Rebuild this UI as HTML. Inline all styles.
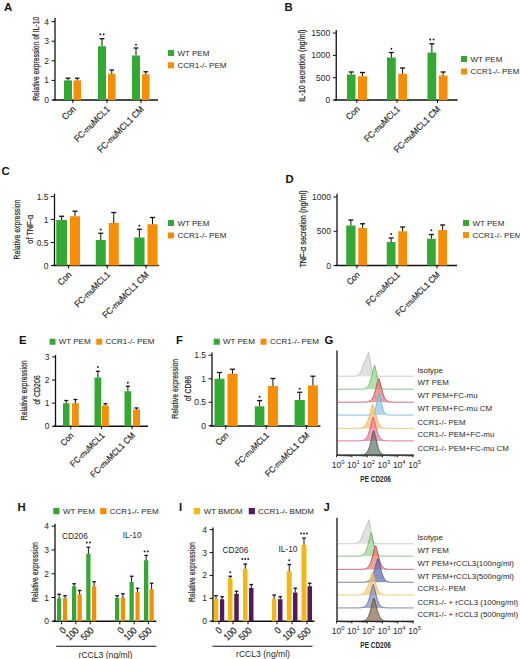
<!DOCTYPE html>
<html><head><meta charset="utf-8"><style>
html,body{margin:0;padding:0;background:#fff;}
svg{display:block;font-family:"Liberation Sans",sans-serif;}
</style></head><body>
<svg width="520" height="659" viewBox="0 0 520 659">
<rect width="520" height="659" fill="#fff"/>
<text x="4.00" y="10.50" font-size="11.3" text-anchor="start" font-weight="bold" fill="#111" >A</text>
<line x1="55.00" y1="18.00" x2="55.00" y2="100.50" stroke="#111111" stroke-width="1.3"/>
<line x1="51.50" y1="100.00" x2="55.00" y2="100.00" stroke="#111111" stroke-width="1.0"/>
<text x="49.00" y="103.00" font-size="8.5" text-anchor="end" font-weight="normal" fill="#262626" >0</text>
<line x1="51.50" y1="80.40" x2="55.00" y2="80.40" stroke="#111111" stroke-width="1.0"/>
<text x="49.00" y="83.40" font-size="8.5" text-anchor="end" font-weight="normal" fill="#262626" >1</text>
<line x1="51.50" y1="60.80" x2="55.00" y2="60.80" stroke="#111111" stroke-width="1.0"/>
<text x="49.00" y="63.80" font-size="8.5" text-anchor="end" font-weight="normal" fill="#262626" >2</text>
<line x1="51.50" y1="41.20" x2="55.00" y2="41.20" stroke="#111111" stroke-width="1.0"/>
<text x="49.00" y="44.20" font-size="8.5" text-anchor="end" font-weight="normal" fill="#262626" >3</text>
<line x1="51.50" y1="21.60" x2="55.00" y2="21.60" stroke="#111111" stroke-width="1.0"/>
<text x="49.00" y="24.60" font-size="8.5" text-anchor="end" font-weight="normal" fill="#262626" >4</text>
<line x1="53.00" y1="100.00" x2="158.00" y2="100.00" stroke="#111111" stroke-width="1.3"/>
<line x1="72.75" y1="100.00" x2="72.75" y2="103.00" stroke="#111111" stroke-width="1.0"/>
<line x1="107.00" y1="100.00" x2="107.00" y2="103.00" stroke="#111111" stroke-width="1.0"/>
<line x1="141.00" y1="100.00" x2="141.00" y2="103.00" stroke="#111111" stroke-width="1.0"/>
<rect x="64.00" y="80.40" width="8.00" height="19.60" fill="#33a933"/>
<line x1="68.00" y1="80.40" x2="68.00" y2="78.20" stroke="#111111" stroke-width="1.0"/>
<line x1="65.60" y1="78.20" x2="70.40" y2="78.20" stroke="#111111" stroke-width="1.3"/>
<rect x="73.50" y="80.40" width="7.50" height="19.60" fill="#f78c05"/>
<line x1="77.25" y1="80.40" x2="77.25" y2="78.20" stroke="#111111" stroke-width="1.0"/>
<line x1="75.00" y1="78.20" x2="79.50" y2="78.20" stroke="#111111" stroke-width="1.3"/>
<rect x="98.00" y="46.25" width="8.00" height="53.75" fill="#33a933"/>
<line x1="102.00" y1="46.25" x2="102.00" y2="38.75" stroke="#111111" stroke-width="1.0"/>
<line x1="99.60" y1="38.75" x2="104.40" y2="38.75" stroke="#111111" stroke-width="1.3"/>
<circle cx="100.30" cy="34.20" r="0.95" fill="#1a1a1a"/>
<circle cx="103.70" cy="34.20" r="0.95" fill="#1a1a1a"/>
<rect x="108.00" y="73.75" width="7.50" height="26.25" fill="#f78c05"/>
<line x1="111.75" y1="73.75" x2="111.75" y2="70.00" stroke="#111111" stroke-width="1.0"/>
<line x1="109.50" y1="70.00" x2="114.00" y2="70.00" stroke="#111111" stroke-width="1.3"/>
<rect x="132.00" y="55.50" width="8.00" height="44.50" fill="#33a933"/>
<line x1="136.00" y1="55.50" x2="136.00" y2="48.00" stroke="#111111" stroke-width="1.0"/>
<line x1="133.60" y1="48.00" x2="138.40" y2="48.00" stroke="#111111" stroke-width="1.3"/>
<circle cx="136.00" cy="44.70" r="0.95" fill="#1a1a1a"/>
<rect x="142.00" y="74.25" width="7.50" height="25.75" fill="#f78c05"/>
<line x1="145.75" y1="74.25" x2="145.75" y2="71.75" stroke="#111111" stroke-width="1.0"/>
<line x1="143.50" y1="71.75" x2="148.00" y2="71.75" stroke="#111111" stroke-width="1.3"/>
<rect x="168.00" y="50.00" width="6.00" height="6.00" fill="#33a933"/>
<text x="177.50" y="55.70" font-size="8" text-anchor="start" font-weight="normal" fill="#262626" >WT PEM</text>
<rect x="168.00" y="62.30" width="6.00" height="6.00" fill="#f78c05"/>
<text x="177.50" y="68.00" font-size="8" text-anchor="start" font-weight="normal" fill="#262626" >CCR1-/- PEM</text>
<text transform="translate(39.10,58.75) rotate(-90) scale(0.755,1)" font-size="9" text-anchor="middle" font-weight="normal" fill="#262626" stroke="#262626" stroke-width="0.2">Relative expression of IL-10</text>
<text transform="translate(76.25,109.80) rotate(-45) scale(0.909,1)" font-size="9.13" text-anchor="end" fill="#262626" stroke="#262626" stroke-width="0.18">Con</text>
<text transform="translate(110.50,109.80) rotate(-45) scale(0.909,1)" font-size="9.13" text-anchor="end" fill="#262626" stroke="#262626" stroke-width="0.18">FC-<tspan font-size="90%">mu</tspan>MCL1</text>
<text transform="translate(144.50,109.80) rotate(-45) scale(0.909,1)" font-size="9.13" text-anchor="end" fill="#262626" stroke="#262626" stroke-width="0.18">FC-<tspan font-size="90%">mu</tspan>MCL1 CM</text>
<text x="284.50" y="10.50" font-size="11.3" text-anchor="start" font-weight="bold" fill="#111" >B</text>
<line x1="336.25" y1="30.00" x2="336.25" y2="100.50" stroke="#111111" stroke-width="1.3"/>
<line x1="332.75" y1="100.00" x2="336.25" y2="100.00" stroke="#111111" stroke-width="1.0"/>
<text x="330.25" y="103.00" font-size="8.5" text-anchor="end" font-weight="normal" fill="#262626" >0</text>
<line x1="332.75" y1="77.67" x2="336.25" y2="77.67" stroke="#111111" stroke-width="1.0"/>
<text x="330.25" y="80.67" font-size="8.5" text-anchor="end" font-weight="normal" fill="#262626" >500</text>
<line x1="332.75" y1="55.34" x2="336.25" y2="55.34" stroke="#111111" stroke-width="1.0"/>
<text x="330.25" y="58.34" font-size="8.5" text-anchor="end" font-weight="normal" fill="#262626" >1000</text>
<line x1="332.75" y1="33.01" x2="336.25" y2="33.01" stroke="#111111" stroke-width="1.0"/>
<text x="330.25" y="36.01" font-size="8.5" text-anchor="end" font-weight="normal" fill="#262626" >1500</text>
<line x1="334.25" y1="100.00" x2="457.50" y2="100.00" stroke="#111111" stroke-width="1.3"/>
<line x1="356.75" y1="100.00" x2="356.75" y2="103.00" stroke="#111111" stroke-width="1.0"/>
<line x1="397.00" y1="100.00" x2="397.00" y2="103.00" stroke="#111111" stroke-width="1.0"/>
<line x1="437.50" y1="100.00" x2="437.50" y2="103.00" stroke="#111111" stroke-width="1.0"/>
<rect x="347.00" y="74.50" width="8.50" height="25.50" fill="#33a933"/>
<line x1="351.25" y1="74.50" x2="351.25" y2="72.00" stroke="#111111" stroke-width="1.0"/>
<line x1="348.75" y1="72.00" x2="353.75" y2="72.00" stroke="#111111" stroke-width="1.3"/>
<rect x="358.00" y="76.25" width="9.00" height="23.75" fill="#f78c05"/>
<line x1="362.50" y1="76.25" x2="362.50" y2="72.50" stroke="#111111" stroke-width="1.0"/>
<line x1="360.00" y1="72.50" x2="365.00" y2="72.50" stroke="#111111" stroke-width="1.3"/>
<rect x="387.00" y="57.50" width="8.75" height="42.50" fill="#33a933"/>
<line x1="391.38" y1="57.50" x2="391.38" y2="52.50" stroke="#111111" stroke-width="1.0"/>
<line x1="388.88" y1="52.50" x2="393.88" y2="52.50" stroke="#111111" stroke-width="1.3"/>
<circle cx="391.38" cy="48.70" r="0.95" fill="#1a1a1a"/>
<rect x="398.25" y="73.75" width="8.75" height="26.25" fill="#f78c05"/>
<line x1="402.62" y1="73.75" x2="402.62" y2="68.00" stroke="#111111" stroke-width="1.0"/>
<line x1="400.12" y1="68.00" x2="405.12" y2="68.00" stroke="#111111" stroke-width="1.3"/>
<rect x="427.50" y="52.50" width="8.75" height="47.50" fill="#33a933"/>
<line x1="431.88" y1="52.50" x2="431.88" y2="43.75" stroke="#111111" stroke-width="1.0"/>
<line x1="429.38" y1="43.75" x2="434.38" y2="43.75" stroke="#111111" stroke-width="1.3"/>
<circle cx="430.18" cy="39.45" r="0.95" fill="#1a1a1a"/>
<circle cx="433.57" cy="39.45" r="0.95" fill="#1a1a1a"/>
<rect x="438.75" y="75.50" width="8.75" height="24.50" fill="#f78c05"/>
<line x1="443.12" y1="75.50" x2="443.12" y2="72.00" stroke="#111111" stroke-width="1.0"/>
<line x1="440.62" y1="72.00" x2="445.62" y2="72.00" stroke="#111111" stroke-width="1.3"/>
<rect x="461.00" y="56.00" width="6.00" height="6.00" fill="#33a933"/>
<text x="470.50" y="61.70" font-size="8" text-anchor="start" font-weight="normal" fill="#262626" >WT PEM</text>
<rect x="461.00" y="68.50" width="6.00" height="6.00" fill="#f78c05"/>
<text x="470.50" y="74.20" font-size="8" text-anchor="start" font-weight="normal" fill="#262626" >CCR1-/- PEM</text>
<text transform="translate(304.70,65.60) rotate(-90) scale(0.776,1)" font-size="9.3" text-anchor="middle" font-weight="normal" fill="#262626" stroke="#262626" stroke-width="0.22">IL-10 secretion (ng/ml)</text>
<text transform="translate(360.25,109.80) rotate(-45) scale(0.909,1)" font-size="9.13" text-anchor="end" fill="#262626" stroke="#262626" stroke-width="0.18">Con</text>
<text transform="translate(400.50,109.80) rotate(-45) scale(0.909,1)" font-size="9.13" text-anchor="end" fill="#262626" stroke="#262626" stroke-width="0.18">FC-<tspan font-size="90%">mu</tspan>MCL1</text>
<text transform="translate(441.00,109.80) rotate(-45) scale(0.909,1)" font-size="9.13" text-anchor="end" fill="#262626" stroke="#262626" stroke-width="0.18">FC-<tspan font-size="90%">mu</tspan>MCL1 CM</text>
<text x="1.50" y="175.00" font-size="11.3" text-anchor="start" font-weight="bold" fill="#111" >C</text>
<line x1="54.50" y1="193.75" x2="54.50" y2="266.00" stroke="#111111" stroke-width="1.3"/>
<line x1="51.00" y1="196.50" x2="54.50" y2="196.50" stroke="#111111" stroke-width="1.0"/>
<text x="48.50" y="199.50" font-size="8.5" text-anchor="end" font-weight="normal" fill="#262626" >1.5</text>
<line x1="51.00" y1="219.50" x2="54.50" y2="219.50" stroke="#111111" stroke-width="1.0"/>
<text x="48.50" y="222.50" font-size="8.5" text-anchor="end" font-weight="normal" fill="#262626" >1</text>
<line x1="51.00" y1="242.50" x2="54.50" y2="242.50" stroke="#111111" stroke-width="1.0"/>
<text x="48.50" y="245.50" font-size="8.5" text-anchor="end" font-weight="normal" fill="#262626" >0.5</text>
<line x1="51.00" y1="265.50" x2="54.50" y2="265.50" stroke="#111111" stroke-width="1.0"/>
<text x="48.50" y="268.50" font-size="8.5" text-anchor="end" font-weight="normal" fill="#262626" >0</text>
<line x1="52.50" y1="265.50" x2="158.75" y2="265.50" stroke="#111111" stroke-width="1.3"/>
<line x1="68.50" y1="265.50" x2="68.50" y2="268.50" stroke="#111111" stroke-width="1.0"/>
<line x1="107.25" y1="265.50" x2="107.25" y2="268.50" stroke="#111111" stroke-width="1.0"/>
<line x1="146.00" y1="265.50" x2="146.00" y2="268.50" stroke="#111111" stroke-width="1.0"/>
<rect x="56.25" y="220.00" width="10.75" height="45.50" fill="#33a933"/>
<line x1="61.62" y1="220.00" x2="61.62" y2="216.25" stroke="#111111" stroke-width="1.0"/>
<line x1="59.12" y1="216.25" x2="64.12" y2="216.25" stroke="#111111" stroke-width="1.3"/>
<rect x="70.00" y="216.25" width="10.00" height="49.25" fill="#f78c05"/>
<line x1="75.00" y1="216.25" x2="75.00" y2="211.25" stroke="#111111" stroke-width="1.0"/>
<line x1="72.50" y1="211.25" x2="77.50" y2="211.25" stroke="#111111" stroke-width="1.3"/>
<rect x="95.75" y="240.00" width="10.00" height="25.50" fill="#33a933"/>
<line x1="100.75" y1="240.00" x2="100.75" y2="233.25" stroke="#111111" stroke-width="1.0"/>
<line x1="98.25" y1="233.25" x2="103.25" y2="233.25" stroke="#111111" stroke-width="1.3"/>
<circle cx="100.75" cy="229.45" r="0.95" fill="#1a1a1a"/>
<rect x="108.75" y="223.00" width="10.00" height="42.50" fill="#f78c05"/>
<line x1="113.75" y1="223.00" x2="113.75" y2="212.50" stroke="#111111" stroke-width="1.0"/>
<line x1="111.25" y1="212.50" x2="116.25" y2="212.50" stroke="#111111" stroke-width="1.3"/>
<rect x="134.25" y="237.50" width="10.25" height="28.00" fill="#33a933"/>
<line x1="139.38" y1="237.50" x2="139.38" y2="229.25" stroke="#111111" stroke-width="1.0"/>
<line x1="136.88" y1="229.25" x2="141.88" y2="229.25" stroke="#111111" stroke-width="1.3"/>
<circle cx="139.38" cy="225.70" r="0.95" fill="#1a1a1a"/>
<rect x="147.50" y="224.25" width="10.00" height="41.25" fill="#f78c05"/>
<line x1="152.50" y1="224.25" x2="152.50" y2="217.50" stroke="#111111" stroke-width="1.0"/>
<line x1="150.00" y1="217.50" x2="155.00" y2="217.50" stroke="#111111" stroke-width="1.3"/>
<rect x="168.00" y="220.00" width="6.00" height="6.00" fill="#33a933"/>
<text x="177.50" y="225.70" font-size="8" text-anchor="start" font-weight="normal" fill="#262626" >WT PEM</text>
<rect x="168.00" y="232.50" width="6.00" height="6.00" fill="#f78c05"/>
<text x="177.50" y="238.20" font-size="8" text-anchor="start" font-weight="normal" fill="#262626" >CCR1-/- PEM</text>
<text transform="translate(20.00,229.50) rotate(-90) scale(0.762,1)" font-size="9" text-anchor="middle" font-weight="normal" fill="#262626" stroke="#262626" stroke-width="0.2">Relative expression</text>
<text transform="translate(33.00,229.20) rotate(-90) scale(0.816,1)" font-size="9" text-anchor="middle" font-weight="normal" fill="#262626" stroke="#262626" stroke-width="0.2">of TNF-α</text>
<text transform="translate(72.00,275.30) rotate(-45) scale(0.909,1)" font-size="9.13" text-anchor="end" fill="#262626" stroke="#262626" stroke-width="0.18">Con</text>
<text transform="translate(110.75,275.30) rotate(-45) scale(0.909,1)" font-size="9.13" text-anchor="end" fill="#262626" stroke="#262626" stroke-width="0.18">FC-<tspan font-size="90%">mu</tspan>MCL1</text>
<text transform="translate(149.50,275.30) rotate(-45) scale(0.909,1)" font-size="9.13" text-anchor="end" fill="#262626" stroke="#262626" stroke-width="0.18">FC-<tspan font-size="90%">mu</tspan>MCL1 CM</text>
<text x="285.50" y="183.00" font-size="11.3" text-anchor="start" font-weight="bold" fill="#111" >D</text>
<line x1="337.00" y1="193.75" x2="337.00" y2="266.00" stroke="#111111" stroke-width="1.3"/>
<line x1="333.50" y1="265.50" x2="337.00" y2="265.50" stroke="#111111" stroke-width="1.0"/>
<text x="331.00" y="268.50" font-size="8.5" text-anchor="end" font-weight="normal" fill="#262626" >0</text>
<line x1="333.50" y1="231.25" x2="337.00" y2="231.25" stroke="#111111" stroke-width="1.0"/>
<text x="331.00" y="234.25" font-size="8.5" text-anchor="end" font-weight="normal" fill="#262626" >500</text>
<line x1="333.50" y1="197.00" x2="337.00" y2="197.00" stroke="#111111" stroke-width="1.0"/>
<text x="331.00" y="200.00" font-size="8.5" text-anchor="end" font-weight="normal" fill="#262626" >1000</text>
<line x1="335.00" y1="265.50" x2="457.00" y2="265.50" stroke="#111111" stroke-width="1.3"/>
<line x1="356.90" y1="265.50" x2="356.90" y2="268.50" stroke="#111111" stroke-width="1.0"/>
<line x1="396.90" y1="265.50" x2="396.90" y2="268.50" stroke="#111111" stroke-width="1.0"/>
<line x1="437.00" y1="265.50" x2="437.00" y2="268.50" stroke="#111111" stroke-width="1.0"/>
<rect x="346.25" y="225.50" width="9.25" height="40.00" fill="#33a933"/>
<line x1="350.88" y1="225.50" x2="350.88" y2="220.00" stroke="#111111" stroke-width="1.0"/>
<line x1="348.38" y1="220.00" x2="353.38" y2="220.00" stroke="#111111" stroke-width="1.3"/>
<rect x="358.25" y="228.00" width="8.75" height="37.50" fill="#f78c05"/>
<line x1="362.62" y1="228.00" x2="362.62" y2="223.75" stroke="#111111" stroke-width="1.0"/>
<line x1="360.12" y1="223.75" x2="365.12" y2="223.75" stroke="#111111" stroke-width="1.3"/>
<rect x="386.75" y="242.00" width="8.75" height="23.50" fill="#33a933"/>
<line x1="391.12" y1="242.00" x2="391.12" y2="238.00" stroke="#111111" stroke-width="1.0"/>
<line x1="388.62" y1="238.00" x2="393.62" y2="238.00" stroke="#111111" stroke-width="1.3"/>
<circle cx="391.12" cy="233.95" r="0.95" fill="#1a1a1a"/>
<rect x="398.25" y="231.25" width="8.75" height="34.25" fill="#f78c05"/>
<line x1="402.62" y1="231.25" x2="402.62" y2="227.00" stroke="#111111" stroke-width="1.0"/>
<line x1="400.12" y1="227.00" x2="405.12" y2="227.00" stroke="#111111" stroke-width="1.3"/>
<rect x="427.00" y="238.75" width="8.75" height="26.75" fill="#33a933"/>
<line x1="431.38" y1="238.75" x2="431.38" y2="234.50" stroke="#111111" stroke-width="1.0"/>
<line x1="428.88" y1="234.50" x2="433.88" y2="234.50" stroke="#111111" stroke-width="1.3"/>
<circle cx="431.38" cy="230.20" r="0.95" fill="#1a1a1a"/>
<rect x="438.25" y="230.00" width="8.75" height="35.50" fill="#f78c05"/>
<line x1="442.62" y1="230.00" x2="442.62" y2="225.00" stroke="#111111" stroke-width="1.0"/>
<line x1="440.12" y1="225.00" x2="445.12" y2="225.00" stroke="#111111" stroke-width="1.3"/>
<rect x="463.00" y="220.00" width="6.00" height="6.00" fill="#33a933"/>
<text x="472.50" y="225.70" font-size="8" text-anchor="start" font-weight="normal" fill="#262626" >WT PEM</text>
<rect x="463.00" y="232.00" width="6.00" height="6.00" fill="#f78c05"/>
<text x="472.50" y="237.70" font-size="8" text-anchor="start" font-weight="normal" fill="#262626" >CCR1-/- PEM</text>
<text transform="translate(305.70,229.00) rotate(-90) scale(0.785,1)" font-size="9.3" text-anchor="middle" font-weight="normal" fill="#262626" stroke="#262626" stroke-width="0.22">TNF-α secretion (ng/ml)</text>
<text transform="translate(360.40,275.30) rotate(-45) scale(0.909,1)" font-size="8.69" text-anchor="end" fill="#262626" stroke="#262626" stroke-width="0.18">Con</text>
<text transform="translate(400.40,275.30) rotate(-45) scale(0.909,1)" font-size="8.69" text-anchor="end" fill="#262626" stroke="#262626" stroke-width="0.18">FC-<tspan font-size="90%">mu</tspan>MCL1</text>
<text transform="translate(440.50,275.30) rotate(-45) scale(0.909,1)" font-size="8.69" text-anchor="end" fill="#262626" stroke="#262626" stroke-width="0.18">FC-<tspan font-size="90%">mu</tspan>MCL1 CM</text>
<text x="19.00" y="343.75" font-size="11.3" text-anchor="start" font-weight="bold" fill="#111" >E</text>
<rect x="49.50" y="338.75" width="6.00" height="6.00" fill="#33a933"/>
<text x="58.75" y="344.00" font-size="8" text-anchor="start" font-weight="normal" fill="#262626" >WT PEM</text>
<rect x="96.25" y="338.75" width="6.00" height="6.00" fill="#f78c05"/>
<text x="105.50" y="344.00" font-size="8" text-anchor="start" font-weight="normal" fill="#262626" >CCR1-/- PEM</text>
<line x1="55.50" y1="355.00" x2="55.50" y2="426.75" stroke="#111111" stroke-width="1.3"/>
<line x1="52.00" y1="426.25" x2="55.50" y2="426.25" stroke="#111111" stroke-width="1.0"/>
<text x="49.50" y="429.25" font-size="8.5" text-anchor="end" font-weight="normal" fill="#262626" >0</text>
<line x1="52.00" y1="403.15" x2="55.50" y2="403.15" stroke="#111111" stroke-width="1.0"/>
<text x="49.50" y="406.15" font-size="8.5" text-anchor="end" font-weight="normal" fill="#262626" >1</text>
<line x1="52.00" y1="380.05" x2="55.50" y2="380.05" stroke="#111111" stroke-width="1.0"/>
<text x="49.50" y="383.05" font-size="8.5" text-anchor="end" font-weight="normal" fill="#262626" >2</text>
<line x1="52.00" y1="356.95" x2="55.50" y2="356.95" stroke="#111111" stroke-width="1.0"/>
<text x="49.50" y="359.95" font-size="8.5" text-anchor="end" font-weight="normal" fill="#262626" >3</text>
<line x1="53.50" y1="426.25" x2="148.00" y2="426.25" stroke="#111111" stroke-width="1.3"/>
<line x1="70.75" y1="426.25" x2="70.75" y2="429.25" stroke="#111111" stroke-width="1.0"/>
<line x1="101.60" y1="426.25" x2="101.60" y2="429.25" stroke="#111111" stroke-width="1.0"/>
<line x1="132.10" y1="426.25" x2="132.10" y2="429.25" stroke="#111111" stroke-width="1.0"/>
<rect x="63.00" y="403.25" width="6.50" height="23.00" fill="#33a933"/>
<line x1="66.25" y1="403.25" x2="66.25" y2="400.50" stroke="#111111" stroke-width="1.0"/>
<line x1="64.30" y1="400.50" x2="68.20" y2="400.50" stroke="#111111" stroke-width="1.3"/>
<rect x="72.00" y="403.25" width="6.75" height="23.00" fill="#f78c05"/>
<line x1="75.38" y1="403.25" x2="75.38" y2="399.50" stroke="#111111" stroke-width="1.0"/>
<line x1="73.35" y1="399.50" x2="77.40" y2="399.50" stroke="#111111" stroke-width="1.3"/>
<rect x="94.50" y="377.50" width="6.75" height="48.75" fill="#33a933"/>
<line x1="97.88" y1="377.50" x2="97.88" y2="371.25" stroke="#111111" stroke-width="1.0"/>
<line x1="95.85" y1="371.25" x2="99.90" y2="371.25" stroke="#111111" stroke-width="1.3"/>
<circle cx="97.88" cy="366.95" r="0.95" fill="#1a1a1a"/>
<rect x="102.00" y="405.50" width="6.75" height="20.75" fill="#f78c05"/>
<line x1="105.38" y1="405.50" x2="105.38" y2="403.75" stroke="#111111" stroke-width="1.0"/>
<line x1="103.35" y1="403.75" x2="107.40" y2="403.75" stroke="#111111" stroke-width="1.3"/>
<rect x="124.50" y="391.25" width="6.75" height="35.00" fill="#33a933"/>
<line x1="127.88" y1="391.25" x2="127.88" y2="386.25" stroke="#111111" stroke-width="1.0"/>
<line x1="125.85" y1="386.25" x2="129.90" y2="386.25" stroke="#111111" stroke-width="1.3"/>
<circle cx="127.88" cy="382.70" r="0.95" fill="#1a1a1a"/>
<rect x="133.00" y="409.50" width="7.00" height="16.75" fill="#f78c05"/>
<line x1="136.50" y1="409.50" x2="136.50" y2="408.00" stroke="#111111" stroke-width="1.0"/>
<line x1="134.40" y1="408.00" x2="138.60" y2="408.00" stroke="#111111" stroke-width="1.3"/>
<text transform="translate(27.20,390.30) rotate(-90) scale(0.762,1)" font-size="9" text-anchor="middle" font-weight="normal" fill="#262626" stroke="#262626" stroke-width="0.2">Relative expression</text>
<text transform="translate(39.70,390.00) rotate(-90) scale(0.778,1)" font-size="9" text-anchor="middle" font-weight="normal" fill="#262626" stroke="#262626" stroke-width="0.2">of CD206</text>
<text transform="translate(74.25,436.05) rotate(-45) scale(0.909,1)" font-size="8.80" text-anchor="end" fill="#262626" stroke="#262626" stroke-width="0.18">Con</text>
<text transform="translate(105.10,436.05) rotate(-45) scale(0.909,1)" font-size="8.80" text-anchor="end" fill="#262626" stroke="#262626" stroke-width="0.18">FC-<tspan font-size="90%">mu</tspan>MCL1</text>
<text transform="translate(135.60,436.05) rotate(-45) scale(0.909,1)" font-size="8.80" text-anchor="end" fill="#262626" stroke="#262626" stroke-width="0.18">FC-<tspan font-size="90%">mu</tspan>MCL1 CM</text>
<text x="176.00" y="343.75" font-size="11.3" text-anchor="start" font-weight="bold" fill="#111" >F</text>
<rect x="213.75" y="338.75" width="6.00" height="6.00" fill="#33a933"/>
<text x="223.00" y="344.00" font-size="8" text-anchor="start" font-weight="normal" fill="#262626" >WT PEM</text>
<rect x="260.50" y="338.75" width="6.00" height="6.00" fill="#f78c05"/>
<text x="270.00" y="344.00" font-size="8" text-anchor="start" font-weight="normal" fill="#262626" >CCR1-/- PEM</text>
<line x1="212.00" y1="352.50" x2="212.00" y2="426.50" stroke="#111111" stroke-width="1.3"/>
<line x1="208.50" y1="355.25" x2="212.00" y2="355.25" stroke="#111111" stroke-width="1.0"/>
<text x="206.00" y="358.25" font-size="8.5" text-anchor="end" font-weight="normal" fill="#262626" >1.5</text>
<line x1="208.50" y1="378.75" x2="212.00" y2="378.75" stroke="#111111" stroke-width="1.0"/>
<text x="206.00" y="381.75" font-size="8.5" text-anchor="end" font-weight="normal" fill="#262626" >1</text>
<line x1="208.50" y1="402.25" x2="212.00" y2="402.25" stroke="#111111" stroke-width="1.0"/>
<text x="206.00" y="405.25" font-size="8.5" text-anchor="end" font-weight="normal" fill="#262626" >0.5</text>
<line x1="208.50" y1="425.75" x2="212.00" y2="425.75" stroke="#111111" stroke-width="1.0"/>
<text x="206.00" y="428.75" font-size="8.5" text-anchor="end" font-weight="normal" fill="#262626" >0</text>
<line x1="210.00" y1="426.00" x2="320.40" y2="426.00" stroke="#111111" stroke-width="1.3"/>
<line x1="225.70" y1="426.00" x2="225.70" y2="429.00" stroke="#111111" stroke-width="1.0"/>
<line x1="266.20" y1="426.00" x2="266.20" y2="429.00" stroke="#111111" stroke-width="1.0"/>
<line x1="306.40" y1="426.00" x2="306.40" y2="429.00" stroke="#111111" stroke-width="1.0"/>
<rect x="214.50" y="378.75" width="10.00" height="47.25" fill="#33a933"/>
<line x1="219.50" y1="378.75" x2="219.50" y2="372.50" stroke="#111111" stroke-width="1.0"/>
<line x1="217.00" y1="372.50" x2="222.00" y2="372.50" stroke="#111111" stroke-width="1.3"/>
<rect x="227.50" y="373.75" width="10.00" height="52.25" fill="#f78c05"/>
<line x1="232.50" y1="373.75" x2="232.50" y2="369.25" stroke="#111111" stroke-width="1.0"/>
<line x1="230.00" y1="369.25" x2="235.00" y2="369.25" stroke="#111111" stroke-width="1.3"/>
<rect x="254.80" y="406.30" width="9.60" height="19.70" fill="#33a933"/>
<line x1="259.60" y1="406.30" x2="259.60" y2="400.60" stroke="#111111" stroke-width="1.0"/>
<line x1="257.10" y1="400.60" x2="262.10" y2="400.60" stroke="#111111" stroke-width="1.3"/>
<circle cx="259.60" cy="396.70" r="0.95" fill="#1a1a1a"/>
<rect x="268.00" y="386.00" width="9.90" height="40.00" fill="#f78c05"/>
<line x1="272.95" y1="386.00" x2="272.95" y2="378.50" stroke="#111111" stroke-width="1.0"/>
<line x1="270.45" y1="378.50" x2="275.45" y2="378.50" stroke="#111111" stroke-width="1.3"/>
<rect x="294.60" y="400.00" width="10.20" height="26.00" fill="#33a933"/>
<line x1="299.70" y1="400.00" x2="299.70" y2="392.30" stroke="#111111" stroke-width="1.0"/>
<line x1="297.20" y1="392.30" x2="302.20" y2="392.30" stroke="#111111" stroke-width="1.3"/>
<circle cx="299.70" cy="388.70" r="0.95" fill="#1a1a1a"/>
<rect x="308.00" y="385.40" width="9.90" height="40.60" fill="#f78c05"/>
<line x1="312.95" y1="385.40" x2="312.95" y2="376.20" stroke="#111111" stroke-width="1.0"/>
<line x1="310.45" y1="376.20" x2="315.45" y2="376.20" stroke="#111111" stroke-width="1.3"/>
<text transform="translate(177.90,388.80) rotate(-90) scale(0.762,1)" font-size="9" text-anchor="middle" font-weight="normal" fill="#262626" stroke="#262626" stroke-width="0.2">Relative expression</text>
<text transform="translate(190.50,388.50) rotate(-90) scale(0.769,1)" font-size="9" text-anchor="middle" font-weight="normal" fill="#262626" stroke="#262626" stroke-width="0.2">of CD86</text>
<text transform="translate(229.20,435.80) rotate(-45) scale(0.909,1)" font-size="8.69" text-anchor="end" fill="#262626" stroke="#262626" stroke-width="0.18">Con</text>
<text transform="translate(269.70,435.80) rotate(-45) scale(0.909,1)" font-size="8.69" text-anchor="end" fill="#262626" stroke="#262626" stroke-width="0.18">FC-<tspan font-size="90%">mu</tspan>MCL1</text>
<text transform="translate(309.90,435.80) rotate(-45) scale(0.909,1)" font-size="8.69" text-anchor="end" fill="#262626" stroke="#262626" stroke-width="0.18">FC-<tspan font-size="90%">mu</tspan>MCL1 CM</text>
<text x="17.50" y="511.25" font-size="11.3" text-anchor="start" font-weight="bold" fill="#111" >H</text>
<rect x="53.25" y="508.00" width="6.25" height="6.25" fill="#33a933"/>
<text x="63.00" y="513.80" font-size="8" text-anchor="start" font-weight="normal" fill="#262626" >WT PEM</text>
<rect x="100.20" y="508.00" width="6.30" height="6.25" fill="#f78c05"/>
<text x="109.80" y="513.80" font-size="8" text-anchor="start" font-weight="normal" fill="#262626" >CCR1-/- PEM</text>
<line x1="55.00" y1="523.75" x2="55.00" y2="621.75" stroke="#111111" stroke-width="1.3"/>
<line x1="51.50" y1="621.25" x2="55.00" y2="621.25" stroke="#111111" stroke-width="1.0"/>
<text x="49.00" y="624.25" font-size="8.5" text-anchor="end" font-weight="normal" fill="#262626" >0</text>
<line x1="51.50" y1="597.50" x2="55.00" y2="597.50" stroke="#111111" stroke-width="1.0"/>
<text x="49.00" y="600.50" font-size="8.5" text-anchor="end" font-weight="normal" fill="#262626" >1</text>
<line x1="51.50" y1="573.75" x2="55.00" y2="573.75" stroke="#111111" stroke-width="1.0"/>
<text x="49.00" y="576.75" font-size="8.5" text-anchor="end" font-weight="normal" fill="#262626" >2</text>
<line x1="51.50" y1="550.00" x2="55.00" y2="550.00" stroke="#111111" stroke-width="1.0"/>
<text x="49.00" y="553.00" font-size="8.5" text-anchor="end" font-weight="normal" fill="#262626" >3</text>
<line x1="51.50" y1="526.25" x2="55.00" y2="526.25" stroke="#111111" stroke-width="1.0"/>
<text x="49.00" y="529.25" font-size="8.5" text-anchor="end" font-weight="normal" fill="#262626" >4</text>
<line x1="53.00" y1="621.25" x2="156.25" y2="621.25" stroke="#111111" stroke-width="1.3"/>
<line x1="61.60" y1="621.25" x2="61.60" y2="624.25" stroke="#111111" stroke-width="1.0"/>
<line x1="75.80" y1="621.25" x2="75.80" y2="624.25" stroke="#111111" stroke-width="1.0"/>
<line x1="90.20" y1="621.25" x2="90.20" y2="624.25" stroke="#111111" stroke-width="1.0"/>
<line x1="119.80" y1="621.25" x2="119.80" y2="624.25" stroke="#111111" stroke-width="1.0"/>
<line x1="134.20" y1="621.25" x2="134.20" y2="624.25" stroke="#111111" stroke-width="1.0"/>
<line x1="148.40" y1="621.25" x2="148.40" y2="624.25" stroke="#111111" stroke-width="1.0"/>
<rect x="57.00" y="598.25" width="4.25" height="23.00" fill="#33a933"/>
<line x1="59.12" y1="598.25" x2="59.12" y2="594.25" stroke="#111111" stroke-width="1.0"/>
<line x1="57.38" y1="594.25" x2="60.88" y2="594.25" stroke="#111111" stroke-width="1.3"/>
<rect x="63.00" y="598.25" width="4.00" height="23.00" fill="#f78c05"/>
<line x1="65.00" y1="598.25" x2="65.00" y2="595.75" stroke="#111111" stroke-width="1.0"/>
<line x1="63.25" y1="595.75" x2="66.75" y2="595.75" stroke="#111111" stroke-width="1.3"/>
<rect x="72.00" y="586.25" width="4.25" height="35.00" fill="#33a933"/>
<line x1="74.12" y1="586.25" x2="74.12" y2="583.75" stroke="#111111" stroke-width="1.0"/>
<line x1="72.38" y1="583.75" x2="75.88" y2="583.75" stroke="#111111" stroke-width="1.3"/>
<rect x="77.50" y="594.25" width="4.25" height="27.00" fill="#f78c05"/>
<line x1="79.62" y1="594.25" x2="79.62" y2="590.50" stroke="#111111" stroke-width="1.0"/>
<line x1="77.88" y1="590.50" x2="81.38" y2="590.50" stroke="#111111" stroke-width="1.3"/>
<rect x="86.25" y="553.75" width="4.25" height="67.50" fill="#33a933"/>
<line x1="88.38" y1="553.75" x2="88.38" y2="547.30" stroke="#111111" stroke-width="1.0"/>
<line x1="86.62" y1="547.30" x2="90.12" y2="547.30" stroke="#111111" stroke-width="1.3"/>
<rect x="92.00" y="586.25" width="4.25" height="35.00" fill="#f78c05"/>
<line x1="94.12" y1="586.25" x2="94.12" y2="581.75" stroke="#111111" stroke-width="1.0"/>
<line x1="92.38" y1="581.75" x2="95.88" y2="581.75" stroke="#111111" stroke-width="1.3"/>
<rect x="115.00" y="598.00" width="4.25" height="23.25" fill="#33a933"/>
<line x1="117.12" y1="598.00" x2="117.12" y2="595.75" stroke="#111111" stroke-width="1.0"/>
<line x1="115.38" y1="595.75" x2="118.88" y2="595.75" stroke="#111111" stroke-width="1.3"/>
<rect x="120.75" y="598.00" width="4.25" height="23.25" fill="#f78c05"/>
<line x1="122.88" y1="598.00" x2="122.88" y2="593.75" stroke="#111111" stroke-width="1.0"/>
<line x1="121.12" y1="593.75" x2="124.62" y2="593.75" stroke="#111111" stroke-width="1.3"/>
<rect x="129.50" y="582.00" width="4.25" height="39.25" fill="#33a933"/>
<line x1="131.62" y1="582.00" x2="131.62" y2="576.25" stroke="#111111" stroke-width="1.0"/>
<line x1="129.88" y1="576.25" x2="133.38" y2="576.25" stroke="#111111" stroke-width="1.3"/>
<rect x="135.50" y="591.75" width="4.00" height="29.50" fill="#f78c05"/>
<line x1="137.50" y1="591.75" x2="137.50" y2="588.25" stroke="#111111" stroke-width="1.0"/>
<line x1="135.75" y1="588.25" x2="139.25" y2="588.25" stroke="#111111" stroke-width="1.3"/>
<rect x="144.00" y="560.20" width="4.30" height="61.05" fill="#33a933"/>
<line x1="146.15" y1="560.20" x2="146.15" y2="555.40" stroke="#111111" stroke-width="1.0"/>
<line x1="144.40" y1="555.40" x2="147.90" y2="555.40" stroke="#111111" stroke-width="1.3"/>
<rect x="149.50" y="589.25" width="4.25" height="32.00" fill="#f78c05"/>
<line x1="151.62" y1="589.25" x2="151.62" y2="583.25" stroke="#111111" stroke-width="1.0"/>
<line x1="149.88" y1="583.25" x2="153.38" y2="583.25" stroke="#111111" stroke-width="1.3"/>
<circle cx="86.80" cy="542.50" r="0.95" fill="#1a1a1a"/>
<circle cx="90.00" cy="542.50" r="0.95" fill="#1a1a1a"/>
<circle cx="144.60" cy="551.40" r="0.95" fill="#1a1a1a"/>
<circle cx="147.80" cy="551.40" r="0.95" fill="#1a1a1a"/>
<text x="62.00" y="538.70" font-size="8.3" text-anchor="start" font-weight="normal" fill="#262626" >CD206</text>
<text x="122.70" y="537.90" font-size="8.3" text-anchor="start" font-weight="normal" fill="#262626" >IL-10</text>
<text transform="translate(37.70,572.00) rotate(-90) scale(0.762,1)" font-size="9" text-anchor="middle" font-weight="normal" fill="#262626" stroke="#262626" stroke-width="0.2">Relative expression</text>
<text transform="translate(66.50,631.00) rotate(-45) scale(0.909,1)" font-size="9.46" text-anchor="end" fill="#262626" stroke="#262626" stroke-width="0.18">0</text>
<text transform="translate(79.50,631.00) rotate(-45) scale(0.909,1)" font-size="9.46" text-anchor="end" fill="#262626" stroke="#262626" stroke-width="0.18">100</text>
<text transform="translate(94.50,631.00) rotate(-45) scale(0.909,1)" font-size="9.46" text-anchor="end" fill="#262626" stroke="#262626" stroke-width="0.18">500</text>
<text transform="translate(124.50,631.00) rotate(-45) scale(0.909,1)" font-size="9.46" text-anchor="end" fill="#262626" stroke="#262626" stroke-width="0.18">0</text>
<text transform="translate(137.50,631.00) rotate(-45) scale(0.909,1)" font-size="9.46" text-anchor="end" fill="#262626" stroke="#262626" stroke-width="0.18">100</text>
<text transform="translate(152.50,631.00) rotate(-45) scale(0.909,1)" font-size="9.46" text-anchor="end" fill="#262626" stroke="#262626" stroke-width="0.18">500</text>
<line x1="56.25" y1="646.25" x2="156.25" y2="646.25" stroke="#111111" stroke-width="1.0"/>
<text x="105.50" y="657.80" font-size="8.6" text-anchor="middle" font-weight="normal" fill="#262626" >rCCL3 (ng/ml)</text>
<text x="179.00" y="511.25" font-size="11.3" text-anchor="start" font-weight="bold" fill="#111" >I</text>
<rect x="193.75" y="508.00" width="6.25" height="6.25" fill="#f6b60f"/>
<text x="203.75" y="513.80" font-size="8" text-anchor="start" font-weight="normal" fill="#262626" >WT BMDM</text>
<rect x="248.75" y="508.00" width="6.25" height="6.25" fill="#501c5e"/>
<text x="258.00" y="513.80" font-size="8" text-anchor="start" font-weight="normal" fill="#262626" >CCR1-/- BMDM</text>
<line x1="213.00" y1="527.50" x2="213.00" y2="621.75" stroke="#111111" stroke-width="1.3"/>
<line x1="209.50" y1="621.25" x2="213.00" y2="621.25" stroke="#111111" stroke-width="1.0"/>
<text x="207.00" y="624.25" font-size="8.5" text-anchor="end" font-weight="normal" fill="#262626" >0</text>
<line x1="209.50" y1="598.35" x2="213.00" y2="598.35" stroke="#111111" stroke-width="1.0"/>
<text x="207.00" y="601.35" font-size="8.5" text-anchor="end" font-weight="normal" fill="#262626" >1</text>
<line x1="209.50" y1="575.45" x2="213.00" y2="575.45" stroke="#111111" stroke-width="1.0"/>
<text x="207.00" y="578.45" font-size="8.5" text-anchor="end" font-weight="normal" fill="#262626" >2</text>
<line x1="209.50" y1="552.55" x2="213.00" y2="552.55" stroke="#111111" stroke-width="1.0"/>
<text x="207.00" y="555.55" font-size="8.5" text-anchor="end" font-weight="normal" fill="#262626" >3</text>
<line x1="209.50" y1="529.65" x2="213.00" y2="529.65" stroke="#111111" stroke-width="1.0"/>
<text x="207.00" y="532.65" font-size="8.5" text-anchor="end" font-weight="normal" fill="#262626" >4</text>
<line x1="211.00" y1="621.25" x2="314.50" y2="621.25" stroke="#111111" stroke-width="1.3"/>
<line x1="219.00" y1="621.25" x2="219.00" y2="624.25" stroke="#111111" stroke-width="1.0"/>
<line x1="233.00" y1="621.25" x2="233.00" y2="624.25" stroke="#111111" stroke-width="1.0"/>
<line x1="248.00" y1="621.25" x2="248.00" y2="624.25" stroke="#111111" stroke-width="1.0"/>
<line x1="277.00" y1="621.25" x2="277.00" y2="624.25" stroke="#111111" stroke-width="1.0"/>
<line x1="292.00" y1="621.25" x2="292.00" y2="624.25" stroke="#111111" stroke-width="1.0"/>
<line x1="307.00" y1="621.25" x2="307.00" y2="624.25" stroke="#111111" stroke-width="1.0"/>
<rect x="213.75" y="598.75" width="4.50" height="22.50" fill="#f6b60f"/>
<line x1="216.00" y1="598.75" x2="216.00" y2="595.75" stroke="#111111" stroke-width="1.0"/>
<line x1="214.25" y1="595.75" x2="217.75" y2="595.75" stroke="#111111" stroke-width="1.3"/>
<rect x="220.00" y="599.25" width="4.25" height="22.00" fill="#501c5e"/>
<line x1="222.12" y1="599.25" x2="222.12" y2="596.75" stroke="#111111" stroke-width="1.0"/>
<line x1="220.38" y1="596.75" x2="223.88" y2="596.75" stroke="#111111" stroke-width="1.3"/>
<rect x="228.00" y="578.25" width="4.50" height="43.00" fill="#f6b60f"/>
<line x1="230.25" y1="578.25" x2="230.25" y2="576.25" stroke="#111111" stroke-width="1.0"/>
<line x1="228.50" y1="576.25" x2="232.00" y2="576.25" stroke="#111111" stroke-width="1.3"/>
<rect x="234.25" y="593.75" width="4.50" height="27.50" fill="#501c5e"/>
<line x1="236.50" y1="593.75" x2="236.50" y2="591.25" stroke="#111111" stroke-width="1.0"/>
<line x1="234.75" y1="591.25" x2="238.25" y2="591.25" stroke="#111111" stroke-width="1.3"/>
<rect x="243.00" y="568.75" width="4.50" height="52.50" fill="#f6b60f"/>
<line x1="245.25" y1="568.75" x2="245.25" y2="564.00" stroke="#111111" stroke-width="1.0"/>
<line x1="243.50" y1="564.00" x2="247.00" y2="564.00" stroke="#111111" stroke-width="1.3"/>
<rect x="249.00" y="588.00" width="4.50" height="33.25" fill="#501c5e"/>
<line x1="251.25" y1="588.00" x2="251.25" y2="584.50" stroke="#111111" stroke-width="1.0"/>
<line x1="249.50" y1="584.50" x2="253.00" y2="584.50" stroke="#111111" stroke-width="1.3"/>
<rect x="272.00" y="598.75" width="4.25" height="22.50" fill="#f6b60f"/>
<line x1="274.12" y1="598.75" x2="274.12" y2="595.00" stroke="#111111" stroke-width="1.0"/>
<line x1="272.38" y1="595.00" x2="275.88" y2="595.00" stroke="#111111" stroke-width="1.3"/>
<rect x="278.00" y="599.25" width="4.50" height="22.00" fill="#501c5e"/>
<line x1="280.25" y1="599.25" x2="280.25" y2="596.75" stroke="#111111" stroke-width="1.0"/>
<line x1="278.50" y1="596.75" x2="282.00" y2="596.75" stroke="#111111" stroke-width="1.3"/>
<rect x="286.75" y="571.25" width="5.00" height="50.00" fill="#f6b60f"/>
<line x1="289.25" y1="571.25" x2="289.25" y2="564.50" stroke="#111111" stroke-width="1.0"/>
<line x1="287.50" y1="564.50" x2="291.00" y2="564.50" stroke="#111111" stroke-width="1.3"/>
<rect x="293.00" y="592.50" width="4.50" height="28.75" fill="#501c5e"/>
<line x1="295.25" y1="592.50" x2="295.25" y2="588.25" stroke="#111111" stroke-width="1.0"/>
<line x1="293.50" y1="588.25" x2="297.00" y2="588.25" stroke="#111111" stroke-width="1.3"/>
<rect x="301.50" y="544.80" width="5.00" height="76.45" fill="#f6b60f"/>
<line x1="304.00" y1="544.80" x2="304.00" y2="538.00" stroke="#111111" stroke-width="1.0"/>
<line x1="302.25" y1="538.00" x2="305.75" y2="538.00" stroke="#111111" stroke-width="1.3"/>
<rect x="307.50" y="586.25" width="4.50" height="35.00" fill="#501c5e"/>
<line x1="309.75" y1="586.25" x2="309.75" y2="583.25" stroke="#111111" stroke-width="1.0"/>
<line x1="308.00" y1="583.25" x2="311.50" y2="583.25" stroke="#111111" stroke-width="1.3"/>
<circle cx="230.25" cy="572.20" r="0.95" fill="#1a1a1a"/>
<circle cx="242.35" cy="559.00" r="0.95" fill="#1a1a1a"/>
<circle cx="245.25" cy="559.00" r="0.95" fill="#1a1a1a"/>
<circle cx="248.15" cy="559.00" r="0.95" fill="#1a1a1a"/>
<circle cx="289.25" cy="560.30" r="0.95" fill="#1a1a1a"/>
<circle cx="301.10" cy="533.50" r="0.95" fill="#1a1a1a"/>
<circle cx="304.00" cy="533.50" r="0.95" fill="#1a1a1a"/>
<circle cx="306.90" cy="533.50" r="0.95" fill="#1a1a1a"/>
<text x="222.50" y="553.00" font-size="8.3" text-anchor="start" font-weight="normal" fill="#262626" >CD206</text>
<text x="278.50" y="552.30" font-size="8.3" text-anchor="start" font-weight="normal" fill="#262626" >IL-10</text>
<text transform="translate(195.30,572.10) rotate(-90) scale(0.762,1)" font-size="9" text-anchor="middle" font-weight="normal" fill="#262626" stroke="#262626" stroke-width="0.2">Relative expression</text>
<text transform="translate(222.50,631.00) rotate(-45) scale(0.909,1)" font-size="9.46" text-anchor="end" fill="#262626" stroke="#262626" stroke-width="0.18">0</text>
<text transform="translate(237.50,631.00) rotate(-45) scale(0.909,1)" font-size="9.46" text-anchor="end" fill="#262626" stroke="#262626" stroke-width="0.18">100</text>
<text transform="translate(252.50,631.00) rotate(-45) scale(0.909,1)" font-size="9.46" text-anchor="end" fill="#262626" stroke="#262626" stroke-width="0.18">500</text>
<text transform="translate(281.50,631.00) rotate(-45) scale(0.909,1)" font-size="9.46" text-anchor="end" fill="#262626" stroke="#262626" stroke-width="0.18">0</text>
<text transform="translate(296.50,631.00) rotate(-45) scale(0.909,1)" font-size="9.46" text-anchor="end" fill="#262626" stroke="#262626" stroke-width="0.18">100</text>
<text transform="translate(311.50,631.00) rotate(-45) scale(0.909,1)" font-size="9.46" text-anchor="end" fill="#262626" stroke="#262626" stroke-width="0.18">500</text>
<line x1="212.50" y1="646.25" x2="312.50" y2="646.25" stroke="#111111" stroke-width="1.0"/>
<text x="263.00" y="656.50" font-size="8.6" text-anchor="middle" font-weight="normal" fill="#262626" >rCCL3 (ng/ml)</text>
<text x="324.50" y="343.80" font-size="11.3" text-anchor="start" font-weight="bold" fill="#111" >G</text>
<path d="M337.60,376.25 L337.85,376.25 L338.11,376.25 L338.36,376.25 L338.61,376.25 L338.87,376.25 L339.12,376.25 L339.38,376.25 L339.63,376.25 L339.88,376.25 L340.14,376.25 L340.39,376.25 L340.64,376.25 L340.90,376.25 L341.15,376.25 L341.41,376.25 L341.66,376.25 L341.91,376.25 L342.17,376.25 L342.42,376.25 L342.67,376.25 L342.93,376.25 L343.18,376.25 L343.43,376.25 L343.69,376.25 L343.94,376.25 L344.20,376.25 L344.45,376.25 L344.70,376.25 L344.96,376.25 L345.21,376.25 L345.46,376.25 L345.72,376.25 L345.97,376.25 L346.22,376.25 L346.48,376.25 L346.73,376.25 L346.99,376.25 L347.24,376.25 L347.49,376.25 L347.75,376.25 L348.00,376.25 L348.25,376.25 L348.51,376.25 L348.76,376.25 L349.02,376.25 L349.27,376.25 L349.52,376.25 L349.78,376.25 L350.03,376.25 L350.28,376.25 L350.54,376.25 L350.79,376.25 L351.04,376.25 L351.30,376.25 L351.55,376.25 L351.81,376.24 L352.06,376.24 L352.31,376.24 L352.57,376.24 L352.82,376.23 L353.07,376.23 L353.33,376.22 L353.58,376.22 L353.83,376.21 L354.09,376.20 L354.34,376.18 L354.60,376.16 L354.85,376.14 L355.10,376.11 L355.36,376.08 L355.61,376.04 L355.86,376.00 L356.12,375.94 L356.37,375.87 L356.62,375.79 L356.88,375.70 L357.13,375.59 L357.39,375.47 L357.64,375.33 L357.89,375.16 L358.15,374.97 L358.40,374.76 L358.65,374.52 L358.91,374.25 L359.16,373.95 L359.42,373.62 L359.67,373.26 L359.92,372.86 L360.18,372.43 L360.43,371.97 L360.68,371.47 L360.94,370.94 L361.19,370.38 L361.44,369.80 L361.70,369.19 L361.95,368.55 L362.21,367.90 L362.46,367.24 L362.71,366.56 L362.97,365.89 L363.22,365.21 L363.47,364.54 L363.73,363.88 L363.98,363.24 L364.24,362.61 L364.49,362.01 L364.74,361.42 L365.00,360.86 L365.25,360.32 L365.50,359.79 L365.76,359.27 L366.01,358.74 L366.26,358.21 L366.52,357.68 L366.77,357.12 L367.03,356.51 L367.28,355.82 L367.53,355.05 L367.79,354.22 L368.04,353.38 L368.29,352.62 L368.55,352.29 L368.80,352.91 L369.05,353.94 L369.31,355.25 L369.56,356.75 L369.82,358.38 L370.07,360.08 L370.32,361.79 L370.58,363.47 L370.83,365.08 L371.08,366.59 L371.34,367.97 L371.59,369.23 L371.85,370.35 L372.10,371.34 L372.35,372.19 L372.61,372.93 L372.86,373.55 L373.11,374.07 L373.37,374.51 L373.62,374.86 L373.87,375.15 L374.13,375.39 L374.38,375.58 L374.64,375.73 L374.89,375.85 L375.14,375.94 L375.40,376.01 L375.65,376.07 L375.90,376.12 L376.16,376.15 L376.41,376.17 L376.66,376.19 L376.92,376.21 L377.17,376.22 L377.43,376.23 L377.68,376.23 L377.93,376.24 L378.19,376.24 L378.44,376.24 L378.69,376.25 L378.95,376.25 L379.20,376.25 L379.45,376.25 L379.71,376.25 L379.96,376.25 L380.22,376.25 L380.47,376.25 L380.72,376.25 L380.98,376.25 L381.23,376.25 L381.48,376.25 L381.74,376.25 L381.99,376.25 L382.25,376.25 L382.50,376.25 L382.75,376.25 L383.01,376.25 L383.26,376.25 L383.51,376.25 L383.77,376.25 L384.02,376.25 L384.27,376.25 L384.53,376.25 L384.78,376.25 L385.04,376.25 L385.29,376.25 L385.54,376.25 L385.80,376.25 L386.05,376.25 L386.30,376.25 L386.56,376.25 L386.81,376.25 L387.06,376.25 L387.32,376.25 L387.57,376.25 L387.83,376.25 L388.08,376.25 L388.33,376.25 L388.59,376.25 L388.84,376.25 L389.09,376.25 L389.35,376.25 L389.60,376.25 L389.86,376.25 L390.11,376.25 L390.36,376.25 L390.62,376.25 L390.87,376.25 L391.12,376.25 L391.38,376.25 L391.63,376.25 L391.88,376.25 L392.14,376.25 L392.39,376.25 L392.65,376.25 L392.90,376.25 L393.15,376.25 L393.41,376.25 L393.66,376.25 L393.91,376.25 L394.17,376.25 L394.42,376.25 L394.68,376.25 L394.93,376.25 L395.18,376.25 L395.44,376.25 L395.69,376.25 L395.94,376.25 L396.20,376.25 L396.45,376.25 L396.70,376.25 L396.96,376.25 L397.21,376.25 L397.47,376.25 L397.72,376.25 L397.97,376.25 L398.23,376.25 L398.48,376.25 L398.73,376.25 L398.99,376.25 L399.24,376.25 L399.49,376.25 L399.75,376.25 L400.00,376.25 L400.26,376.25 L400.51,376.25 L400.76,376.25 L401.02,376.25 L401.27,376.25 L401.52,376.25 L401.78,376.25 L402.03,376.25 L402.28,376.25 L402.54,376.25 L402.79,376.25 L403.05,376.25 L403.30,376.25 L403.55,376.25 L403.81,376.25 L404.06,376.25 L404.31,376.25 L404.57,376.25 L404.82,376.25 L405.08,376.25 L405.33,376.25 L405.58,376.25 L405.84,376.25 L406.09,376.25 L406.34,376.25 L406.60,376.25 L406.85,376.25 L407.10,376.25 L407.36,376.25 L407.61,376.25 L407.87,376.25 L408.12,376.25 L408.37,376.25 L408.63,376.25 L408.88,376.25 L409.13,376.25 L409.39,376.25 L409.64,376.25 L409.89,376.25 L410.15,376.25 L410.40,376.25 L410.66,376.25 L410.91,376.25 L411.16,376.25 L411.42,376.25 L411.67,376.25 L411.92,376.25 L412.18,376.25 L412.43,376.25 L412.69,376.25 L412.94,376.25 L413.19,376.25 L413.45,376.25 L413.70,376.25 L413.7,376.25 L337.6,376.25 Z" fill="#d4d4d4" fill-opacity="0.72" stroke="none"/>
<path d="M337.60,376.25 L337.85,376.25 L338.11,376.25 L338.36,376.25 L338.61,376.25 L338.87,376.25 L339.12,376.25 L339.38,376.25 L339.63,376.25 L339.88,376.25 L340.14,376.25 L340.39,376.25 L340.64,376.25 L340.90,376.25 L341.15,376.25 L341.41,376.25 L341.66,376.25 L341.91,376.25 L342.17,376.25 L342.42,376.25 L342.67,376.25 L342.93,376.25 L343.18,376.25 L343.43,376.25 L343.69,376.25 L343.94,376.25 L344.20,376.25 L344.45,376.25 L344.70,376.25 L344.96,376.25 L345.21,376.25 L345.46,376.25 L345.72,376.25 L345.97,376.25 L346.22,376.25 L346.48,376.25 L346.73,376.25 L346.99,376.25 L347.24,376.25 L347.49,376.25 L347.75,376.25 L348.00,376.25 L348.25,376.25 L348.51,376.25 L348.76,376.25 L349.02,376.25 L349.27,376.25 L349.52,376.25 L349.78,376.25 L350.03,376.25 L350.28,376.25 L350.54,376.25 L350.79,376.25 L351.04,376.25 L351.30,376.25 L351.55,376.25 L351.81,376.24 L352.06,376.24 L352.31,376.24 L352.57,376.24 L352.82,376.23 L353.07,376.23 L353.33,376.22 L353.58,376.22 L353.83,376.21 L354.09,376.20 L354.34,376.18 L354.60,376.16 L354.85,376.14 L355.10,376.11 L355.36,376.08 L355.61,376.04 L355.86,376.00 L356.12,375.94 L356.37,375.87 L356.62,375.79 L356.88,375.70 L357.13,375.59 L357.39,375.47 L357.64,375.33 L357.89,375.16 L358.15,374.97 L358.40,374.76 L358.65,374.52 L358.91,374.25 L359.16,373.95 L359.42,373.62 L359.67,373.26 L359.92,372.86 L360.18,372.43 L360.43,371.97 L360.68,371.47 L360.94,370.94 L361.19,370.38 L361.44,369.80 L361.70,369.19 L361.95,368.55 L362.21,367.90 L362.46,367.24 L362.71,366.56 L362.97,365.89 L363.22,365.21 L363.47,364.54 L363.73,363.88 L363.98,363.24 L364.24,362.61 L364.49,362.01 L364.74,361.42 L365.00,360.86 L365.25,360.32 L365.50,359.79 L365.76,359.27 L366.01,358.74 L366.26,358.21 L366.52,357.68 L366.77,357.12 L367.03,356.51 L367.28,355.82 L367.53,355.05 L367.79,354.22 L368.04,353.38 L368.29,352.62 L368.55,352.29 L368.80,352.91 L369.05,353.94 L369.31,355.25 L369.56,356.75 L369.82,358.38 L370.07,360.08 L370.32,361.79 L370.58,363.47 L370.83,365.08 L371.08,366.59 L371.34,367.97 L371.59,369.23 L371.85,370.35 L372.10,371.34 L372.35,372.19 L372.61,372.93 L372.86,373.55 L373.11,374.07 L373.37,374.51 L373.62,374.86 L373.87,375.15 L374.13,375.39 L374.38,375.58 L374.64,375.73 L374.89,375.85 L375.14,375.94 L375.40,376.01 L375.65,376.07 L375.90,376.12 L376.16,376.15 L376.41,376.17 L376.66,376.19 L376.92,376.21 L377.17,376.22 L377.43,376.23 L377.68,376.23 L377.93,376.24 L378.19,376.24 L378.44,376.24 L378.69,376.25 L378.95,376.25 L379.20,376.25 L379.45,376.25 L379.71,376.25 L379.96,376.25 L380.22,376.25 L380.47,376.25 L380.72,376.25 L380.98,376.25 L381.23,376.25 L381.48,376.25 L381.74,376.25 L381.99,376.25 L382.25,376.25 L382.50,376.25 L382.75,376.25 L383.01,376.25 L383.26,376.25 L383.51,376.25 L383.77,376.25 L384.02,376.25 L384.27,376.25 L384.53,376.25 L384.78,376.25 L385.04,376.25 L385.29,376.25 L385.54,376.25 L385.80,376.25 L386.05,376.25 L386.30,376.25 L386.56,376.25 L386.81,376.25 L387.06,376.25 L387.32,376.25 L387.57,376.25 L387.83,376.25 L388.08,376.25 L388.33,376.25 L388.59,376.25 L388.84,376.25 L389.09,376.25 L389.35,376.25 L389.60,376.25 L389.86,376.25 L390.11,376.25 L390.36,376.25 L390.62,376.25 L390.87,376.25 L391.12,376.25 L391.38,376.25 L391.63,376.25 L391.88,376.25 L392.14,376.25 L392.39,376.25 L392.65,376.25 L392.90,376.25 L393.15,376.25 L393.41,376.25 L393.66,376.25 L393.91,376.25 L394.17,376.25 L394.42,376.25 L394.68,376.25 L394.93,376.25 L395.18,376.25 L395.44,376.25 L395.69,376.25 L395.94,376.25 L396.20,376.25 L396.45,376.25 L396.70,376.25 L396.96,376.25 L397.21,376.25 L397.47,376.25 L397.72,376.25 L397.97,376.25 L398.23,376.25 L398.48,376.25 L398.73,376.25 L398.99,376.25 L399.24,376.25 L399.49,376.25 L399.75,376.25 L400.00,376.25 L400.26,376.25 L400.51,376.25 L400.76,376.25 L401.02,376.25 L401.27,376.25 L401.52,376.25 L401.78,376.25 L402.03,376.25 L402.28,376.25 L402.54,376.25 L402.79,376.25 L403.05,376.25 L403.30,376.25 L403.55,376.25 L403.81,376.25 L404.06,376.25 L404.31,376.25 L404.57,376.25 L404.82,376.25 L405.08,376.25 L405.33,376.25 L405.58,376.25 L405.84,376.25 L406.09,376.25 L406.34,376.25 L406.60,376.25 L406.85,376.25 L407.10,376.25 L407.36,376.25 L407.61,376.25 L407.87,376.25 L408.12,376.25 L408.37,376.25 L408.63,376.25 L408.88,376.25 L409.13,376.25 L409.39,376.25 L409.64,376.25 L409.89,376.25 L410.15,376.25 L410.40,376.25 L410.66,376.25 L410.91,376.25 L411.16,376.25 L411.42,376.25 L411.67,376.25 L411.92,376.25 L412.18,376.25 L412.43,376.25 L412.69,376.25 L412.94,376.25 L413.19,376.25 L413.45,376.25 L413.70,376.25" fill="none" stroke="#bcbcbc" stroke-width="0.9"/>
<path d="M337.60,389.20 L337.85,389.20 L338.11,389.20 L338.36,389.20 L338.61,389.20 L338.87,389.20 L339.12,389.20 L339.38,389.20 L339.63,389.20 L339.88,389.20 L340.14,389.20 L340.39,389.20 L340.64,389.20 L340.90,389.20 L341.15,389.20 L341.41,389.20 L341.66,389.20 L341.91,389.20 L342.17,389.20 L342.42,389.20 L342.67,389.20 L342.93,389.20 L343.18,389.20 L343.43,389.20 L343.69,389.20 L343.94,389.20 L344.20,389.20 L344.45,389.20 L344.70,389.20 L344.96,389.20 L345.21,389.20 L345.46,389.20 L345.72,389.20 L345.97,389.20 L346.22,389.20 L346.48,389.20 L346.73,389.20 L346.99,389.20 L347.24,389.20 L347.49,389.20 L347.75,389.20 L348.00,389.20 L348.25,389.20 L348.51,389.20 L348.76,389.20 L349.02,389.20 L349.27,389.20 L349.52,389.20 L349.78,389.20 L350.03,389.20 L350.28,389.20 L350.54,389.20 L350.79,389.20 L351.04,389.20 L351.30,389.20 L351.55,389.20 L351.81,389.20 L352.06,389.20 L352.31,389.20 L352.57,389.20 L352.82,389.20 L353.07,389.20 L353.33,389.20 L353.58,389.20 L353.83,389.20 L354.09,389.20 L354.34,389.20 L354.60,389.20 L354.85,389.20 L355.10,389.20 L355.36,389.20 L355.61,389.20 L355.86,389.20 L356.12,389.20 L356.37,389.20 L356.62,389.20 L356.88,389.20 L357.13,389.20 L357.39,389.20 L357.64,389.19 L357.89,389.19 L358.15,389.19 L358.40,389.19 L358.65,389.19 L358.91,389.19 L359.16,389.18 L359.42,389.18 L359.67,389.18 L359.92,389.17 L360.18,389.17 L360.43,389.16 L360.68,389.16 L360.94,389.15 L361.19,389.14 L361.44,389.13 L361.70,389.11 L361.95,389.10 L362.21,389.08 L362.46,389.06 L362.71,389.03 L362.97,389.00 L363.22,388.97 L363.47,388.93 L363.73,388.89 L363.98,388.84 L364.24,388.78 L364.49,388.71 L364.74,388.63 L365.00,388.55 L365.25,388.45 L365.50,388.33 L365.76,388.21 L366.01,388.06 L366.26,387.90 L366.52,387.71 L366.77,387.51 L367.03,387.28 L367.28,387.02 L367.53,386.73 L367.79,386.41 L368.04,386.06 L368.29,385.67 L368.55,385.25 L368.80,384.78 L369.05,384.26 L369.31,383.70 L369.56,383.10 L369.82,382.44 L370.07,381.73 L370.32,380.98 L370.58,380.17 L370.83,379.31 L371.08,378.40 L371.34,377.44 L371.59,376.44 L371.85,375.40 L372.10,374.33 L372.35,373.24 L372.61,372.13 L372.86,371.02 L373.11,369.93 L373.37,368.87 L373.62,367.86 L373.87,366.93 L374.13,366.12 L374.38,365.49 L374.64,365.23 L374.89,365.81 L375.14,366.73 L375.40,367.86 L375.65,369.11 L375.90,370.44 L376.16,371.80 L376.41,373.16 L376.66,374.50 L376.92,375.81 L377.17,377.07 L377.43,378.26 L377.68,379.38 L377.93,380.42 L378.19,381.39 L378.44,382.28 L378.69,383.10 L378.95,383.84 L379.20,384.51 L379.45,385.11 L379.71,385.64 L379.96,386.12 L380.22,386.54 L380.47,386.91 L380.72,387.24 L380.98,387.53 L381.23,387.77 L381.48,387.99 L381.74,388.17 L381.99,388.33 L382.25,388.47 L382.50,388.59 L382.75,388.69 L383.01,388.77 L383.26,388.84 L383.51,388.91 L383.77,388.96 L384.02,389.00 L384.27,389.03 L384.53,389.06 L384.78,389.09 L385.04,389.11 L385.29,389.13 L385.54,389.14 L385.80,389.15 L386.05,389.16 L386.30,389.17 L386.56,389.17 L386.81,389.18 L387.06,389.18 L387.32,389.19 L387.57,389.19 L387.83,389.19 L388.08,389.19 L388.33,389.19 L388.59,389.20 L388.84,389.20 L389.09,389.20 L389.35,389.20 L389.60,389.20 L389.86,389.20 L390.11,389.20 L390.36,389.20 L390.62,389.20 L390.87,389.20 L391.12,389.20 L391.38,389.20 L391.63,389.20 L391.88,389.20 L392.14,389.20 L392.39,389.20 L392.65,389.20 L392.90,389.20 L393.15,389.20 L393.41,389.20 L393.66,389.20 L393.91,389.20 L394.17,389.20 L394.42,389.20 L394.68,389.20 L394.93,389.20 L395.18,389.20 L395.44,389.20 L395.69,389.20 L395.94,389.20 L396.20,389.20 L396.45,389.20 L396.70,389.20 L396.96,389.20 L397.21,389.20 L397.47,389.20 L397.72,389.20 L397.97,389.20 L398.23,389.20 L398.48,389.20 L398.73,389.20 L398.99,389.20 L399.24,389.20 L399.49,389.20 L399.75,389.20 L400.00,389.20 L400.26,389.20 L400.51,389.20 L400.76,389.20 L401.02,389.20 L401.27,389.20 L401.52,389.20 L401.78,389.20 L402.03,389.20 L402.28,389.20 L402.54,389.20 L402.79,389.20 L403.05,389.20 L403.30,389.20 L403.55,389.20 L403.81,389.20 L404.06,389.20 L404.31,389.20 L404.57,389.20 L404.82,389.20 L405.08,389.20 L405.33,389.20 L405.58,389.20 L405.84,389.20 L406.09,389.20 L406.34,389.20 L406.60,389.20 L406.85,389.20 L407.10,389.20 L407.36,389.20 L407.61,389.20 L407.87,389.20 L408.12,389.20 L408.37,389.20 L408.63,389.20 L408.88,389.20 L409.13,389.20 L409.39,389.20 L409.64,389.20 L409.89,389.20 L410.15,389.20 L410.40,389.20 L410.66,389.20 L410.91,389.20 L411.16,389.20 L411.42,389.20 L411.67,389.20 L411.92,389.20 L412.18,389.20 L412.43,389.20 L412.69,389.20 L412.94,389.20 L413.19,389.20 L413.45,389.20 L413.70,389.20 L413.7,389.20 L337.6,389.20 Z" fill="#9cd392" fill-opacity="0.72" stroke="none"/>
<path d="M337.60,389.20 L337.85,389.20 L338.11,389.20 L338.36,389.20 L338.61,389.20 L338.87,389.20 L339.12,389.20 L339.38,389.20 L339.63,389.20 L339.88,389.20 L340.14,389.20 L340.39,389.20 L340.64,389.20 L340.90,389.20 L341.15,389.20 L341.41,389.20 L341.66,389.20 L341.91,389.20 L342.17,389.20 L342.42,389.20 L342.67,389.20 L342.93,389.20 L343.18,389.20 L343.43,389.20 L343.69,389.20 L343.94,389.20 L344.20,389.20 L344.45,389.20 L344.70,389.20 L344.96,389.20 L345.21,389.20 L345.46,389.20 L345.72,389.20 L345.97,389.20 L346.22,389.20 L346.48,389.20 L346.73,389.20 L346.99,389.20 L347.24,389.20 L347.49,389.20 L347.75,389.20 L348.00,389.20 L348.25,389.20 L348.51,389.20 L348.76,389.20 L349.02,389.20 L349.27,389.20 L349.52,389.20 L349.78,389.20 L350.03,389.20 L350.28,389.20 L350.54,389.20 L350.79,389.20 L351.04,389.20 L351.30,389.20 L351.55,389.20 L351.81,389.20 L352.06,389.20 L352.31,389.20 L352.57,389.20 L352.82,389.20 L353.07,389.20 L353.33,389.20 L353.58,389.20 L353.83,389.20 L354.09,389.20 L354.34,389.20 L354.60,389.20 L354.85,389.20 L355.10,389.20 L355.36,389.20 L355.61,389.20 L355.86,389.20 L356.12,389.20 L356.37,389.20 L356.62,389.20 L356.88,389.20 L357.13,389.20 L357.39,389.20 L357.64,389.19 L357.89,389.19 L358.15,389.19 L358.40,389.19 L358.65,389.19 L358.91,389.19 L359.16,389.18 L359.42,389.18 L359.67,389.18 L359.92,389.17 L360.18,389.17 L360.43,389.16 L360.68,389.16 L360.94,389.15 L361.19,389.14 L361.44,389.13 L361.70,389.11 L361.95,389.10 L362.21,389.08 L362.46,389.06 L362.71,389.03 L362.97,389.00 L363.22,388.97 L363.47,388.93 L363.73,388.89 L363.98,388.84 L364.24,388.78 L364.49,388.71 L364.74,388.63 L365.00,388.55 L365.25,388.45 L365.50,388.33 L365.76,388.21 L366.01,388.06 L366.26,387.90 L366.52,387.71 L366.77,387.51 L367.03,387.28 L367.28,387.02 L367.53,386.73 L367.79,386.41 L368.04,386.06 L368.29,385.67 L368.55,385.25 L368.80,384.78 L369.05,384.26 L369.31,383.70 L369.56,383.10 L369.82,382.44 L370.07,381.73 L370.32,380.98 L370.58,380.17 L370.83,379.31 L371.08,378.40 L371.34,377.44 L371.59,376.44 L371.85,375.40 L372.10,374.33 L372.35,373.24 L372.61,372.13 L372.86,371.02 L373.11,369.93 L373.37,368.87 L373.62,367.86 L373.87,366.93 L374.13,366.12 L374.38,365.49 L374.64,365.23 L374.89,365.81 L375.14,366.73 L375.40,367.86 L375.65,369.11 L375.90,370.44 L376.16,371.80 L376.41,373.16 L376.66,374.50 L376.92,375.81 L377.17,377.07 L377.43,378.26 L377.68,379.38 L377.93,380.42 L378.19,381.39 L378.44,382.28 L378.69,383.10 L378.95,383.84 L379.20,384.51 L379.45,385.11 L379.71,385.64 L379.96,386.12 L380.22,386.54 L380.47,386.91 L380.72,387.24 L380.98,387.53 L381.23,387.77 L381.48,387.99 L381.74,388.17 L381.99,388.33 L382.25,388.47 L382.50,388.59 L382.75,388.69 L383.01,388.77 L383.26,388.84 L383.51,388.91 L383.77,388.96 L384.02,389.00 L384.27,389.03 L384.53,389.06 L384.78,389.09 L385.04,389.11 L385.29,389.13 L385.54,389.14 L385.80,389.15 L386.05,389.16 L386.30,389.17 L386.56,389.17 L386.81,389.18 L387.06,389.18 L387.32,389.19 L387.57,389.19 L387.83,389.19 L388.08,389.19 L388.33,389.19 L388.59,389.20 L388.84,389.20 L389.09,389.20 L389.35,389.20 L389.60,389.20 L389.86,389.20 L390.11,389.20 L390.36,389.20 L390.62,389.20 L390.87,389.20 L391.12,389.20 L391.38,389.20 L391.63,389.20 L391.88,389.20 L392.14,389.20 L392.39,389.20 L392.65,389.20 L392.90,389.20 L393.15,389.20 L393.41,389.20 L393.66,389.20 L393.91,389.20 L394.17,389.20 L394.42,389.20 L394.68,389.20 L394.93,389.20 L395.18,389.20 L395.44,389.20 L395.69,389.20 L395.94,389.20 L396.20,389.20 L396.45,389.20 L396.70,389.20 L396.96,389.20 L397.21,389.20 L397.47,389.20 L397.72,389.20 L397.97,389.20 L398.23,389.20 L398.48,389.20 L398.73,389.20 L398.99,389.20 L399.24,389.20 L399.49,389.20 L399.75,389.20 L400.00,389.20 L400.26,389.20 L400.51,389.20 L400.76,389.20 L401.02,389.20 L401.27,389.20 L401.52,389.20 L401.78,389.20 L402.03,389.20 L402.28,389.20 L402.54,389.20 L402.79,389.20 L403.05,389.20 L403.30,389.20 L403.55,389.20 L403.81,389.20 L404.06,389.20 L404.31,389.20 L404.57,389.20 L404.82,389.20 L405.08,389.20 L405.33,389.20 L405.58,389.20 L405.84,389.20 L406.09,389.20 L406.34,389.20 L406.60,389.20 L406.85,389.20 L407.10,389.20 L407.36,389.20 L407.61,389.20 L407.87,389.20 L408.12,389.20 L408.37,389.20 L408.63,389.20 L408.88,389.20 L409.13,389.20 L409.39,389.20 L409.64,389.20 L409.89,389.20 L410.15,389.20 L410.40,389.20 L410.66,389.20 L410.91,389.20 L411.16,389.20 L411.42,389.20 L411.67,389.20 L411.92,389.20 L412.18,389.20 L412.43,389.20 L412.69,389.20 L412.94,389.20 L413.19,389.20 L413.45,389.20 L413.70,389.20" fill="none" stroke="#68b560" stroke-width="0.9"/>
<path d="M337.60,402.20 L337.85,402.20 L338.11,402.20 L338.36,402.20 L338.61,402.20 L338.87,402.20 L339.12,402.20 L339.38,402.20 L339.63,402.20 L339.88,402.20 L340.14,402.20 L340.39,402.20 L340.64,402.20 L340.90,402.20 L341.15,402.20 L341.41,402.20 L341.66,402.20 L341.91,402.20 L342.17,402.20 L342.42,402.20 L342.67,402.20 L342.93,402.20 L343.18,402.20 L343.43,402.20 L343.69,402.20 L343.94,402.20 L344.20,402.20 L344.45,402.20 L344.70,402.20 L344.96,402.20 L345.21,402.20 L345.46,402.20 L345.72,402.20 L345.97,402.20 L346.22,402.20 L346.48,402.20 L346.73,402.20 L346.99,402.20 L347.24,402.20 L347.49,402.20 L347.75,402.20 L348.00,402.20 L348.25,402.20 L348.51,402.20 L348.76,402.20 L349.02,402.20 L349.27,402.20 L349.52,402.20 L349.78,402.20 L350.03,402.20 L350.28,402.20 L350.54,402.20 L350.79,402.20 L351.04,402.20 L351.30,402.20 L351.55,402.20 L351.81,402.20 L352.06,402.20 L352.31,402.20 L352.57,402.20 L352.82,402.20 L353.07,402.20 L353.33,402.20 L353.58,402.20 L353.83,402.20 L354.09,402.20 L354.34,402.20 L354.60,402.20 L354.85,402.20 L355.10,402.20 L355.36,402.20 L355.61,402.20 L355.86,402.20 L356.12,402.20 L356.37,402.20 L356.62,402.20 L356.88,402.20 L357.13,402.20 L357.39,402.20 L357.64,402.20 L357.89,402.20 L358.15,402.20 L358.40,402.20 L358.65,402.20 L358.91,402.20 L359.16,402.20 L359.42,402.20 L359.67,402.20 L359.92,402.20 L360.18,402.20 L360.43,402.20 L360.68,402.20 L360.94,402.19 L361.19,402.19 L361.44,402.19 L361.70,402.19 L361.95,402.19 L362.21,402.19 L362.46,402.18 L362.71,402.18 L362.97,402.18 L363.22,402.17 L363.47,402.17 L363.73,402.16 L363.98,402.16 L364.24,402.15 L364.49,402.14 L364.74,402.13 L365.00,402.12 L365.25,402.10 L365.50,402.09 L365.76,402.07 L366.01,402.05 L366.26,402.02 L366.52,402.00 L366.77,401.96 L367.03,401.93 L367.28,401.88 L367.53,401.84 L367.79,401.78 L368.04,401.72 L368.29,401.65 L368.55,401.57 L368.80,401.48 L369.05,401.38 L369.31,401.26 L369.56,401.13 L369.82,400.99 L370.07,400.83 L370.32,400.65 L370.58,400.45 L370.83,400.22 L371.08,399.97 L371.34,399.70 L371.59,399.40 L371.85,399.07 L372.10,398.70 L372.35,398.31 L372.61,397.87 L372.86,397.40 L373.11,396.89 L373.37,396.33 L373.62,395.73 L373.87,395.09 L374.13,394.41 L374.38,393.68 L374.64,392.90 L374.89,392.08 L375.14,391.22 L375.40,390.31 L375.65,389.37 L375.90,388.40 L376.16,387.40 L376.41,386.38 L376.66,385.34 L376.92,384.31 L377.17,383.28 L377.43,382.28 L377.68,381.33 L377.93,380.43 L378.19,379.63 L378.44,378.96 L378.69,378.49 L378.95,378.56 L379.20,379.12 L379.45,379.88 L379.71,380.77 L379.96,381.75 L380.22,382.79 L380.47,383.87 L380.72,384.97 L380.98,386.07 L381.23,387.16 L381.48,388.23 L381.74,389.27 L381.99,390.27 L382.25,391.23 L382.50,392.14 L382.75,393.01 L383.01,393.83 L383.26,394.59 L383.51,395.31 L383.77,395.97 L384.02,396.59 L384.27,397.15 L384.53,397.68 L384.78,398.15 L385.04,398.59 L385.29,398.98 L385.54,399.34 L385.80,399.67 L386.05,399.96 L386.30,400.22 L386.56,400.46 L386.81,400.67 L387.06,400.86 L387.32,401.03 L387.57,401.18 L387.83,401.31 L388.08,401.42 L388.33,401.53 L388.59,401.62 L388.84,401.69 L389.09,401.76 L389.35,401.82 L389.60,401.88 L389.86,401.92 L390.11,401.96 L390.36,402.00 L390.62,402.03 L390.87,402.05 L391.12,402.07 L391.38,402.09 L391.63,402.11 L391.88,402.12 L392.14,402.13 L392.39,402.14 L392.65,402.15 L392.90,402.16 L393.15,402.17 L393.41,402.17 L393.66,402.18 L393.91,402.18 L394.17,402.18 L394.42,402.19 L394.68,402.19 L394.93,402.19 L395.18,402.19 L395.44,402.19 L395.69,402.19 L395.94,402.20 L396.20,402.20 L396.45,402.20 L396.70,402.20 L396.96,402.20 L397.21,402.20 L397.47,402.20 L397.72,402.20 L397.97,402.20 L398.23,402.20 L398.48,402.20 L398.73,402.20 L398.99,402.20 L399.24,402.20 L399.49,402.20 L399.75,402.20 L400.00,402.20 L400.26,402.20 L400.51,402.20 L400.76,402.20 L401.02,402.20 L401.27,402.20 L401.52,402.20 L401.78,402.20 L402.03,402.20 L402.28,402.20 L402.54,402.20 L402.79,402.20 L403.05,402.20 L403.30,402.20 L403.55,402.20 L403.81,402.20 L404.06,402.20 L404.31,402.20 L404.57,402.20 L404.82,402.20 L405.08,402.20 L405.33,402.20 L405.58,402.20 L405.84,402.20 L406.09,402.20 L406.34,402.20 L406.60,402.20 L406.85,402.20 L407.10,402.20 L407.36,402.20 L407.61,402.20 L407.87,402.20 L408.12,402.20 L408.37,402.20 L408.63,402.20 L408.88,402.20 L409.13,402.20 L409.39,402.20 L409.64,402.20 L409.89,402.20 L410.15,402.20 L410.40,402.20 L410.66,402.20 L410.91,402.20 L411.16,402.20 L411.42,402.20 L411.67,402.20 L411.92,402.20 L412.18,402.20 L412.43,402.20 L412.69,402.20 L412.94,402.20 L413.19,402.20 L413.45,402.20 L413.70,402.20 L413.7,402.20 L337.6,402.20 Z" fill="#e07a6c" fill-opacity="0.72" stroke="none"/>
<path d="M337.60,402.20 L337.85,402.20 L338.11,402.20 L338.36,402.20 L338.61,402.20 L338.87,402.20 L339.12,402.20 L339.38,402.20 L339.63,402.20 L339.88,402.20 L340.14,402.20 L340.39,402.20 L340.64,402.20 L340.90,402.20 L341.15,402.20 L341.41,402.20 L341.66,402.20 L341.91,402.20 L342.17,402.20 L342.42,402.20 L342.67,402.20 L342.93,402.20 L343.18,402.20 L343.43,402.20 L343.69,402.20 L343.94,402.20 L344.20,402.20 L344.45,402.20 L344.70,402.20 L344.96,402.20 L345.21,402.20 L345.46,402.20 L345.72,402.20 L345.97,402.20 L346.22,402.20 L346.48,402.20 L346.73,402.20 L346.99,402.20 L347.24,402.20 L347.49,402.20 L347.75,402.20 L348.00,402.20 L348.25,402.20 L348.51,402.20 L348.76,402.20 L349.02,402.20 L349.27,402.20 L349.52,402.20 L349.78,402.20 L350.03,402.20 L350.28,402.20 L350.54,402.20 L350.79,402.20 L351.04,402.20 L351.30,402.20 L351.55,402.20 L351.81,402.20 L352.06,402.20 L352.31,402.20 L352.57,402.20 L352.82,402.20 L353.07,402.20 L353.33,402.20 L353.58,402.20 L353.83,402.20 L354.09,402.20 L354.34,402.20 L354.60,402.20 L354.85,402.20 L355.10,402.20 L355.36,402.20 L355.61,402.20 L355.86,402.20 L356.12,402.20 L356.37,402.20 L356.62,402.20 L356.88,402.20 L357.13,402.20 L357.39,402.20 L357.64,402.20 L357.89,402.20 L358.15,402.20 L358.40,402.20 L358.65,402.20 L358.91,402.20 L359.16,402.20 L359.42,402.20 L359.67,402.20 L359.92,402.20 L360.18,402.20 L360.43,402.20 L360.68,402.20 L360.94,402.19 L361.19,402.19 L361.44,402.19 L361.70,402.19 L361.95,402.19 L362.21,402.19 L362.46,402.18 L362.71,402.18 L362.97,402.18 L363.22,402.17 L363.47,402.17 L363.73,402.16 L363.98,402.16 L364.24,402.15 L364.49,402.14 L364.74,402.13 L365.00,402.12 L365.25,402.10 L365.50,402.09 L365.76,402.07 L366.01,402.05 L366.26,402.02 L366.52,402.00 L366.77,401.96 L367.03,401.93 L367.28,401.88 L367.53,401.84 L367.79,401.78 L368.04,401.72 L368.29,401.65 L368.55,401.57 L368.80,401.48 L369.05,401.38 L369.31,401.26 L369.56,401.13 L369.82,400.99 L370.07,400.83 L370.32,400.65 L370.58,400.45 L370.83,400.22 L371.08,399.97 L371.34,399.70 L371.59,399.40 L371.85,399.07 L372.10,398.70 L372.35,398.31 L372.61,397.87 L372.86,397.40 L373.11,396.89 L373.37,396.33 L373.62,395.73 L373.87,395.09 L374.13,394.41 L374.38,393.68 L374.64,392.90 L374.89,392.08 L375.14,391.22 L375.40,390.31 L375.65,389.37 L375.90,388.40 L376.16,387.40 L376.41,386.38 L376.66,385.34 L376.92,384.31 L377.17,383.28 L377.43,382.28 L377.68,381.33 L377.93,380.43 L378.19,379.63 L378.44,378.96 L378.69,378.49 L378.95,378.56 L379.20,379.12 L379.45,379.88 L379.71,380.77 L379.96,381.75 L380.22,382.79 L380.47,383.87 L380.72,384.97 L380.98,386.07 L381.23,387.16 L381.48,388.23 L381.74,389.27 L381.99,390.27 L382.25,391.23 L382.50,392.14 L382.75,393.01 L383.01,393.83 L383.26,394.59 L383.51,395.31 L383.77,395.97 L384.02,396.59 L384.27,397.15 L384.53,397.68 L384.78,398.15 L385.04,398.59 L385.29,398.98 L385.54,399.34 L385.80,399.67 L386.05,399.96 L386.30,400.22 L386.56,400.46 L386.81,400.67 L387.06,400.86 L387.32,401.03 L387.57,401.18 L387.83,401.31 L388.08,401.42 L388.33,401.53 L388.59,401.62 L388.84,401.69 L389.09,401.76 L389.35,401.82 L389.60,401.88 L389.86,401.92 L390.11,401.96 L390.36,402.00 L390.62,402.03 L390.87,402.05 L391.12,402.07 L391.38,402.09 L391.63,402.11 L391.88,402.12 L392.14,402.13 L392.39,402.14 L392.65,402.15 L392.90,402.16 L393.15,402.17 L393.41,402.17 L393.66,402.18 L393.91,402.18 L394.17,402.18 L394.42,402.19 L394.68,402.19 L394.93,402.19 L395.18,402.19 L395.44,402.19 L395.69,402.19 L395.94,402.20 L396.20,402.20 L396.45,402.20 L396.70,402.20 L396.96,402.20 L397.21,402.20 L397.47,402.20 L397.72,402.20 L397.97,402.20 L398.23,402.20 L398.48,402.20 L398.73,402.20 L398.99,402.20 L399.24,402.20 L399.49,402.20 L399.75,402.20 L400.00,402.20 L400.26,402.20 L400.51,402.20 L400.76,402.20 L401.02,402.20 L401.27,402.20 L401.52,402.20 L401.78,402.20 L402.03,402.20 L402.28,402.20 L402.54,402.20 L402.79,402.20 L403.05,402.20 L403.30,402.20 L403.55,402.20 L403.81,402.20 L404.06,402.20 L404.31,402.20 L404.57,402.20 L404.82,402.20 L405.08,402.20 L405.33,402.20 L405.58,402.20 L405.84,402.20 L406.09,402.20 L406.34,402.20 L406.60,402.20 L406.85,402.20 L407.10,402.20 L407.36,402.20 L407.61,402.20 L407.87,402.20 L408.12,402.20 L408.37,402.20 L408.63,402.20 L408.88,402.20 L409.13,402.20 L409.39,402.20 L409.64,402.20 L409.89,402.20 L410.15,402.20 L410.40,402.20 L410.66,402.20 L410.91,402.20 L411.16,402.20 L411.42,402.20 L411.67,402.20 L411.92,402.20 L412.18,402.20 L412.43,402.20 L412.69,402.20 L412.94,402.20 L413.19,402.20 L413.45,402.20 L413.70,402.20" fill="none" stroke="#c23a52" stroke-width="0.9"/>
<path d="M337.60,415.10 L337.85,415.10 L338.11,415.10 L338.36,415.10 L338.61,415.10 L338.87,415.10 L339.12,415.10 L339.38,415.10 L339.63,415.10 L339.88,415.10 L340.14,415.10 L340.39,415.10 L340.64,415.10 L340.90,415.10 L341.15,415.10 L341.41,415.10 L341.66,415.10 L341.91,415.10 L342.17,415.10 L342.42,415.10 L342.67,415.10 L342.93,415.10 L343.18,415.10 L343.43,415.10 L343.69,415.10 L343.94,415.10 L344.20,415.10 L344.45,415.10 L344.70,415.10 L344.96,415.10 L345.21,415.10 L345.46,415.10 L345.72,415.10 L345.97,415.10 L346.22,415.10 L346.48,415.10 L346.73,415.10 L346.99,415.10 L347.24,415.10 L347.49,415.10 L347.75,415.10 L348.00,415.10 L348.25,415.10 L348.51,415.10 L348.76,415.10 L349.02,415.10 L349.27,415.10 L349.52,415.10 L349.78,415.10 L350.03,415.10 L350.28,415.10 L350.54,415.10 L350.79,415.10 L351.04,415.10 L351.30,415.10 L351.55,415.10 L351.81,415.10 L352.06,415.10 L352.31,415.10 L352.57,415.10 L352.82,415.10 L353.07,415.10 L353.33,415.10 L353.58,415.10 L353.83,415.10 L354.09,415.10 L354.34,415.10 L354.60,415.10 L354.85,415.10 L355.10,415.10 L355.36,415.10 L355.61,415.10 L355.86,415.10 L356.12,415.10 L356.37,415.10 L356.62,415.10 L356.88,415.10 L357.13,415.10 L357.39,415.10 L357.64,415.10 L357.89,415.10 L358.15,415.10 L358.40,415.10 L358.65,415.10 L358.91,415.10 L359.16,415.10 L359.42,415.10 L359.67,415.10 L359.92,415.10 L360.18,415.10 L360.43,415.10 L360.68,415.10 L360.94,415.10 L361.19,415.10 L361.44,415.10 L361.70,415.10 L361.95,415.10 L362.21,415.10 L362.46,415.10 L362.71,415.10 L362.97,415.10 L363.22,415.10 L363.47,415.10 L363.73,415.10 L363.98,415.10 L364.24,415.10 L364.49,415.10 L364.74,415.10 L365.00,415.10 L365.25,415.10 L365.50,415.09 L365.76,415.09 L366.01,415.09 L366.26,415.09 L366.52,415.09 L366.77,415.08 L367.03,415.08 L367.28,415.08 L367.53,415.07 L367.79,415.06 L368.04,415.05 L368.29,415.04 L368.55,415.03 L368.80,415.01 L369.05,414.99 L369.31,414.97 L369.56,414.94 L369.82,414.91 L370.07,414.87 L370.32,414.82 L370.58,414.77 L370.83,414.70 L371.08,414.62 L371.34,414.53 L371.59,414.42 L371.85,414.29 L372.10,414.14 L372.35,413.96 L372.61,413.76 L372.86,413.53 L373.11,413.26 L373.37,412.96 L373.62,412.61 L373.87,412.22 L374.13,411.77 L374.38,411.27 L374.64,410.71 L374.89,410.09 L375.14,409.40 L375.40,408.65 L375.65,407.82 L375.90,406.92 L376.16,405.95 L376.41,404.91 L376.66,403.81 L376.92,402.66 L377.17,401.45 L377.43,400.22 L377.68,398.96 L377.93,397.72 L378.19,396.51 L378.44,395.38 L378.69,394.37 L378.95,393.56 L379.20,393.10 L379.45,393.62 L379.71,394.54 L379.96,395.67 L380.22,396.92 L380.47,398.25 L380.72,399.60 L380.98,400.95 L381.23,402.27 L381.48,403.54 L381.74,404.75 L381.99,405.88 L382.25,406.93 L382.50,407.90 L382.75,408.79 L383.01,409.59 L383.26,410.31 L383.51,410.96 L383.77,411.53 L384.02,412.04 L384.27,412.49 L384.53,412.88 L384.78,413.22 L385.04,413.51 L385.29,413.76 L385.54,413.98 L385.80,414.17 L386.05,414.32 L386.30,414.46 L386.56,414.57 L386.81,414.66 L387.06,414.74 L387.32,414.81 L387.57,414.86 L387.83,414.90 L388.08,414.94 L388.33,414.97 L388.59,415.00 L388.84,415.02 L389.09,415.03 L389.35,415.05 L389.60,415.06 L389.86,415.07 L390.11,415.07 L390.36,415.08 L390.62,415.08 L390.87,415.09 L391.12,415.09 L391.38,415.09 L391.63,415.09 L391.88,415.10 L392.14,415.10 L392.39,415.10 L392.65,415.10 L392.90,415.10 L393.15,415.10 L393.41,415.10 L393.66,415.10 L393.91,415.10 L394.17,415.10 L394.42,415.10 L394.68,415.10 L394.93,415.10 L395.18,415.10 L395.44,415.10 L395.69,415.10 L395.94,415.10 L396.20,415.10 L396.45,415.10 L396.70,415.10 L396.96,415.10 L397.21,415.10 L397.47,415.10 L397.72,415.10 L397.97,415.10 L398.23,415.10 L398.48,415.10 L398.73,415.10 L398.99,415.10 L399.24,415.10 L399.49,415.10 L399.75,415.10 L400.00,415.10 L400.26,415.10 L400.51,415.10 L400.76,415.10 L401.02,415.10 L401.27,415.10 L401.52,415.10 L401.78,415.10 L402.03,415.10 L402.28,415.10 L402.54,415.10 L402.79,415.10 L403.05,415.10 L403.30,415.10 L403.55,415.10 L403.81,415.10 L404.06,415.10 L404.31,415.10 L404.57,415.10 L404.82,415.10 L405.08,415.10 L405.33,415.10 L405.58,415.10 L405.84,415.10 L406.09,415.10 L406.34,415.10 L406.60,415.10 L406.85,415.10 L407.10,415.10 L407.36,415.10 L407.61,415.10 L407.87,415.10 L408.12,415.10 L408.37,415.10 L408.63,415.10 L408.88,415.10 L409.13,415.10 L409.39,415.10 L409.64,415.10 L409.89,415.10 L410.15,415.10 L410.40,415.10 L410.66,415.10 L410.91,415.10 L411.16,415.10 L411.42,415.10 L411.67,415.10 L411.92,415.10 L412.18,415.10 L412.43,415.10 L412.69,415.10 L412.94,415.10 L413.19,415.10 L413.45,415.10 L413.70,415.10 L413.7,415.10 L337.6,415.10 Z" fill="#8fc8ea" fill-opacity="0.72" stroke="none"/>
<path d="M337.60,415.10 L337.85,415.10 L338.11,415.10 L338.36,415.10 L338.61,415.10 L338.87,415.10 L339.12,415.10 L339.38,415.10 L339.63,415.10 L339.88,415.10 L340.14,415.10 L340.39,415.10 L340.64,415.10 L340.90,415.10 L341.15,415.10 L341.41,415.10 L341.66,415.10 L341.91,415.10 L342.17,415.10 L342.42,415.10 L342.67,415.10 L342.93,415.10 L343.18,415.10 L343.43,415.10 L343.69,415.10 L343.94,415.10 L344.20,415.10 L344.45,415.10 L344.70,415.10 L344.96,415.10 L345.21,415.10 L345.46,415.10 L345.72,415.10 L345.97,415.10 L346.22,415.10 L346.48,415.10 L346.73,415.10 L346.99,415.10 L347.24,415.10 L347.49,415.10 L347.75,415.10 L348.00,415.10 L348.25,415.10 L348.51,415.10 L348.76,415.10 L349.02,415.10 L349.27,415.10 L349.52,415.10 L349.78,415.10 L350.03,415.10 L350.28,415.10 L350.54,415.10 L350.79,415.10 L351.04,415.10 L351.30,415.10 L351.55,415.10 L351.81,415.10 L352.06,415.10 L352.31,415.10 L352.57,415.10 L352.82,415.10 L353.07,415.10 L353.33,415.10 L353.58,415.10 L353.83,415.10 L354.09,415.10 L354.34,415.10 L354.60,415.10 L354.85,415.10 L355.10,415.10 L355.36,415.10 L355.61,415.10 L355.86,415.10 L356.12,415.10 L356.37,415.10 L356.62,415.10 L356.88,415.10 L357.13,415.10 L357.39,415.10 L357.64,415.10 L357.89,415.10 L358.15,415.10 L358.40,415.10 L358.65,415.10 L358.91,415.10 L359.16,415.10 L359.42,415.10 L359.67,415.10 L359.92,415.10 L360.18,415.10 L360.43,415.10 L360.68,415.10 L360.94,415.10 L361.19,415.10 L361.44,415.10 L361.70,415.10 L361.95,415.10 L362.21,415.10 L362.46,415.10 L362.71,415.10 L362.97,415.10 L363.22,415.10 L363.47,415.10 L363.73,415.10 L363.98,415.10 L364.24,415.10 L364.49,415.10 L364.74,415.10 L365.00,415.10 L365.25,415.10 L365.50,415.09 L365.76,415.09 L366.01,415.09 L366.26,415.09 L366.52,415.09 L366.77,415.08 L367.03,415.08 L367.28,415.08 L367.53,415.07 L367.79,415.06 L368.04,415.05 L368.29,415.04 L368.55,415.03 L368.80,415.01 L369.05,414.99 L369.31,414.97 L369.56,414.94 L369.82,414.91 L370.07,414.87 L370.32,414.82 L370.58,414.77 L370.83,414.70 L371.08,414.62 L371.34,414.53 L371.59,414.42 L371.85,414.29 L372.10,414.14 L372.35,413.96 L372.61,413.76 L372.86,413.53 L373.11,413.26 L373.37,412.96 L373.62,412.61 L373.87,412.22 L374.13,411.77 L374.38,411.27 L374.64,410.71 L374.89,410.09 L375.14,409.40 L375.40,408.65 L375.65,407.82 L375.90,406.92 L376.16,405.95 L376.41,404.91 L376.66,403.81 L376.92,402.66 L377.17,401.45 L377.43,400.22 L377.68,398.96 L377.93,397.72 L378.19,396.51 L378.44,395.38 L378.69,394.37 L378.95,393.56 L379.20,393.10 L379.45,393.62 L379.71,394.54 L379.96,395.67 L380.22,396.92 L380.47,398.25 L380.72,399.60 L380.98,400.95 L381.23,402.27 L381.48,403.54 L381.74,404.75 L381.99,405.88 L382.25,406.93 L382.50,407.90 L382.75,408.79 L383.01,409.59 L383.26,410.31 L383.51,410.96 L383.77,411.53 L384.02,412.04 L384.27,412.49 L384.53,412.88 L384.78,413.22 L385.04,413.51 L385.29,413.76 L385.54,413.98 L385.80,414.17 L386.05,414.32 L386.30,414.46 L386.56,414.57 L386.81,414.66 L387.06,414.74 L387.32,414.81 L387.57,414.86 L387.83,414.90 L388.08,414.94 L388.33,414.97 L388.59,415.00 L388.84,415.02 L389.09,415.03 L389.35,415.05 L389.60,415.06 L389.86,415.07 L390.11,415.07 L390.36,415.08 L390.62,415.08 L390.87,415.09 L391.12,415.09 L391.38,415.09 L391.63,415.09 L391.88,415.10 L392.14,415.10 L392.39,415.10 L392.65,415.10 L392.90,415.10 L393.15,415.10 L393.41,415.10 L393.66,415.10 L393.91,415.10 L394.17,415.10 L394.42,415.10 L394.68,415.10 L394.93,415.10 L395.18,415.10 L395.44,415.10 L395.69,415.10 L395.94,415.10 L396.20,415.10 L396.45,415.10 L396.70,415.10 L396.96,415.10 L397.21,415.10 L397.47,415.10 L397.72,415.10 L397.97,415.10 L398.23,415.10 L398.48,415.10 L398.73,415.10 L398.99,415.10 L399.24,415.10 L399.49,415.10 L399.75,415.10 L400.00,415.10 L400.26,415.10 L400.51,415.10 L400.76,415.10 L401.02,415.10 L401.27,415.10 L401.52,415.10 L401.78,415.10 L402.03,415.10 L402.28,415.10 L402.54,415.10 L402.79,415.10 L403.05,415.10 L403.30,415.10 L403.55,415.10 L403.81,415.10 L404.06,415.10 L404.31,415.10 L404.57,415.10 L404.82,415.10 L405.08,415.10 L405.33,415.10 L405.58,415.10 L405.84,415.10 L406.09,415.10 L406.34,415.10 L406.60,415.10 L406.85,415.10 L407.10,415.10 L407.36,415.10 L407.61,415.10 L407.87,415.10 L408.12,415.10 L408.37,415.10 L408.63,415.10 L408.88,415.10 L409.13,415.10 L409.39,415.10 L409.64,415.10 L409.89,415.10 L410.15,415.10 L410.40,415.10 L410.66,415.10 L410.91,415.10 L411.16,415.10 L411.42,415.10 L411.67,415.10 L411.92,415.10 L412.18,415.10 L412.43,415.10 L412.69,415.10 L412.94,415.10 L413.19,415.10 L413.45,415.10 L413.70,415.10" fill="none" stroke="#5cb6e0" stroke-width="0.9"/>
<path d="M337.60,428.40 L337.85,428.40 L338.11,428.40 L338.36,428.40 L338.61,428.40 L338.87,428.40 L339.12,428.40 L339.38,428.40 L339.63,428.40 L339.88,428.40 L340.14,428.40 L340.39,428.40 L340.64,428.40 L340.90,428.40 L341.15,428.40 L341.41,428.40 L341.66,428.40 L341.91,428.40 L342.17,428.40 L342.42,428.40 L342.67,428.40 L342.93,428.40 L343.18,428.40 L343.43,428.40 L343.69,428.40 L343.94,428.40 L344.20,428.40 L344.45,428.40 L344.70,428.40 L344.96,428.40 L345.21,428.40 L345.46,428.40 L345.72,428.40 L345.97,428.40 L346.22,428.40 L346.48,428.40 L346.73,428.40 L346.99,428.40 L347.24,428.40 L347.49,428.40 L347.75,428.40 L348.00,428.40 L348.25,428.40 L348.51,428.40 L348.76,428.40 L349.02,428.40 L349.27,428.40 L349.52,428.40 L349.78,428.40 L350.03,428.40 L350.28,428.40 L350.54,428.40 L350.79,428.40 L351.04,428.40 L351.30,428.40 L351.55,428.40 L351.81,428.40 L352.06,428.40 L352.31,428.40 L352.57,428.40 L352.82,428.40 L353.07,428.40 L353.33,428.40 L353.58,428.40 L353.83,428.39 L354.09,428.39 L354.34,428.39 L354.60,428.39 L354.85,428.39 L355.10,428.39 L355.36,428.38 L355.61,428.38 L355.86,428.38 L356.12,428.37 L356.37,428.37 L356.62,428.37 L356.88,428.36 L357.13,428.35 L357.39,428.35 L357.64,428.34 L357.89,428.33 L358.15,428.31 L358.40,428.30 L358.65,428.29 L358.91,428.27 L359.16,428.25 L359.42,428.22 L359.67,428.20 L359.92,428.17 L360.18,428.13 L360.43,428.09 L360.68,428.05 L360.94,428.00 L361.19,427.94 L361.44,427.88 L361.70,427.81 L361.95,427.73 L362.21,427.64 L362.46,427.54 L362.71,427.42 L362.97,427.30 L363.22,427.16 L363.47,427.00 L363.73,426.83 L363.98,426.64 L364.24,426.43 L364.49,426.20 L364.74,425.94 L365.00,425.66 L365.25,425.35 L365.50,425.02 L365.76,424.65 L366.01,424.25 L366.26,423.82 L366.52,423.36 L366.77,422.85 L367.03,422.31 L367.28,421.73 L367.53,421.11 L367.79,420.45 L368.04,419.75 L368.29,419.01 L368.55,418.23 L368.80,417.41 L369.05,416.56 L369.31,415.67 L369.56,414.75 L369.82,413.80 L370.07,412.83 L370.32,411.85 L370.58,410.87 L370.83,409.88 L371.08,408.92 L371.34,407.98 L371.59,407.08 L371.85,406.25 L372.10,405.51 L372.35,404.89 L372.61,404.47 L372.86,404.55 L373.11,405.04 L373.37,405.69 L373.62,406.46 L373.87,407.31 L374.13,408.22 L374.38,409.16 L374.64,410.14 L374.89,411.12 L375.14,412.11 L375.40,413.09 L375.65,414.05 L375.90,414.99 L376.16,415.90 L376.41,416.78 L376.66,417.63 L376.92,418.44 L377.17,419.21 L377.43,419.94 L377.68,420.63 L377.93,421.28 L378.19,421.89 L378.44,422.46 L378.69,422.99 L378.95,423.48 L379.20,423.94 L379.45,424.36 L379.71,424.75 L379.96,425.11 L380.22,425.43 L380.47,425.73 L380.72,426.01 L380.98,426.26 L381.23,426.49 L381.48,426.69 L381.74,426.88 L381.99,427.04 L382.25,427.20 L382.50,427.33 L382.75,427.45 L383.01,427.56 L383.26,427.66 L383.51,427.75 L383.77,427.83 L384.02,427.90 L384.27,427.96 L384.53,428.01 L384.78,428.06 L385.04,428.10 L385.29,428.14 L385.54,428.18 L385.80,428.20 L386.05,428.23 L386.30,428.25 L386.56,428.27 L386.81,428.29 L387.06,428.30 L387.32,428.32 L387.57,428.33 L387.83,428.34 L388.08,428.35 L388.33,428.35 L388.59,428.36 L388.84,428.37 L389.09,428.37 L389.35,428.38 L389.60,428.38 L389.86,428.38 L390.11,428.38 L390.36,428.39 L390.62,428.39 L390.87,428.39 L391.12,428.39 L391.38,428.39 L391.63,428.39 L391.88,428.40 L392.14,428.40 L392.39,428.40 L392.65,428.40 L392.90,428.40 L393.15,428.40 L393.41,428.40 L393.66,428.40 L393.91,428.40 L394.17,428.40 L394.42,428.40 L394.68,428.40 L394.93,428.40 L395.18,428.40 L395.44,428.40 L395.69,428.40 L395.94,428.40 L396.20,428.40 L396.45,428.40 L396.70,428.40 L396.96,428.40 L397.21,428.40 L397.47,428.40 L397.72,428.40 L397.97,428.40 L398.23,428.40 L398.48,428.40 L398.73,428.40 L398.99,428.40 L399.24,428.40 L399.49,428.40 L399.75,428.40 L400.00,428.40 L400.26,428.40 L400.51,428.40 L400.76,428.40 L401.02,428.40 L401.27,428.40 L401.52,428.40 L401.78,428.40 L402.03,428.40 L402.28,428.40 L402.54,428.40 L402.79,428.40 L403.05,428.40 L403.30,428.40 L403.55,428.40 L403.81,428.40 L404.06,428.40 L404.31,428.40 L404.57,428.40 L404.82,428.40 L405.08,428.40 L405.33,428.40 L405.58,428.40 L405.84,428.40 L406.09,428.40 L406.34,428.40 L406.60,428.40 L406.85,428.40 L407.10,428.40 L407.36,428.40 L407.61,428.40 L407.87,428.40 L408.12,428.40 L408.37,428.40 L408.63,428.40 L408.88,428.40 L409.13,428.40 L409.39,428.40 L409.64,428.40 L409.89,428.40 L410.15,428.40 L410.40,428.40 L410.66,428.40 L410.91,428.40 L411.16,428.40 L411.42,428.40 L411.67,428.40 L411.92,428.40 L412.18,428.40 L412.43,428.40 L412.69,428.40 L412.94,428.40 L413.19,428.40 L413.45,428.40 L413.70,428.40 L413.7,428.40 L337.6,428.40 Z" fill="#f7c46e" fill-opacity="0.72" stroke="none"/>
<path d="M337.60,428.40 L337.85,428.40 L338.11,428.40 L338.36,428.40 L338.61,428.40 L338.87,428.40 L339.12,428.40 L339.38,428.40 L339.63,428.40 L339.88,428.40 L340.14,428.40 L340.39,428.40 L340.64,428.40 L340.90,428.40 L341.15,428.40 L341.41,428.40 L341.66,428.40 L341.91,428.40 L342.17,428.40 L342.42,428.40 L342.67,428.40 L342.93,428.40 L343.18,428.40 L343.43,428.40 L343.69,428.40 L343.94,428.40 L344.20,428.40 L344.45,428.40 L344.70,428.40 L344.96,428.40 L345.21,428.40 L345.46,428.40 L345.72,428.40 L345.97,428.40 L346.22,428.40 L346.48,428.40 L346.73,428.40 L346.99,428.40 L347.24,428.40 L347.49,428.40 L347.75,428.40 L348.00,428.40 L348.25,428.40 L348.51,428.40 L348.76,428.40 L349.02,428.40 L349.27,428.40 L349.52,428.40 L349.78,428.40 L350.03,428.40 L350.28,428.40 L350.54,428.40 L350.79,428.40 L351.04,428.40 L351.30,428.40 L351.55,428.40 L351.81,428.40 L352.06,428.40 L352.31,428.40 L352.57,428.40 L352.82,428.40 L353.07,428.40 L353.33,428.40 L353.58,428.40 L353.83,428.39 L354.09,428.39 L354.34,428.39 L354.60,428.39 L354.85,428.39 L355.10,428.39 L355.36,428.38 L355.61,428.38 L355.86,428.38 L356.12,428.37 L356.37,428.37 L356.62,428.37 L356.88,428.36 L357.13,428.35 L357.39,428.35 L357.64,428.34 L357.89,428.33 L358.15,428.31 L358.40,428.30 L358.65,428.29 L358.91,428.27 L359.16,428.25 L359.42,428.22 L359.67,428.20 L359.92,428.17 L360.18,428.13 L360.43,428.09 L360.68,428.05 L360.94,428.00 L361.19,427.94 L361.44,427.88 L361.70,427.81 L361.95,427.73 L362.21,427.64 L362.46,427.54 L362.71,427.42 L362.97,427.30 L363.22,427.16 L363.47,427.00 L363.73,426.83 L363.98,426.64 L364.24,426.43 L364.49,426.20 L364.74,425.94 L365.00,425.66 L365.25,425.35 L365.50,425.02 L365.76,424.65 L366.01,424.25 L366.26,423.82 L366.52,423.36 L366.77,422.85 L367.03,422.31 L367.28,421.73 L367.53,421.11 L367.79,420.45 L368.04,419.75 L368.29,419.01 L368.55,418.23 L368.80,417.41 L369.05,416.56 L369.31,415.67 L369.56,414.75 L369.82,413.80 L370.07,412.83 L370.32,411.85 L370.58,410.87 L370.83,409.88 L371.08,408.92 L371.34,407.98 L371.59,407.08 L371.85,406.25 L372.10,405.51 L372.35,404.89 L372.61,404.47 L372.86,404.55 L373.11,405.04 L373.37,405.69 L373.62,406.46 L373.87,407.31 L374.13,408.22 L374.38,409.16 L374.64,410.14 L374.89,411.12 L375.14,412.11 L375.40,413.09 L375.65,414.05 L375.90,414.99 L376.16,415.90 L376.41,416.78 L376.66,417.63 L376.92,418.44 L377.17,419.21 L377.43,419.94 L377.68,420.63 L377.93,421.28 L378.19,421.89 L378.44,422.46 L378.69,422.99 L378.95,423.48 L379.20,423.94 L379.45,424.36 L379.71,424.75 L379.96,425.11 L380.22,425.43 L380.47,425.73 L380.72,426.01 L380.98,426.26 L381.23,426.49 L381.48,426.69 L381.74,426.88 L381.99,427.04 L382.25,427.20 L382.50,427.33 L382.75,427.45 L383.01,427.56 L383.26,427.66 L383.51,427.75 L383.77,427.83 L384.02,427.90 L384.27,427.96 L384.53,428.01 L384.78,428.06 L385.04,428.10 L385.29,428.14 L385.54,428.18 L385.80,428.20 L386.05,428.23 L386.30,428.25 L386.56,428.27 L386.81,428.29 L387.06,428.30 L387.32,428.32 L387.57,428.33 L387.83,428.34 L388.08,428.35 L388.33,428.35 L388.59,428.36 L388.84,428.37 L389.09,428.37 L389.35,428.38 L389.60,428.38 L389.86,428.38 L390.11,428.38 L390.36,428.39 L390.62,428.39 L390.87,428.39 L391.12,428.39 L391.38,428.39 L391.63,428.39 L391.88,428.40 L392.14,428.40 L392.39,428.40 L392.65,428.40 L392.90,428.40 L393.15,428.40 L393.41,428.40 L393.66,428.40 L393.91,428.40 L394.17,428.40 L394.42,428.40 L394.68,428.40 L394.93,428.40 L395.18,428.40 L395.44,428.40 L395.69,428.40 L395.94,428.40 L396.20,428.40 L396.45,428.40 L396.70,428.40 L396.96,428.40 L397.21,428.40 L397.47,428.40 L397.72,428.40 L397.97,428.40 L398.23,428.40 L398.48,428.40 L398.73,428.40 L398.99,428.40 L399.24,428.40 L399.49,428.40 L399.75,428.40 L400.00,428.40 L400.26,428.40 L400.51,428.40 L400.76,428.40 L401.02,428.40 L401.27,428.40 L401.52,428.40 L401.78,428.40 L402.03,428.40 L402.28,428.40 L402.54,428.40 L402.79,428.40 L403.05,428.40 L403.30,428.40 L403.55,428.40 L403.81,428.40 L404.06,428.40 L404.31,428.40 L404.57,428.40 L404.82,428.40 L405.08,428.40 L405.33,428.40 L405.58,428.40 L405.84,428.40 L406.09,428.40 L406.34,428.40 L406.60,428.40 L406.85,428.40 L407.10,428.40 L407.36,428.40 L407.61,428.40 L407.87,428.40 L408.12,428.40 L408.37,428.40 L408.63,428.40 L408.88,428.40 L409.13,428.40 L409.39,428.40 L409.64,428.40 L409.89,428.40 L410.15,428.40 L410.40,428.40 L410.66,428.40 L410.91,428.40 L411.16,428.40 L411.42,428.40 L411.67,428.40 L411.92,428.40 L412.18,428.40 L412.43,428.40 L412.69,428.40 L412.94,428.40 L413.19,428.40 L413.45,428.40 L413.70,428.40" fill="none" stroke="#f0b050" stroke-width="0.9"/>
<path d="M337.60,440.90 L337.85,440.90 L338.11,440.90 L338.36,440.90 L338.61,440.90 L338.87,440.90 L339.12,440.90 L339.38,440.90 L339.63,440.90 L339.88,440.90 L340.14,440.90 L340.39,440.90 L340.64,440.90 L340.90,440.90 L341.15,440.90 L341.41,440.90 L341.66,440.90 L341.91,440.90 L342.17,440.90 L342.42,440.90 L342.67,440.90 L342.93,440.90 L343.18,440.90 L343.43,440.90 L343.69,440.90 L343.94,440.90 L344.20,440.90 L344.45,440.90 L344.70,440.90 L344.96,440.90 L345.21,440.90 L345.46,440.90 L345.72,440.90 L345.97,440.90 L346.22,440.90 L346.48,440.90 L346.73,440.90 L346.99,440.90 L347.24,440.90 L347.49,440.90 L347.75,440.90 L348.00,440.90 L348.25,440.90 L348.51,440.90 L348.76,440.90 L349.02,440.90 L349.27,440.90 L349.52,440.90 L349.78,440.90 L350.03,440.90 L350.28,440.90 L350.54,440.90 L350.79,440.90 L351.04,440.90 L351.30,440.90 L351.55,440.90 L351.81,440.90 L352.06,440.90 L352.31,440.90 L352.57,440.90 L352.82,440.90 L353.07,440.90 L353.33,440.90 L353.58,440.90 L353.83,440.90 L354.09,440.90 L354.34,440.90 L354.60,440.90 L354.85,440.90 L355.10,440.90 L355.36,440.90 L355.61,440.90 L355.86,440.89 L356.12,440.89 L356.37,440.89 L356.62,440.89 L356.88,440.89 L357.13,440.89 L357.39,440.88 L357.64,440.88 L357.89,440.88 L358.15,440.87 L358.40,440.87 L358.65,440.86 L358.91,440.85 L359.16,440.85 L359.42,440.84 L359.67,440.82 L359.92,440.81 L360.18,440.80 L360.43,440.78 L360.68,440.76 L360.94,440.73 L361.19,440.70 L361.44,440.67 L361.70,440.64 L361.95,440.59 L362.21,440.55 L362.46,440.49 L362.71,440.43 L362.97,440.36 L363.22,440.27 L363.47,440.18 L363.73,440.08 L363.98,439.96 L364.24,439.82 L364.49,439.67 L364.74,439.50 L365.00,439.31 L365.25,439.10 L365.50,438.87 L365.76,438.61 L366.01,438.32 L366.26,438.00 L366.52,437.64 L366.77,437.25 L367.03,436.83 L367.28,436.36 L367.53,435.86 L367.79,435.31 L368.04,434.71 L368.29,434.07 L368.55,433.38 L368.80,432.64 L369.05,431.86 L369.31,431.02 L369.56,430.14 L369.82,429.22 L370.07,428.25 L370.32,427.25 L370.58,426.22 L370.83,425.16 L371.08,424.09 L371.34,423.01 L371.59,421.94 L371.85,420.90 L372.10,419.90 L372.35,418.97 L372.61,418.14 L372.86,417.44 L373.11,416.97 L373.37,417.09 L373.62,417.65 L373.87,418.39 L374.13,419.26 L374.38,420.21 L374.64,421.23 L374.89,422.28 L375.14,423.35 L375.40,424.43 L375.65,425.50 L375.90,426.55 L376.16,427.57 L376.41,428.56 L376.66,429.51 L376.92,430.42 L377.17,431.29 L377.43,432.11 L377.68,432.88 L377.93,433.60 L378.19,434.28 L378.44,434.90 L378.69,435.49 L378.95,436.02 L379.20,436.52 L379.45,436.97 L379.71,437.38 L379.96,437.76 L380.22,438.10 L380.47,438.41 L380.72,438.69 L380.98,438.95 L381.23,439.17 L381.48,439.38 L381.74,439.56 L381.99,439.72 L382.25,439.87 L382.50,440.00 L382.75,440.11 L383.01,440.21 L383.26,440.30 L383.51,440.38 L383.77,440.45 L384.02,440.51 L384.27,440.56 L384.53,440.61 L384.78,440.65 L385.04,440.68 L385.29,440.71 L385.54,440.74 L385.80,440.76 L386.05,440.78 L386.30,440.80 L386.56,440.82 L386.81,440.83 L387.06,440.84 L387.32,440.85 L387.57,440.86 L387.83,440.86 L388.08,440.87 L388.33,440.87 L388.59,440.88 L388.84,440.88 L389.09,440.88 L389.35,440.89 L389.60,440.89 L389.86,440.89 L390.11,440.89 L390.36,440.89 L390.62,440.89 L390.87,440.90 L391.12,440.90 L391.38,440.90 L391.63,440.90 L391.88,440.90 L392.14,440.90 L392.39,440.90 L392.65,440.90 L392.90,440.90 L393.15,440.90 L393.41,440.90 L393.66,440.90 L393.91,440.90 L394.17,440.90 L394.42,440.90 L394.68,440.90 L394.93,440.90 L395.18,440.90 L395.44,440.90 L395.69,440.90 L395.94,440.90 L396.20,440.90 L396.45,440.90 L396.70,440.90 L396.96,440.90 L397.21,440.90 L397.47,440.90 L397.72,440.90 L397.97,440.90 L398.23,440.90 L398.48,440.90 L398.73,440.90 L398.99,440.90 L399.24,440.90 L399.49,440.90 L399.75,440.90 L400.00,440.90 L400.26,440.90 L400.51,440.90 L400.76,440.90 L401.02,440.90 L401.27,440.90 L401.52,440.90 L401.78,440.90 L402.03,440.90 L402.28,440.90 L402.54,440.90 L402.79,440.90 L403.05,440.90 L403.30,440.90 L403.55,440.90 L403.81,440.90 L404.06,440.90 L404.31,440.90 L404.57,440.90 L404.82,440.90 L405.08,440.90 L405.33,440.90 L405.58,440.90 L405.84,440.90 L406.09,440.90 L406.34,440.90 L406.60,440.90 L406.85,440.90 L407.10,440.90 L407.36,440.90 L407.61,440.90 L407.87,440.90 L408.12,440.90 L408.37,440.90 L408.63,440.90 L408.88,440.90 L409.13,440.90 L409.39,440.90 L409.64,440.90 L409.89,440.90 L410.15,440.90 L410.40,440.90 L410.66,440.90 L410.91,440.90 L411.16,440.90 L411.42,440.90 L411.67,440.90 L411.92,440.90 L412.18,440.90 L412.43,440.90 L412.69,440.90 L412.94,440.90 L413.19,440.90 L413.45,440.90 L413.70,440.90 L413.7,440.90 L337.6,440.90 Z" fill="#f07aa0" fill-opacity="0.72" stroke="none"/>
<path d="M337.60,440.90 L337.85,440.90 L338.11,440.90 L338.36,440.90 L338.61,440.90 L338.87,440.90 L339.12,440.90 L339.38,440.90 L339.63,440.90 L339.88,440.90 L340.14,440.90 L340.39,440.90 L340.64,440.90 L340.90,440.90 L341.15,440.90 L341.41,440.90 L341.66,440.90 L341.91,440.90 L342.17,440.90 L342.42,440.90 L342.67,440.90 L342.93,440.90 L343.18,440.90 L343.43,440.90 L343.69,440.90 L343.94,440.90 L344.20,440.90 L344.45,440.90 L344.70,440.90 L344.96,440.90 L345.21,440.90 L345.46,440.90 L345.72,440.90 L345.97,440.90 L346.22,440.90 L346.48,440.90 L346.73,440.90 L346.99,440.90 L347.24,440.90 L347.49,440.90 L347.75,440.90 L348.00,440.90 L348.25,440.90 L348.51,440.90 L348.76,440.90 L349.02,440.90 L349.27,440.90 L349.52,440.90 L349.78,440.90 L350.03,440.90 L350.28,440.90 L350.54,440.90 L350.79,440.90 L351.04,440.90 L351.30,440.90 L351.55,440.90 L351.81,440.90 L352.06,440.90 L352.31,440.90 L352.57,440.90 L352.82,440.90 L353.07,440.90 L353.33,440.90 L353.58,440.90 L353.83,440.90 L354.09,440.90 L354.34,440.90 L354.60,440.90 L354.85,440.90 L355.10,440.90 L355.36,440.90 L355.61,440.90 L355.86,440.89 L356.12,440.89 L356.37,440.89 L356.62,440.89 L356.88,440.89 L357.13,440.89 L357.39,440.88 L357.64,440.88 L357.89,440.88 L358.15,440.87 L358.40,440.87 L358.65,440.86 L358.91,440.85 L359.16,440.85 L359.42,440.84 L359.67,440.82 L359.92,440.81 L360.18,440.80 L360.43,440.78 L360.68,440.76 L360.94,440.73 L361.19,440.70 L361.44,440.67 L361.70,440.64 L361.95,440.59 L362.21,440.55 L362.46,440.49 L362.71,440.43 L362.97,440.36 L363.22,440.27 L363.47,440.18 L363.73,440.08 L363.98,439.96 L364.24,439.82 L364.49,439.67 L364.74,439.50 L365.00,439.31 L365.25,439.10 L365.50,438.87 L365.76,438.61 L366.01,438.32 L366.26,438.00 L366.52,437.64 L366.77,437.25 L367.03,436.83 L367.28,436.36 L367.53,435.86 L367.79,435.31 L368.04,434.71 L368.29,434.07 L368.55,433.38 L368.80,432.64 L369.05,431.86 L369.31,431.02 L369.56,430.14 L369.82,429.22 L370.07,428.25 L370.32,427.25 L370.58,426.22 L370.83,425.16 L371.08,424.09 L371.34,423.01 L371.59,421.94 L371.85,420.90 L372.10,419.90 L372.35,418.97 L372.61,418.14 L372.86,417.44 L373.11,416.97 L373.37,417.09 L373.62,417.65 L373.87,418.39 L374.13,419.26 L374.38,420.21 L374.64,421.23 L374.89,422.28 L375.14,423.35 L375.40,424.43 L375.65,425.50 L375.90,426.55 L376.16,427.57 L376.41,428.56 L376.66,429.51 L376.92,430.42 L377.17,431.29 L377.43,432.11 L377.68,432.88 L377.93,433.60 L378.19,434.28 L378.44,434.90 L378.69,435.49 L378.95,436.02 L379.20,436.52 L379.45,436.97 L379.71,437.38 L379.96,437.76 L380.22,438.10 L380.47,438.41 L380.72,438.69 L380.98,438.95 L381.23,439.17 L381.48,439.38 L381.74,439.56 L381.99,439.72 L382.25,439.87 L382.50,440.00 L382.75,440.11 L383.01,440.21 L383.26,440.30 L383.51,440.38 L383.77,440.45 L384.02,440.51 L384.27,440.56 L384.53,440.61 L384.78,440.65 L385.04,440.68 L385.29,440.71 L385.54,440.74 L385.80,440.76 L386.05,440.78 L386.30,440.80 L386.56,440.82 L386.81,440.83 L387.06,440.84 L387.32,440.85 L387.57,440.86 L387.83,440.86 L388.08,440.87 L388.33,440.87 L388.59,440.88 L388.84,440.88 L389.09,440.88 L389.35,440.89 L389.60,440.89 L389.86,440.89 L390.11,440.89 L390.36,440.89 L390.62,440.89 L390.87,440.90 L391.12,440.90 L391.38,440.90 L391.63,440.90 L391.88,440.90 L392.14,440.90 L392.39,440.90 L392.65,440.90 L392.90,440.90 L393.15,440.90 L393.41,440.90 L393.66,440.90 L393.91,440.90 L394.17,440.90 L394.42,440.90 L394.68,440.90 L394.93,440.90 L395.18,440.90 L395.44,440.90 L395.69,440.90 L395.94,440.90 L396.20,440.90 L396.45,440.90 L396.70,440.90 L396.96,440.90 L397.21,440.90 L397.47,440.90 L397.72,440.90 L397.97,440.90 L398.23,440.90 L398.48,440.90 L398.73,440.90 L398.99,440.90 L399.24,440.90 L399.49,440.90 L399.75,440.90 L400.00,440.90 L400.26,440.90 L400.51,440.90 L400.76,440.90 L401.02,440.90 L401.27,440.90 L401.52,440.90 L401.78,440.90 L402.03,440.90 L402.28,440.90 L402.54,440.90 L402.79,440.90 L403.05,440.90 L403.30,440.90 L403.55,440.90 L403.81,440.90 L404.06,440.90 L404.31,440.90 L404.57,440.90 L404.82,440.90 L405.08,440.90 L405.33,440.90 L405.58,440.90 L405.84,440.90 L406.09,440.90 L406.34,440.90 L406.60,440.90 L406.85,440.90 L407.10,440.90 L407.36,440.90 L407.61,440.90 L407.87,440.90 L408.12,440.90 L408.37,440.90 L408.63,440.90 L408.88,440.90 L409.13,440.90 L409.39,440.90 L409.64,440.90 L409.89,440.90 L410.15,440.90 L410.40,440.90 L410.66,440.90 L410.91,440.90 L411.16,440.90 L411.42,440.90 L411.67,440.90 L411.92,440.90 L412.18,440.90 L412.43,440.90 L412.69,440.90 L412.94,440.90 L413.19,440.90 L413.45,440.90 L413.70,440.90" fill="none" stroke="#e0508a" stroke-width="0.9"/>
<path d="M337.60,455.20 L337.85,455.20 L338.11,455.20 L338.36,455.20 L338.61,455.20 L338.87,455.20 L339.12,455.20 L339.38,455.20 L339.63,455.20 L339.88,455.20 L340.14,455.20 L340.39,455.20 L340.64,455.20 L340.90,455.20 L341.15,455.20 L341.41,455.20 L341.66,455.20 L341.91,455.20 L342.17,455.20 L342.42,455.20 L342.67,455.20 L342.93,455.20 L343.18,455.20 L343.43,455.20 L343.69,455.20 L343.94,455.20 L344.20,455.20 L344.45,455.20 L344.70,455.20 L344.96,455.20 L345.21,455.20 L345.46,455.20 L345.72,455.20 L345.97,455.20 L346.22,455.20 L346.48,455.20 L346.73,455.20 L346.99,455.20 L347.24,455.20 L347.49,455.20 L347.75,455.20 L348.00,455.20 L348.25,455.20 L348.51,455.20 L348.76,455.20 L349.02,455.20 L349.27,455.20 L349.52,455.20 L349.78,455.20 L350.03,455.20 L350.28,455.20 L350.54,455.20 L350.79,455.20 L351.04,455.20 L351.30,455.20 L351.55,455.20 L351.81,455.20 L352.06,455.20 L352.31,455.20 L352.57,455.20 L352.82,455.20 L353.07,455.20 L353.33,455.20 L353.58,455.20 L353.83,455.20 L354.09,455.20 L354.34,455.20 L354.60,455.20 L354.85,455.20 L355.10,455.20 L355.36,455.20 L355.61,455.20 L355.86,455.20 L356.12,455.20 L356.37,455.20 L356.62,455.20 L356.88,455.19 L357.13,455.19 L357.39,455.19 L357.64,455.19 L357.89,455.19 L358.15,455.19 L358.40,455.18 L358.65,455.18 L358.91,455.18 L359.16,455.17 L359.42,455.16 L359.67,455.16 L359.92,455.15 L360.18,455.14 L360.43,455.13 L360.68,455.12 L360.94,455.10 L361.19,455.08 L361.44,455.06 L361.70,455.04 L361.95,455.01 L362.21,454.98 L362.46,454.94 L362.71,454.90 L362.97,454.85 L363.22,454.80 L363.47,454.73 L363.73,454.66 L363.98,454.58 L364.24,454.48 L364.49,454.37 L364.74,454.25 L365.00,454.11 L365.25,453.95 L365.50,453.77 L365.76,453.57 L366.01,453.35 L366.26,453.10 L366.52,452.82 L366.77,452.51 L367.03,452.16 L367.28,451.78 L367.53,451.37 L367.79,450.91 L368.04,450.40 L368.29,449.85 L368.55,449.26 L368.80,448.61 L369.05,447.91 L369.31,447.16 L369.56,446.36 L369.82,445.50 L370.07,444.60 L370.32,443.64 L370.58,442.64 L370.83,441.60 L371.08,440.52 L371.34,439.42 L371.59,438.29 L371.85,437.16 L372.10,436.03 L372.35,434.93 L372.61,433.87 L372.86,432.88 L373.11,432.00 L373.37,431.26 L373.62,430.77 L373.87,430.91 L374.13,431.52 L374.38,432.31 L374.64,433.24 L374.89,434.26 L375.14,435.34 L375.40,436.45 L375.65,437.58 L375.90,438.71 L376.16,439.83 L376.41,440.93 L376.66,442.00 L376.92,443.02 L377.17,444.01 L377.43,444.94 L377.68,445.83 L377.93,446.67 L378.19,447.45 L378.44,448.18 L378.69,448.86 L378.95,449.49 L379.20,450.06 L379.45,450.60 L379.71,451.08 L379.96,451.53 L380.22,451.93 L380.47,452.30 L380.72,452.63 L380.98,452.93 L381.23,453.19 L381.48,453.43 L381.74,453.65 L381.99,453.84 L382.25,454.01 L382.50,454.16 L382.75,454.29 L383.01,454.41 L383.26,454.52 L383.51,454.61 L383.77,454.69 L384.02,454.76 L384.27,454.82 L384.53,454.87 L384.78,454.92 L385.04,454.96 L385.29,454.99 L385.54,455.02 L385.80,455.05 L386.05,455.07 L386.30,455.09 L386.56,455.11 L386.81,455.12 L387.06,455.13 L387.32,455.14 L387.57,455.15 L387.83,455.16 L388.08,455.17 L388.33,455.17 L388.59,455.18 L388.84,455.18 L389.09,455.18 L389.35,455.19 L389.60,455.19 L389.86,455.19 L390.11,455.19 L390.36,455.19 L390.62,455.19 L390.87,455.20 L391.12,455.20 L391.38,455.20 L391.63,455.20 L391.88,455.20 L392.14,455.20 L392.39,455.20 L392.65,455.20 L392.90,455.20 L393.15,455.20 L393.41,455.20 L393.66,455.20 L393.91,455.20 L394.17,455.20 L394.42,455.20 L394.68,455.20 L394.93,455.20 L395.18,455.20 L395.44,455.20 L395.69,455.20 L395.94,455.20 L396.20,455.20 L396.45,455.20 L396.70,455.20 L396.96,455.20 L397.21,455.20 L397.47,455.20 L397.72,455.20 L397.97,455.20 L398.23,455.20 L398.48,455.20 L398.73,455.20 L398.99,455.20 L399.24,455.20 L399.49,455.20 L399.75,455.20 L400.00,455.20 L400.26,455.20 L400.51,455.20 L400.76,455.20 L401.02,455.20 L401.27,455.20 L401.52,455.20 L401.78,455.20 L402.03,455.20 L402.28,455.20 L402.54,455.20 L402.79,455.20 L403.05,455.20 L403.30,455.20 L403.55,455.20 L403.81,455.20 L404.06,455.20 L404.31,455.20 L404.57,455.20 L404.82,455.20 L405.08,455.20 L405.33,455.20 L405.58,455.20 L405.84,455.20 L406.09,455.20 L406.34,455.20 L406.60,455.20 L406.85,455.20 L407.10,455.20 L407.36,455.20 L407.61,455.20 L407.87,455.20 L408.12,455.20 L408.37,455.20 L408.63,455.20 L408.88,455.20 L409.13,455.20 L409.39,455.20 L409.64,455.20 L409.89,455.20 L410.15,455.20 L410.40,455.20 L410.66,455.20 L410.91,455.20 L411.16,455.20 L411.42,455.20 L411.67,455.20 L411.92,455.20 L412.18,455.20 L412.43,455.20 L412.69,455.20 L412.94,455.20 L413.19,455.20 L413.45,455.20 L413.70,455.20 L413.7,455.20 L337.6,455.20 Z" fill="#5f786c" fill-opacity="0.72" stroke="none"/>
<path d="M337.60,455.20 L337.85,455.20 L338.11,455.20 L338.36,455.20 L338.61,455.20 L338.87,455.20 L339.12,455.20 L339.38,455.20 L339.63,455.20 L339.88,455.20 L340.14,455.20 L340.39,455.20 L340.64,455.20 L340.90,455.20 L341.15,455.20 L341.41,455.20 L341.66,455.20 L341.91,455.20 L342.17,455.20 L342.42,455.20 L342.67,455.20 L342.93,455.20 L343.18,455.20 L343.43,455.20 L343.69,455.20 L343.94,455.20 L344.20,455.20 L344.45,455.20 L344.70,455.20 L344.96,455.20 L345.21,455.20 L345.46,455.20 L345.72,455.20 L345.97,455.20 L346.22,455.20 L346.48,455.20 L346.73,455.20 L346.99,455.20 L347.24,455.20 L347.49,455.20 L347.75,455.20 L348.00,455.20 L348.25,455.20 L348.51,455.20 L348.76,455.20 L349.02,455.20 L349.27,455.20 L349.52,455.20 L349.78,455.20 L350.03,455.20 L350.28,455.20 L350.54,455.20 L350.79,455.20 L351.04,455.20 L351.30,455.20 L351.55,455.20 L351.81,455.20 L352.06,455.20 L352.31,455.20 L352.57,455.20 L352.82,455.20 L353.07,455.20 L353.33,455.20 L353.58,455.20 L353.83,455.20 L354.09,455.20 L354.34,455.20 L354.60,455.20 L354.85,455.20 L355.10,455.20 L355.36,455.20 L355.61,455.20 L355.86,455.20 L356.12,455.20 L356.37,455.20 L356.62,455.20 L356.88,455.19 L357.13,455.19 L357.39,455.19 L357.64,455.19 L357.89,455.19 L358.15,455.19 L358.40,455.18 L358.65,455.18 L358.91,455.18 L359.16,455.17 L359.42,455.16 L359.67,455.16 L359.92,455.15 L360.18,455.14 L360.43,455.13 L360.68,455.12 L360.94,455.10 L361.19,455.08 L361.44,455.06 L361.70,455.04 L361.95,455.01 L362.21,454.98 L362.46,454.94 L362.71,454.90 L362.97,454.85 L363.22,454.80 L363.47,454.73 L363.73,454.66 L363.98,454.58 L364.24,454.48 L364.49,454.37 L364.74,454.25 L365.00,454.11 L365.25,453.95 L365.50,453.77 L365.76,453.57 L366.01,453.35 L366.26,453.10 L366.52,452.82 L366.77,452.51 L367.03,452.16 L367.28,451.78 L367.53,451.37 L367.79,450.91 L368.04,450.40 L368.29,449.85 L368.55,449.26 L368.80,448.61 L369.05,447.91 L369.31,447.16 L369.56,446.36 L369.82,445.50 L370.07,444.60 L370.32,443.64 L370.58,442.64 L370.83,441.60 L371.08,440.52 L371.34,439.42 L371.59,438.29 L371.85,437.16 L372.10,436.03 L372.35,434.93 L372.61,433.87 L372.86,432.88 L373.11,432.00 L373.37,431.26 L373.62,430.77 L373.87,430.91 L374.13,431.52 L374.38,432.31 L374.64,433.24 L374.89,434.26 L375.14,435.34 L375.40,436.45 L375.65,437.58 L375.90,438.71 L376.16,439.83 L376.41,440.93 L376.66,442.00 L376.92,443.02 L377.17,444.01 L377.43,444.94 L377.68,445.83 L377.93,446.67 L378.19,447.45 L378.44,448.18 L378.69,448.86 L378.95,449.49 L379.20,450.06 L379.45,450.60 L379.71,451.08 L379.96,451.53 L380.22,451.93 L380.47,452.30 L380.72,452.63 L380.98,452.93 L381.23,453.19 L381.48,453.43 L381.74,453.65 L381.99,453.84 L382.25,454.01 L382.50,454.16 L382.75,454.29 L383.01,454.41 L383.26,454.52 L383.51,454.61 L383.77,454.69 L384.02,454.76 L384.27,454.82 L384.53,454.87 L384.78,454.92 L385.04,454.96 L385.29,454.99 L385.54,455.02 L385.80,455.05 L386.05,455.07 L386.30,455.09 L386.56,455.11 L386.81,455.12 L387.06,455.13 L387.32,455.14 L387.57,455.15 L387.83,455.16 L388.08,455.17 L388.33,455.17 L388.59,455.18 L388.84,455.18 L389.09,455.18 L389.35,455.19 L389.60,455.19 L389.86,455.19 L390.11,455.19 L390.36,455.19 L390.62,455.19 L390.87,455.20 L391.12,455.20 L391.38,455.20 L391.63,455.20 L391.88,455.20 L392.14,455.20 L392.39,455.20 L392.65,455.20 L392.90,455.20 L393.15,455.20 L393.41,455.20 L393.66,455.20 L393.91,455.20 L394.17,455.20 L394.42,455.20 L394.68,455.20 L394.93,455.20 L395.18,455.20 L395.44,455.20 L395.69,455.20 L395.94,455.20 L396.20,455.20 L396.45,455.20 L396.70,455.20 L396.96,455.20 L397.21,455.20 L397.47,455.20 L397.72,455.20 L397.97,455.20 L398.23,455.20 L398.48,455.20 L398.73,455.20 L398.99,455.20 L399.24,455.20 L399.49,455.20 L399.75,455.20 L400.00,455.20 L400.26,455.20 L400.51,455.20 L400.76,455.20 L401.02,455.20 L401.27,455.20 L401.52,455.20 L401.78,455.20 L402.03,455.20 L402.28,455.20 L402.54,455.20 L402.79,455.20 L403.05,455.20 L403.30,455.20 L403.55,455.20 L403.81,455.20 L404.06,455.20 L404.31,455.20 L404.57,455.20 L404.82,455.20 L405.08,455.20 L405.33,455.20 L405.58,455.20 L405.84,455.20 L406.09,455.20 L406.34,455.20 L406.60,455.20 L406.85,455.20 L407.10,455.20 L407.36,455.20 L407.61,455.20 L407.87,455.20 L408.12,455.20 L408.37,455.20 L408.63,455.20 L408.88,455.20 L409.13,455.20 L409.39,455.20 L409.64,455.20 L409.89,455.20 L410.15,455.20 L410.40,455.20 L410.66,455.20 L410.91,455.20 L411.16,455.20 L411.42,455.20 L411.67,455.20 L411.92,455.20 L412.18,455.20 L412.43,455.20 L412.69,455.20 L412.94,455.20 L413.19,455.20 L413.45,455.20 L413.70,455.20" fill="none" stroke="#3e5a50" stroke-width="0.9"/>
<line x1="337.00" y1="350.60" x2="337.00" y2="455.80" stroke="#333" stroke-width="1.5"/>
<line x1="337.00" y1="455.20" x2="413.70" y2="455.20" stroke="#222" stroke-width="1.3"/>
<line x1="336.60" y1="455.20" x2="336.60" y2="457.40" stroke="#222" stroke-width="1.0"/>
<line x1="341.21" y1="455.20" x2="341.21" y2="456.60" stroke="#333" stroke-width="0.7"/>
<line x1="343.90" y1="455.20" x2="343.90" y2="456.60" stroke="#333" stroke-width="0.7"/>
<line x1="345.81" y1="455.20" x2="345.81" y2="456.60" stroke="#333" stroke-width="0.7"/>
<line x1="347.29" y1="455.20" x2="347.29" y2="456.60" stroke="#333" stroke-width="0.7"/>
<line x1="348.51" y1="455.20" x2="348.51" y2="456.60" stroke="#333" stroke-width="0.7"/>
<line x1="349.53" y1="455.20" x2="349.53" y2="456.60" stroke="#333" stroke-width="0.7"/>
<line x1="350.42" y1="455.20" x2="350.42" y2="456.60" stroke="#333" stroke-width="0.7"/>
<line x1="351.20" y1="455.20" x2="351.20" y2="456.60" stroke="#333" stroke-width="0.7"/>
<line x1="351.90" y1="455.20" x2="351.90" y2="457.40" stroke="#222" stroke-width="1.0"/>
<line x1="356.51" y1="455.20" x2="356.51" y2="456.60" stroke="#333" stroke-width="0.7"/>
<line x1="359.20" y1="455.20" x2="359.20" y2="456.60" stroke="#333" stroke-width="0.7"/>
<line x1="361.11" y1="455.20" x2="361.11" y2="456.60" stroke="#333" stroke-width="0.7"/>
<line x1="362.59" y1="455.20" x2="362.59" y2="456.60" stroke="#333" stroke-width="0.7"/>
<line x1="363.81" y1="455.20" x2="363.81" y2="456.60" stroke="#333" stroke-width="0.7"/>
<line x1="364.83" y1="455.20" x2="364.83" y2="456.60" stroke="#333" stroke-width="0.7"/>
<line x1="365.72" y1="455.20" x2="365.72" y2="456.60" stroke="#333" stroke-width="0.7"/>
<line x1="366.50" y1="455.20" x2="366.50" y2="456.60" stroke="#333" stroke-width="0.7"/>
<line x1="367.20" y1="455.20" x2="367.20" y2="457.40" stroke="#222" stroke-width="1.0"/>
<line x1="371.81" y1="455.20" x2="371.81" y2="456.60" stroke="#333" stroke-width="0.7"/>
<line x1="374.50" y1="455.20" x2="374.50" y2="456.60" stroke="#333" stroke-width="0.7"/>
<line x1="376.41" y1="455.20" x2="376.41" y2="456.60" stroke="#333" stroke-width="0.7"/>
<line x1="377.89" y1="455.20" x2="377.89" y2="456.60" stroke="#333" stroke-width="0.7"/>
<line x1="379.11" y1="455.20" x2="379.11" y2="456.60" stroke="#333" stroke-width="0.7"/>
<line x1="380.13" y1="455.20" x2="380.13" y2="456.60" stroke="#333" stroke-width="0.7"/>
<line x1="381.02" y1="455.20" x2="381.02" y2="456.60" stroke="#333" stroke-width="0.7"/>
<line x1="381.80" y1="455.20" x2="381.80" y2="456.60" stroke="#333" stroke-width="0.7"/>
<line x1="382.50" y1="455.20" x2="382.50" y2="457.40" stroke="#222" stroke-width="1.0"/>
<line x1="387.11" y1="455.20" x2="387.11" y2="456.60" stroke="#333" stroke-width="0.7"/>
<line x1="389.80" y1="455.20" x2="389.80" y2="456.60" stroke="#333" stroke-width="0.7"/>
<line x1="391.71" y1="455.20" x2="391.71" y2="456.60" stroke="#333" stroke-width="0.7"/>
<line x1="393.19" y1="455.20" x2="393.19" y2="456.60" stroke="#333" stroke-width="0.7"/>
<line x1="394.41" y1="455.20" x2="394.41" y2="456.60" stroke="#333" stroke-width="0.7"/>
<line x1="395.43" y1="455.20" x2="395.43" y2="456.60" stroke="#333" stroke-width="0.7"/>
<line x1="396.32" y1="455.20" x2="396.32" y2="456.60" stroke="#333" stroke-width="0.7"/>
<line x1="397.10" y1="455.20" x2="397.10" y2="456.60" stroke="#333" stroke-width="0.7"/>
<line x1="397.80" y1="455.20" x2="397.80" y2="457.40" stroke="#222" stroke-width="1.0"/>
<line x1="402.41" y1="455.20" x2="402.41" y2="456.60" stroke="#333" stroke-width="0.7"/>
<line x1="405.10" y1="455.20" x2="405.10" y2="456.60" stroke="#333" stroke-width="0.7"/>
<line x1="407.01" y1="455.20" x2="407.01" y2="456.60" stroke="#333" stroke-width="0.7"/>
<line x1="408.49" y1="455.20" x2="408.49" y2="456.60" stroke="#333" stroke-width="0.7"/>
<line x1="409.71" y1="455.20" x2="409.71" y2="456.60" stroke="#333" stroke-width="0.7"/>
<line x1="410.73" y1="455.20" x2="410.73" y2="456.60" stroke="#333" stroke-width="0.7"/>
<line x1="411.62" y1="455.20" x2="411.62" y2="456.60" stroke="#333" stroke-width="0.7"/>
<line x1="412.40" y1="455.20" x2="412.40" y2="456.60" stroke="#333" stroke-width="0.7"/>
<line x1="413.10" y1="455.20" x2="413.10" y2="457.40" stroke="#222" stroke-width="1.0"/>
<text x="331.70" y="467.70" font-size="8.5" fill="#262626">10<tspan font-size="5.8" dy="-3.4">0</tspan></text>
<text x="347.00" y="467.70" font-size="8.5" fill="#262626">10<tspan font-size="5.8" dy="-3.4">1</tspan></text>
<text x="362.30" y="467.70" font-size="8.5" fill="#262626">10<tspan font-size="5.8" dy="-3.4">2</tspan></text>
<text x="377.60" y="467.70" font-size="8.5" fill="#262626">10<tspan font-size="5.8" dy="-3.4">3</tspan></text>
<text x="392.90" y="467.70" font-size="8.5" fill="#262626">10<tspan font-size="5.8" dy="-3.4">4</tspan></text>
<text x="408.20" y="467.70" font-size="8.5" fill="#262626">10<tspan font-size="5.8" dy="-3.4">5</tspan></text>
<text transform="translate(375.6,482.00) scale(0.76,1)" font-size="8.5" font-weight="bold" text-anchor="middle" fill="#262626">PE CD206</text>
<text x="417.40" y="372.70" font-size="7.9" text-anchor="start" font-weight="normal" fill="#262626" >Isotype</text>
<text x="417.40" y="385.40" font-size="7.9" text-anchor="start" font-weight="normal" fill="#262626" >WT PEM</text>
<text x="417.40" y="398.00" font-size="7.9" text-anchor="start" font-weight="normal" fill="#262626" >WT PEM+FC-mu</text>
<text x="417.40" y="411.40" font-size="7.9" text-anchor="start" font-weight="normal" fill="#262626" >WT PEM+FC-mu CM</text>
<text x="417.40" y="424.50" font-size="7.9" text-anchor="start" font-weight="normal" fill="#262626" >CCR1-/- PEM</text>
<text x="417.40" y="437.20" font-size="7.9" text-anchor="start" font-weight="normal" fill="#262626" >CCR1-/- PEM+FC-mu</text>
<text x="417.40" y="450.70" font-size="7.9" text-anchor="start" font-weight="normal" fill="#262626" >CCR1-/- PEM+FC-mu CM</text>
<text x="323.50" y="511.20" font-size="11.3" text-anchor="start" font-weight="bold" fill="#111" >J</text>
<path d="M337.60,543.70 L337.85,543.70 L338.11,543.70 L338.36,543.70 L338.61,543.70 L338.87,543.70 L339.12,543.70 L339.38,543.70 L339.63,543.70 L339.88,543.70 L340.14,543.70 L340.39,543.70 L340.64,543.70 L340.90,543.70 L341.15,543.70 L341.41,543.70 L341.66,543.70 L341.91,543.70 L342.17,543.70 L342.42,543.70 L342.67,543.70 L342.93,543.70 L343.18,543.70 L343.43,543.70 L343.69,543.70 L343.94,543.70 L344.20,543.70 L344.45,543.70 L344.70,543.70 L344.96,543.70 L345.21,543.70 L345.46,543.70 L345.72,543.70 L345.97,543.70 L346.22,543.70 L346.48,543.70 L346.73,543.70 L346.99,543.70 L347.24,543.70 L347.49,543.70 L347.75,543.70 L348.00,543.70 L348.25,543.70 L348.51,543.70 L348.76,543.70 L349.02,543.70 L349.27,543.70 L349.52,543.70 L349.78,543.70 L350.03,543.70 L350.28,543.70 L350.54,543.70 L350.79,543.70 L351.04,543.70 L351.30,543.70 L351.55,543.70 L351.81,543.70 L352.06,543.70 L352.31,543.69 L352.57,543.69 L352.82,543.69 L353.07,543.69 L353.33,543.68 L353.58,543.68 L353.83,543.67 L354.09,543.66 L354.34,543.65 L354.60,543.63 L354.85,543.62 L355.10,543.60 L355.36,543.57 L355.61,543.54 L355.86,543.50 L356.12,543.46 L356.37,543.40 L356.62,543.34 L356.88,543.26 L357.13,543.17 L357.39,543.07 L357.64,542.94 L357.89,542.80 L358.15,542.64 L358.40,542.46 L358.65,542.25 L358.91,542.01 L359.16,541.75 L359.42,541.46 L359.67,541.13 L359.92,540.78 L360.18,540.39 L360.43,539.96 L360.68,539.50 L360.94,539.01 L361.19,538.49 L361.44,537.94 L361.70,537.36 L361.95,536.75 L362.21,536.12 L362.46,535.47 L362.71,534.81 L362.97,534.14 L363.22,533.46 L363.47,532.78 L363.73,532.11 L363.98,531.45 L364.24,530.80 L364.49,530.17 L364.74,529.56 L365.00,528.98 L365.25,528.41 L365.50,527.87 L365.76,527.34 L366.01,526.81 L366.26,526.29 L366.52,525.76 L366.77,525.23 L367.03,524.68 L367.28,524.07 L367.53,523.40 L367.79,522.65 L368.04,521.82 L368.29,520.98 L368.55,520.19 L368.80,519.70 L369.05,520.21 L369.31,521.18 L369.56,522.44 L369.82,523.92 L370.07,525.53 L370.32,527.22 L370.58,528.93 L370.83,530.62 L371.08,532.24 L371.34,533.77 L371.59,535.18 L371.85,536.46 L372.10,537.61 L372.35,538.62 L372.61,539.50 L372.86,540.25 L373.11,540.89 L373.37,541.43 L373.62,541.88 L373.87,542.25 L374.13,542.56 L374.38,542.80 L374.64,543.00 L374.89,543.15 L375.14,543.28 L375.40,543.38 L375.65,543.45 L375.90,543.51 L376.16,543.56 L376.41,543.59 L376.66,543.62 L376.92,543.64 L377.17,543.66 L377.43,543.67 L377.68,543.68 L377.93,543.68 L378.19,543.69 L378.44,543.69 L378.69,543.69 L378.95,543.70 L379.20,543.70 L379.45,543.70 L379.71,543.70 L379.96,543.70 L380.22,543.70 L380.47,543.70 L380.72,543.70 L380.98,543.70 L381.23,543.70 L381.48,543.70 L381.74,543.70 L381.99,543.70 L382.25,543.70 L382.50,543.70 L382.75,543.70 L383.01,543.70 L383.26,543.70 L383.51,543.70 L383.77,543.70 L384.02,543.70 L384.27,543.70 L384.53,543.70 L384.78,543.70 L385.04,543.70 L385.29,543.70 L385.54,543.70 L385.80,543.70 L386.05,543.70 L386.30,543.70 L386.56,543.70 L386.81,543.70 L387.06,543.70 L387.32,543.70 L387.57,543.70 L387.83,543.70 L388.08,543.70 L388.33,543.70 L388.59,543.70 L388.84,543.70 L389.09,543.70 L389.35,543.70 L389.60,543.70 L389.86,543.70 L390.11,543.70 L390.36,543.70 L390.62,543.70 L390.87,543.70 L391.12,543.70 L391.38,543.70 L391.63,543.70 L391.88,543.70 L392.14,543.70 L392.39,543.70 L392.65,543.70 L392.90,543.70 L393.15,543.70 L393.41,543.70 L393.66,543.70 L393.91,543.70 L394.17,543.70 L394.42,543.70 L394.68,543.70 L394.93,543.70 L395.18,543.70 L395.44,543.70 L395.69,543.70 L395.94,543.70 L396.20,543.70 L396.45,543.70 L396.70,543.70 L396.96,543.70 L397.21,543.70 L397.47,543.70 L397.72,543.70 L397.97,543.70 L398.23,543.70 L398.48,543.70 L398.73,543.70 L398.99,543.70 L399.24,543.70 L399.49,543.70 L399.75,543.70 L400.00,543.70 L400.26,543.70 L400.51,543.70 L400.76,543.70 L401.02,543.70 L401.27,543.70 L401.52,543.70 L401.78,543.70 L402.03,543.70 L402.28,543.70 L402.54,543.70 L402.79,543.70 L403.05,543.70 L403.30,543.70 L403.55,543.70 L403.81,543.70 L404.06,543.70 L404.31,543.70 L404.57,543.70 L404.82,543.70 L405.08,543.70 L405.33,543.70 L405.58,543.70 L405.84,543.70 L406.09,543.70 L406.34,543.70 L406.60,543.70 L406.85,543.70 L407.10,543.70 L407.36,543.70 L407.61,543.70 L407.87,543.70 L408.12,543.70 L408.37,543.70 L408.63,543.70 L408.88,543.70 L409.13,543.70 L409.39,543.70 L409.64,543.70 L409.89,543.70 L410.15,543.70 L410.40,543.70 L410.66,543.70 L410.91,543.70 L411.16,543.70 L411.42,543.70 L411.67,543.70 L411.92,543.70 L412.18,543.70 L412.43,543.70 L412.69,543.70 L412.94,543.70 L413.19,543.70 L413.45,543.70 L413.70,543.70 L413.7,543.70 L337.6,543.70 Z" fill="#d4d4d4" fill-opacity="0.72" stroke="none"/>
<path d="M337.60,543.70 L337.85,543.70 L338.11,543.70 L338.36,543.70 L338.61,543.70 L338.87,543.70 L339.12,543.70 L339.38,543.70 L339.63,543.70 L339.88,543.70 L340.14,543.70 L340.39,543.70 L340.64,543.70 L340.90,543.70 L341.15,543.70 L341.41,543.70 L341.66,543.70 L341.91,543.70 L342.17,543.70 L342.42,543.70 L342.67,543.70 L342.93,543.70 L343.18,543.70 L343.43,543.70 L343.69,543.70 L343.94,543.70 L344.20,543.70 L344.45,543.70 L344.70,543.70 L344.96,543.70 L345.21,543.70 L345.46,543.70 L345.72,543.70 L345.97,543.70 L346.22,543.70 L346.48,543.70 L346.73,543.70 L346.99,543.70 L347.24,543.70 L347.49,543.70 L347.75,543.70 L348.00,543.70 L348.25,543.70 L348.51,543.70 L348.76,543.70 L349.02,543.70 L349.27,543.70 L349.52,543.70 L349.78,543.70 L350.03,543.70 L350.28,543.70 L350.54,543.70 L350.79,543.70 L351.04,543.70 L351.30,543.70 L351.55,543.70 L351.81,543.70 L352.06,543.70 L352.31,543.69 L352.57,543.69 L352.82,543.69 L353.07,543.69 L353.33,543.68 L353.58,543.68 L353.83,543.67 L354.09,543.66 L354.34,543.65 L354.60,543.63 L354.85,543.62 L355.10,543.60 L355.36,543.57 L355.61,543.54 L355.86,543.50 L356.12,543.46 L356.37,543.40 L356.62,543.34 L356.88,543.26 L357.13,543.17 L357.39,543.07 L357.64,542.94 L357.89,542.80 L358.15,542.64 L358.40,542.46 L358.65,542.25 L358.91,542.01 L359.16,541.75 L359.42,541.46 L359.67,541.13 L359.92,540.78 L360.18,540.39 L360.43,539.96 L360.68,539.50 L360.94,539.01 L361.19,538.49 L361.44,537.94 L361.70,537.36 L361.95,536.75 L362.21,536.12 L362.46,535.47 L362.71,534.81 L362.97,534.14 L363.22,533.46 L363.47,532.78 L363.73,532.11 L363.98,531.45 L364.24,530.80 L364.49,530.17 L364.74,529.56 L365.00,528.98 L365.25,528.41 L365.50,527.87 L365.76,527.34 L366.01,526.81 L366.26,526.29 L366.52,525.76 L366.77,525.23 L367.03,524.68 L367.28,524.07 L367.53,523.40 L367.79,522.65 L368.04,521.82 L368.29,520.98 L368.55,520.19 L368.80,519.70 L369.05,520.21 L369.31,521.18 L369.56,522.44 L369.82,523.92 L370.07,525.53 L370.32,527.22 L370.58,528.93 L370.83,530.62 L371.08,532.24 L371.34,533.77 L371.59,535.18 L371.85,536.46 L372.10,537.61 L372.35,538.62 L372.61,539.50 L372.86,540.25 L373.11,540.89 L373.37,541.43 L373.62,541.88 L373.87,542.25 L374.13,542.56 L374.38,542.80 L374.64,543.00 L374.89,543.15 L375.14,543.28 L375.40,543.38 L375.65,543.45 L375.90,543.51 L376.16,543.56 L376.41,543.59 L376.66,543.62 L376.92,543.64 L377.17,543.66 L377.43,543.67 L377.68,543.68 L377.93,543.68 L378.19,543.69 L378.44,543.69 L378.69,543.69 L378.95,543.70 L379.20,543.70 L379.45,543.70 L379.71,543.70 L379.96,543.70 L380.22,543.70 L380.47,543.70 L380.72,543.70 L380.98,543.70 L381.23,543.70 L381.48,543.70 L381.74,543.70 L381.99,543.70 L382.25,543.70 L382.50,543.70 L382.75,543.70 L383.01,543.70 L383.26,543.70 L383.51,543.70 L383.77,543.70 L384.02,543.70 L384.27,543.70 L384.53,543.70 L384.78,543.70 L385.04,543.70 L385.29,543.70 L385.54,543.70 L385.80,543.70 L386.05,543.70 L386.30,543.70 L386.56,543.70 L386.81,543.70 L387.06,543.70 L387.32,543.70 L387.57,543.70 L387.83,543.70 L388.08,543.70 L388.33,543.70 L388.59,543.70 L388.84,543.70 L389.09,543.70 L389.35,543.70 L389.60,543.70 L389.86,543.70 L390.11,543.70 L390.36,543.70 L390.62,543.70 L390.87,543.70 L391.12,543.70 L391.38,543.70 L391.63,543.70 L391.88,543.70 L392.14,543.70 L392.39,543.70 L392.65,543.70 L392.90,543.70 L393.15,543.70 L393.41,543.70 L393.66,543.70 L393.91,543.70 L394.17,543.70 L394.42,543.70 L394.68,543.70 L394.93,543.70 L395.18,543.70 L395.44,543.70 L395.69,543.70 L395.94,543.70 L396.20,543.70 L396.45,543.70 L396.70,543.70 L396.96,543.70 L397.21,543.70 L397.47,543.70 L397.72,543.70 L397.97,543.70 L398.23,543.70 L398.48,543.70 L398.73,543.70 L398.99,543.70 L399.24,543.70 L399.49,543.70 L399.75,543.70 L400.00,543.70 L400.26,543.70 L400.51,543.70 L400.76,543.70 L401.02,543.70 L401.27,543.70 L401.52,543.70 L401.78,543.70 L402.03,543.70 L402.28,543.70 L402.54,543.70 L402.79,543.70 L403.05,543.70 L403.30,543.70 L403.55,543.70 L403.81,543.70 L404.06,543.70 L404.31,543.70 L404.57,543.70 L404.82,543.70 L405.08,543.70 L405.33,543.70 L405.58,543.70 L405.84,543.70 L406.09,543.70 L406.34,543.70 L406.60,543.70 L406.85,543.70 L407.10,543.70 L407.36,543.70 L407.61,543.70 L407.87,543.70 L408.12,543.70 L408.37,543.70 L408.63,543.70 L408.88,543.70 L409.13,543.70 L409.39,543.70 L409.64,543.70 L409.89,543.70 L410.15,543.70 L410.40,543.70 L410.66,543.70 L410.91,543.70 L411.16,543.70 L411.42,543.70 L411.67,543.70 L411.92,543.70 L412.18,543.70 L412.43,543.70 L412.69,543.70 L412.94,543.70 L413.19,543.70 L413.45,543.70 L413.70,543.70" fill="none" stroke="#bcbcbc" stroke-width="0.9"/>
<path d="M337.60,556.20 L337.85,556.20 L338.11,556.20 L338.36,556.20 L338.61,556.20 L338.87,556.20 L339.12,556.20 L339.38,556.20 L339.63,556.20 L339.88,556.20 L340.14,556.20 L340.39,556.20 L340.64,556.20 L340.90,556.20 L341.15,556.20 L341.41,556.20 L341.66,556.20 L341.91,556.20 L342.17,556.20 L342.42,556.20 L342.67,556.20 L342.93,556.20 L343.18,556.20 L343.43,556.20 L343.69,556.20 L343.94,556.20 L344.20,556.20 L344.45,556.20 L344.70,556.20 L344.96,556.20 L345.21,556.20 L345.46,556.20 L345.72,556.20 L345.97,556.20 L346.22,556.20 L346.48,556.20 L346.73,556.20 L346.99,556.20 L347.24,556.20 L347.49,556.20 L347.75,556.20 L348.00,556.20 L348.25,556.20 L348.51,556.20 L348.76,556.20 L349.02,556.20 L349.27,556.20 L349.52,556.20 L349.78,556.20 L350.03,556.20 L350.28,556.20 L350.54,556.20 L350.79,556.20 L351.04,556.20 L351.30,556.20 L351.55,556.20 L351.81,556.20 L352.06,556.20 L352.31,556.20 L352.57,556.20 L352.82,556.20 L353.07,556.20 L353.33,556.20 L353.58,556.20 L353.83,556.20 L354.09,556.20 L354.34,556.20 L354.60,556.19 L354.85,556.19 L355.10,556.19 L355.36,556.19 L355.61,556.19 L355.86,556.18 L356.12,556.18 L356.37,556.18 L356.62,556.17 L356.88,556.17 L357.13,556.16 L357.39,556.16 L357.64,556.15 L357.89,556.14 L358.15,556.13 L358.40,556.11 L358.65,556.10 L358.91,556.08 L359.16,556.06 L359.42,556.04 L359.67,556.01 L359.92,555.97 L360.18,555.94 L360.43,555.89 L360.68,555.84 L360.94,555.79 L361.19,555.72 L361.44,555.65 L361.70,555.56 L361.95,555.46 L362.21,555.35 L362.46,555.23 L362.71,555.08 L362.97,554.92 L363.22,554.74 L363.47,554.54 L363.73,554.32 L363.98,554.06 L364.24,553.78 L364.49,553.47 L364.74,553.12 L365.00,552.74 L365.25,552.32 L365.50,551.86 L365.76,551.36 L366.01,550.81 L366.26,550.22 L366.52,549.58 L366.77,548.88 L367.03,548.14 L367.28,547.35 L367.53,546.51 L367.79,545.61 L368.04,544.68 L368.29,543.70 L368.55,542.68 L368.80,541.63 L369.05,540.56 L369.31,539.48 L369.56,538.39 L369.82,537.32 L370.07,536.28 L370.32,535.29 L370.58,534.39 L370.83,533.60 L371.08,532.98 L371.34,532.73 L371.59,533.30 L371.85,534.21 L372.10,535.32 L372.35,536.54 L372.61,537.84 L372.86,539.17 L373.11,540.51 L373.37,541.82 L373.62,543.10 L373.87,544.33 L374.13,545.50 L374.38,546.59 L374.64,547.62 L374.89,548.56 L375.14,549.44 L375.40,550.23 L375.65,550.96 L375.90,551.61 L376.16,552.20 L376.41,552.72 L376.66,553.19 L376.92,553.60 L377.17,553.96 L377.43,554.28 L377.68,554.56 L377.93,554.81 L378.19,555.02 L378.44,555.20 L378.69,555.35 L378.95,555.49 L379.20,555.60 L379.45,555.70 L379.71,555.78 L379.96,555.85 L380.22,555.91 L380.47,555.96 L380.72,556.00 L380.98,556.04 L381.23,556.07 L381.48,556.09 L381.74,556.11 L381.99,556.13 L382.25,556.14 L382.50,556.15 L382.75,556.16 L383.01,556.17 L383.26,556.17 L383.51,556.18 L383.77,556.18 L384.02,556.19 L384.27,556.19 L384.53,556.19 L384.78,556.19 L385.04,556.19 L385.29,556.20 L385.54,556.20 L385.80,556.20 L386.05,556.20 L386.30,556.20 L386.56,556.20 L386.81,556.20 L387.06,556.20 L387.32,556.20 L387.57,556.20 L387.83,556.20 L388.08,556.20 L388.33,556.20 L388.59,556.20 L388.84,556.20 L389.09,556.20 L389.35,556.20 L389.60,556.20 L389.86,556.20 L390.11,556.20 L390.36,556.20 L390.62,556.20 L390.87,556.20 L391.12,556.20 L391.38,556.20 L391.63,556.20 L391.88,556.20 L392.14,556.20 L392.39,556.20 L392.65,556.20 L392.90,556.20 L393.15,556.20 L393.41,556.20 L393.66,556.20 L393.91,556.20 L394.17,556.20 L394.42,556.20 L394.68,556.20 L394.93,556.20 L395.18,556.20 L395.44,556.20 L395.69,556.20 L395.94,556.20 L396.20,556.20 L396.45,556.20 L396.70,556.20 L396.96,556.20 L397.21,556.20 L397.47,556.20 L397.72,556.20 L397.97,556.20 L398.23,556.20 L398.48,556.20 L398.73,556.20 L398.99,556.20 L399.24,556.20 L399.49,556.20 L399.75,556.20 L400.00,556.20 L400.26,556.20 L400.51,556.20 L400.76,556.20 L401.02,556.20 L401.27,556.20 L401.52,556.20 L401.78,556.20 L402.03,556.20 L402.28,556.20 L402.54,556.20 L402.79,556.20 L403.05,556.20 L403.30,556.20 L403.55,556.20 L403.81,556.20 L404.06,556.20 L404.31,556.20 L404.57,556.20 L404.82,556.20 L405.08,556.20 L405.33,556.20 L405.58,556.20 L405.84,556.20 L406.09,556.20 L406.34,556.20 L406.60,556.20 L406.85,556.20 L407.10,556.20 L407.36,556.20 L407.61,556.20 L407.87,556.20 L408.12,556.20 L408.37,556.20 L408.63,556.20 L408.88,556.20 L409.13,556.20 L409.39,556.20 L409.64,556.20 L409.89,556.20 L410.15,556.20 L410.40,556.20 L410.66,556.20 L410.91,556.20 L411.16,556.20 L411.42,556.20 L411.67,556.20 L411.92,556.20 L412.18,556.20 L412.43,556.20 L412.69,556.20 L412.94,556.20 L413.19,556.20 L413.45,556.20 L413.70,556.20 L413.7,556.20 L337.6,556.20 Z" fill="#9cd392" fill-opacity="0.72" stroke="none"/>
<path d="M337.60,556.20 L337.85,556.20 L338.11,556.20 L338.36,556.20 L338.61,556.20 L338.87,556.20 L339.12,556.20 L339.38,556.20 L339.63,556.20 L339.88,556.20 L340.14,556.20 L340.39,556.20 L340.64,556.20 L340.90,556.20 L341.15,556.20 L341.41,556.20 L341.66,556.20 L341.91,556.20 L342.17,556.20 L342.42,556.20 L342.67,556.20 L342.93,556.20 L343.18,556.20 L343.43,556.20 L343.69,556.20 L343.94,556.20 L344.20,556.20 L344.45,556.20 L344.70,556.20 L344.96,556.20 L345.21,556.20 L345.46,556.20 L345.72,556.20 L345.97,556.20 L346.22,556.20 L346.48,556.20 L346.73,556.20 L346.99,556.20 L347.24,556.20 L347.49,556.20 L347.75,556.20 L348.00,556.20 L348.25,556.20 L348.51,556.20 L348.76,556.20 L349.02,556.20 L349.27,556.20 L349.52,556.20 L349.78,556.20 L350.03,556.20 L350.28,556.20 L350.54,556.20 L350.79,556.20 L351.04,556.20 L351.30,556.20 L351.55,556.20 L351.81,556.20 L352.06,556.20 L352.31,556.20 L352.57,556.20 L352.82,556.20 L353.07,556.20 L353.33,556.20 L353.58,556.20 L353.83,556.20 L354.09,556.20 L354.34,556.20 L354.60,556.19 L354.85,556.19 L355.10,556.19 L355.36,556.19 L355.61,556.19 L355.86,556.18 L356.12,556.18 L356.37,556.18 L356.62,556.17 L356.88,556.17 L357.13,556.16 L357.39,556.16 L357.64,556.15 L357.89,556.14 L358.15,556.13 L358.40,556.11 L358.65,556.10 L358.91,556.08 L359.16,556.06 L359.42,556.04 L359.67,556.01 L359.92,555.97 L360.18,555.94 L360.43,555.89 L360.68,555.84 L360.94,555.79 L361.19,555.72 L361.44,555.65 L361.70,555.56 L361.95,555.46 L362.21,555.35 L362.46,555.23 L362.71,555.08 L362.97,554.92 L363.22,554.74 L363.47,554.54 L363.73,554.32 L363.98,554.06 L364.24,553.78 L364.49,553.47 L364.74,553.12 L365.00,552.74 L365.25,552.32 L365.50,551.86 L365.76,551.36 L366.01,550.81 L366.26,550.22 L366.52,549.58 L366.77,548.88 L367.03,548.14 L367.28,547.35 L367.53,546.51 L367.79,545.61 L368.04,544.68 L368.29,543.70 L368.55,542.68 L368.80,541.63 L369.05,540.56 L369.31,539.48 L369.56,538.39 L369.82,537.32 L370.07,536.28 L370.32,535.29 L370.58,534.39 L370.83,533.60 L371.08,532.98 L371.34,532.73 L371.59,533.30 L371.85,534.21 L372.10,535.32 L372.35,536.54 L372.61,537.84 L372.86,539.17 L373.11,540.51 L373.37,541.82 L373.62,543.10 L373.87,544.33 L374.13,545.50 L374.38,546.59 L374.64,547.62 L374.89,548.56 L375.14,549.44 L375.40,550.23 L375.65,550.96 L375.90,551.61 L376.16,552.20 L376.41,552.72 L376.66,553.19 L376.92,553.60 L377.17,553.96 L377.43,554.28 L377.68,554.56 L377.93,554.81 L378.19,555.02 L378.44,555.20 L378.69,555.35 L378.95,555.49 L379.20,555.60 L379.45,555.70 L379.71,555.78 L379.96,555.85 L380.22,555.91 L380.47,555.96 L380.72,556.00 L380.98,556.04 L381.23,556.07 L381.48,556.09 L381.74,556.11 L381.99,556.13 L382.25,556.14 L382.50,556.15 L382.75,556.16 L383.01,556.17 L383.26,556.17 L383.51,556.18 L383.77,556.18 L384.02,556.19 L384.27,556.19 L384.53,556.19 L384.78,556.19 L385.04,556.19 L385.29,556.20 L385.54,556.20 L385.80,556.20 L386.05,556.20 L386.30,556.20 L386.56,556.20 L386.81,556.20 L387.06,556.20 L387.32,556.20 L387.57,556.20 L387.83,556.20 L388.08,556.20 L388.33,556.20 L388.59,556.20 L388.84,556.20 L389.09,556.20 L389.35,556.20 L389.60,556.20 L389.86,556.20 L390.11,556.20 L390.36,556.20 L390.62,556.20 L390.87,556.20 L391.12,556.20 L391.38,556.20 L391.63,556.20 L391.88,556.20 L392.14,556.20 L392.39,556.20 L392.65,556.20 L392.90,556.20 L393.15,556.20 L393.41,556.20 L393.66,556.20 L393.91,556.20 L394.17,556.20 L394.42,556.20 L394.68,556.20 L394.93,556.20 L395.18,556.20 L395.44,556.20 L395.69,556.20 L395.94,556.20 L396.20,556.20 L396.45,556.20 L396.70,556.20 L396.96,556.20 L397.21,556.20 L397.47,556.20 L397.72,556.20 L397.97,556.20 L398.23,556.20 L398.48,556.20 L398.73,556.20 L398.99,556.20 L399.24,556.20 L399.49,556.20 L399.75,556.20 L400.00,556.20 L400.26,556.20 L400.51,556.20 L400.76,556.20 L401.02,556.20 L401.27,556.20 L401.52,556.20 L401.78,556.20 L402.03,556.20 L402.28,556.20 L402.54,556.20 L402.79,556.20 L403.05,556.20 L403.30,556.20 L403.55,556.20 L403.81,556.20 L404.06,556.20 L404.31,556.20 L404.57,556.20 L404.82,556.20 L405.08,556.20 L405.33,556.20 L405.58,556.20 L405.84,556.20 L406.09,556.20 L406.34,556.20 L406.60,556.20 L406.85,556.20 L407.10,556.20 L407.36,556.20 L407.61,556.20 L407.87,556.20 L408.12,556.20 L408.37,556.20 L408.63,556.20 L408.88,556.20 L409.13,556.20 L409.39,556.20 L409.64,556.20 L409.89,556.20 L410.15,556.20 L410.40,556.20 L410.66,556.20 L410.91,556.20 L411.16,556.20 L411.42,556.20 L411.67,556.20 L411.92,556.20 L412.18,556.20 L412.43,556.20 L412.69,556.20 L412.94,556.20 L413.19,556.20 L413.45,556.20 L413.70,556.20" fill="none" stroke="#68b560" stroke-width="0.9"/>
<path d="M337.60,569.40 L337.85,569.40 L338.11,569.40 L338.36,569.40 L338.61,569.40 L338.87,569.40 L339.12,569.40 L339.38,569.40 L339.63,569.40 L339.88,569.40 L340.14,569.40 L340.39,569.40 L340.64,569.40 L340.90,569.40 L341.15,569.40 L341.41,569.40 L341.66,569.40 L341.91,569.40 L342.17,569.40 L342.42,569.40 L342.67,569.40 L342.93,569.40 L343.18,569.40 L343.43,569.40 L343.69,569.40 L343.94,569.40 L344.20,569.40 L344.45,569.40 L344.70,569.40 L344.96,569.40 L345.21,569.40 L345.46,569.40 L345.72,569.40 L345.97,569.40 L346.22,569.40 L346.48,569.40 L346.73,569.40 L346.99,569.40 L347.24,569.40 L347.49,569.40 L347.75,569.40 L348.00,569.40 L348.25,569.40 L348.51,569.40 L348.76,569.40 L349.02,569.40 L349.27,569.40 L349.52,569.40 L349.78,569.40 L350.03,569.40 L350.28,569.40 L350.54,569.40 L350.79,569.40 L351.04,569.40 L351.30,569.40 L351.55,569.40 L351.81,569.40 L352.06,569.40 L352.31,569.40 L352.57,569.40 L352.82,569.40 L353.07,569.40 L353.33,569.40 L353.58,569.40 L353.83,569.40 L354.09,569.40 L354.34,569.40 L354.60,569.40 L354.85,569.40 L355.10,569.40 L355.36,569.40 L355.61,569.40 L355.86,569.40 L356.12,569.40 L356.37,569.40 L356.62,569.40 L356.88,569.40 L357.13,569.40 L357.39,569.40 L357.64,569.39 L357.89,569.39 L358.15,569.39 L358.40,569.39 L358.65,569.39 L358.91,569.39 L359.16,569.38 L359.42,569.38 L359.67,569.38 L359.92,569.38 L360.18,569.37 L360.43,569.37 L360.68,569.36 L360.94,569.35 L361.19,569.34 L361.44,569.33 L361.70,569.32 L361.95,569.31 L362.21,569.29 L362.46,569.28 L362.71,569.26 L362.97,569.23 L363.22,569.21 L363.47,569.18 L363.73,569.14 L363.98,569.10 L364.24,569.06 L364.49,569.00 L364.74,568.94 L365.00,568.88 L365.25,568.80 L365.50,568.71 L365.76,568.62 L366.01,568.51 L366.26,568.38 L366.52,568.25 L366.77,568.09 L367.03,567.92 L367.28,567.72 L367.53,567.51 L367.79,567.27 L368.04,567.01 L368.29,566.72 L368.55,566.40 L368.80,566.05 L369.05,565.66 L369.31,565.24 L369.56,564.79 L369.82,564.29 L370.07,563.75 L370.32,563.17 L370.58,562.55 L370.83,561.88 L371.08,561.16 L371.34,560.40 L371.59,559.60 L371.85,558.75 L372.10,557.87 L372.35,556.94 L372.61,555.98 L372.86,554.99 L373.11,553.97 L373.37,552.94 L373.62,551.91 L373.87,550.88 L374.13,549.86 L374.38,548.89 L374.64,547.97 L374.89,547.13 L375.14,546.40 L375.40,545.84 L375.65,545.63 L375.90,546.08 L376.16,546.77 L376.41,547.61 L376.66,548.56 L376.92,549.59 L377.17,550.65 L377.43,551.75 L377.68,552.85 L377.93,553.94 L378.19,555.02 L378.44,556.07 L378.69,557.09 L378.95,558.06 L379.20,559.00 L379.45,559.88 L379.71,560.72 L379.96,561.50 L380.22,562.24 L380.47,562.92 L380.72,563.56 L380.98,564.14 L381.23,564.68 L381.48,565.17 L381.74,565.63 L381.99,566.04 L382.25,566.41 L382.50,566.75 L382.75,567.05 L383.01,567.33 L383.26,567.57 L383.51,567.79 L383.77,567.99 L384.02,568.17 L384.27,568.32 L384.53,568.46 L384.78,568.58 L385.04,568.69 L385.29,568.78 L385.54,568.87 L385.80,568.94 L386.05,569.00 L386.30,569.06 L386.56,569.11 L386.81,569.15 L387.06,569.18 L387.32,569.22 L387.57,569.24 L387.83,569.27 L388.08,569.29 L388.33,569.30 L388.59,569.32 L388.84,569.33 L389.09,569.34 L389.35,569.35 L389.60,569.36 L389.86,569.36 L390.11,569.37 L390.36,569.38 L390.62,569.38 L390.87,569.38 L391.12,569.39 L391.38,569.39 L391.63,569.39 L391.88,569.39 L392.14,569.39 L392.39,569.39 L392.65,569.40 L392.90,569.40 L393.15,569.40 L393.41,569.40 L393.66,569.40 L393.91,569.40 L394.17,569.40 L394.42,569.40 L394.68,569.40 L394.93,569.40 L395.18,569.40 L395.44,569.40 L395.69,569.40 L395.94,569.40 L396.20,569.40 L396.45,569.40 L396.70,569.40 L396.96,569.40 L397.21,569.40 L397.47,569.40 L397.72,569.40 L397.97,569.40 L398.23,569.40 L398.48,569.40 L398.73,569.40 L398.99,569.40 L399.24,569.40 L399.49,569.40 L399.75,569.40 L400.00,569.40 L400.26,569.40 L400.51,569.40 L400.76,569.40 L401.02,569.40 L401.27,569.40 L401.52,569.40 L401.78,569.40 L402.03,569.40 L402.28,569.40 L402.54,569.40 L402.79,569.40 L403.05,569.40 L403.30,569.40 L403.55,569.40 L403.81,569.40 L404.06,569.40 L404.31,569.40 L404.57,569.40 L404.82,569.40 L405.08,569.40 L405.33,569.40 L405.58,569.40 L405.84,569.40 L406.09,569.40 L406.34,569.40 L406.60,569.40 L406.85,569.40 L407.10,569.40 L407.36,569.40 L407.61,569.40 L407.87,569.40 L408.12,569.40 L408.37,569.40 L408.63,569.40 L408.88,569.40 L409.13,569.40 L409.39,569.40 L409.64,569.40 L409.89,569.40 L410.15,569.40 L410.40,569.40 L410.66,569.40 L410.91,569.40 L411.16,569.40 L411.42,569.40 L411.67,569.40 L411.92,569.40 L412.18,569.40 L412.43,569.40 L412.69,569.40 L412.94,569.40 L413.19,569.40 L413.45,569.40 L413.70,569.40 L413.7,569.40 L337.6,569.40 Z" fill="#ea7e6e" fill-opacity="0.72" stroke="none"/>
<path d="M337.60,569.40 L337.85,569.40 L338.11,569.40 L338.36,569.40 L338.61,569.40 L338.87,569.40 L339.12,569.40 L339.38,569.40 L339.63,569.40 L339.88,569.40 L340.14,569.40 L340.39,569.40 L340.64,569.40 L340.90,569.40 L341.15,569.40 L341.41,569.40 L341.66,569.40 L341.91,569.40 L342.17,569.40 L342.42,569.40 L342.67,569.40 L342.93,569.40 L343.18,569.40 L343.43,569.40 L343.69,569.40 L343.94,569.40 L344.20,569.40 L344.45,569.40 L344.70,569.40 L344.96,569.40 L345.21,569.40 L345.46,569.40 L345.72,569.40 L345.97,569.40 L346.22,569.40 L346.48,569.40 L346.73,569.40 L346.99,569.40 L347.24,569.40 L347.49,569.40 L347.75,569.40 L348.00,569.40 L348.25,569.40 L348.51,569.40 L348.76,569.40 L349.02,569.40 L349.27,569.40 L349.52,569.40 L349.78,569.40 L350.03,569.40 L350.28,569.40 L350.54,569.40 L350.79,569.40 L351.04,569.40 L351.30,569.40 L351.55,569.40 L351.81,569.40 L352.06,569.40 L352.31,569.40 L352.57,569.40 L352.82,569.40 L353.07,569.40 L353.33,569.40 L353.58,569.40 L353.83,569.40 L354.09,569.40 L354.34,569.40 L354.60,569.40 L354.85,569.40 L355.10,569.40 L355.36,569.40 L355.61,569.40 L355.86,569.40 L356.12,569.40 L356.37,569.40 L356.62,569.40 L356.88,569.40 L357.13,569.40 L357.39,569.40 L357.64,569.39 L357.89,569.39 L358.15,569.39 L358.40,569.39 L358.65,569.39 L358.91,569.39 L359.16,569.38 L359.42,569.38 L359.67,569.38 L359.92,569.38 L360.18,569.37 L360.43,569.37 L360.68,569.36 L360.94,569.35 L361.19,569.34 L361.44,569.33 L361.70,569.32 L361.95,569.31 L362.21,569.29 L362.46,569.28 L362.71,569.26 L362.97,569.23 L363.22,569.21 L363.47,569.18 L363.73,569.14 L363.98,569.10 L364.24,569.06 L364.49,569.00 L364.74,568.94 L365.00,568.88 L365.25,568.80 L365.50,568.71 L365.76,568.62 L366.01,568.51 L366.26,568.38 L366.52,568.25 L366.77,568.09 L367.03,567.92 L367.28,567.72 L367.53,567.51 L367.79,567.27 L368.04,567.01 L368.29,566.72 L368.55,566.40 L368.80,566.05 L369.05,565.66 L369.31,565.24 L369.56,564.79 L369.82,564.29 L370.07,563.75 L370.32,563.17 L370.58,562.55 L370.83,561.88 L371.08,561.16 L371.34,560.40 L371.59,559.60 L371.85,558.75 L372.10,557.87 L372.35,556.94 L372.61,555.98 L372.86,554.99 L373.11,553.97 L373.37,552.94 L373.62,551.91 L373.87,550.88 L374.13,549.86 L374.38,548.89 L374.64,547.97 L374.89,547.13 L375.14,546.40 L375.40,545.84 L375.65,545.63 L375.90,546.08 L376.16,546.77 L376.41,547.61 L376.66,548.56 L376.92,549.59 L377.17,550.65 L377.43,551.75 L377.68,552.85 L377.93,553.94 L378.19,555.02 L378.44,556.07 L378.69,557.09 L378.95,558.06 L379.20,559.00 L379.45,559.88 L379.71,560.72 L379.96,561.50 L380.22,562.24 L380.47,562.92 L380.72,563.56 L380.98,564.14 L381.23,564.68 L381.48,565.17 L381.74,565.63 L381.99,566.04 L382.25,566.41 L382.50,566.75 L382.75,567.05 L383.01,567.33 L383.26,567.57 L383.51,567.79 L383.77,567.99 L384.02,568.17 L384.27,568.32 L384.53,568.46 L384.78,568.58 L385.04,568.69 L385.29,568.78 L385.54,568.87 L385.80,568.94 L386.05,569.00 L386.30,569.06 L386.56,569.11 L386.81,569.15 L387.06,569.18 L387.32,569.22 L387.57,569.24 L387.83,569.27 L388.08,569.29 L388.33,569.30 L388.59,569.32 L388.84,569.33 L389.09,569.34 L389.35,569.35 L389.60,569.36 L389.86,569.36 L390.11,569.37 L390.36,569.38 L390.62,569.38 L390.87,569.38 L391.12,569.39 L391.38,569.39 L391.63,569.39 L391.88,569.39 L392.14,569.39 L392.39,569.39 L392.65,569.40 L392.90,569.40 L393.15,569.40 L393.41,569.40 L393.66,569.40 L393.91,569.40 L394.17,569.40 L394.42,569.40 L394.68,569.40 L394.93,569.40 L395.18,569.40 L395.44,569.40 L395.69,569.40 L395.94,569.40 L396.20,569.40 L396.45,569.40 L396.70,569.40 L396.96,569.40 L397.21,569.40 L397.47,569.40 L397.72,569.40 L397.97,569.40 L398.23,569.40 L398.48,569.40 L398.73,569.40 L398.99,569.40 L399.24,569.40 L399.49,569.40 L399.75,569.40 L400.00,569.40 L400.26,569.40 L400.51,569.40 L400.76,569.40 L401.02,569.40 L401.27,569.40 L401.52,569.40 L401.78,569.40 L402.03,569.40 L402.28,569.40 L402.54,569.40 L402.79,569.40 L403.05,569.40 L403.30,569.40 L403.55,569.40 L403.81,569.40 L404.06,569.40 L404.31,569.40 L404.57,569.40 L404.82,569.40 L405.08,569.40 L405.33,569.40 L405.58,569.40 L405.84,569.40 L406.09,569.40 L406.34,569.40 L406.60,569.40 L406.85,569.40 L407.10,569.40 L407.36,569.40 L407.61,569.40 L407.87,569.40 L408.12,569.40 L408.37,569.40 L408.63,569.40 L408.88,569.40 L409.13,569.40 L409.39,569.40 L409.64,569.40 L409.89,569.40 L410.15,569.40 L410.40,569.40 L410.66,569.40 L410.91,569.40 L411.16,569.40 L411.42,569.40 L411.67,569.40 L411.92,569.40 L412.18,569.40 L412.43,569.40 L412.69,569.40 L412.94,569.40 L413.19,569.40 L413.45,569.40 L413.70,569.40" fill="none" stroke="#b83848" stroke-width="0.9"/>
<path d="M337.60,582.30 L337.85,582.30 L338.11,582.30 L338.36,582.30 L338.61,582.30 L338.87,582.30 L339.12,582.30 L339.38,582.30 L339.63,582.30 L339.88,582.30 L340.14,582.30 L340.39,582.30 L340.64,582.30 L340.90,582.30 L341.15,582.30 L341.41,582.30 L341.66,582.30 L341.91,582.30 L342.17,582.30 L342.42,582.30 L342.67,582.30 L342.93,582.30 L343.18,582.30 L343.43,582.30 L343.69,582.30 L343.94,582.30 L344.20,582.30 L344.45,582.30 L344.70,582.30 L344.96,582.30 L345.21,582.30 L345.46,582.30 L345.72,582.30 L345.97,582.30 L346.22,582.30 L346.48,582.30 L346.73,582.30 L346.99,582.30 L347.24,582.30 L347.49,582.30 L347.75,582.30 L348.00,582.30 L348.25,582.30 L348.51,582.30 L348.76,582.30 L349.02,582.30 L349.27,582.30 L349.52,582.30 L349.78,582.30 L350.03,582.30 L350.28,582.30 L350.54,582.30 L350.79,582.30 L351.04,582.30 L351.30,582.30 L351.55,582.30 L351.81,582.30 L352.06,582.30 L352.31,582.30 L352.57,582.30 L352.82,582.30 L353.07,582.30 L353.33,582.30 L353.58,582.30 L353.83,582.30 L354.09,582.30 L354.34,582.30 L354.60,582.30 L354.85,582.30 L355.10,582.30 L355.36,582.30 L355.61,582.30 L355.86,582.30 L356.12,582.30 L356.37,582.30 L356.62,582.30 L356.88,582.30 L357.13,582.30 L357.39,582.30 L357.64,582.30 L357.89,582.30 L358.15,582.30 L358.40,582.30 L358.65,582.30 L358.91,582.29 L359.16,582.29 L359.42,582.29 L359.67,582.29 L359.92,582.29 L360.18,582.29 L360.43,582.29 L360.68,582.28 L360.94,582.28 L361.19,582.28 L361.44,582.27 L361.70,582.27 L361.95,582.26 L362.21,582.26 L362.46,582.25 L362.71,582.24 L362.97,582.24 L363.22,582.22 L363.47,582.21 L363.73,582.20 L363.98,582.18 L364.24,582.17 L364.49,582.14 L364.74,582.12 L365.00,582.09 L365.25,582.06 L365.50,582.03 L365.76,581.99 L366.01,581.94 L366.26,581.89 L366.52,581.84 L366.77,581.77 L367.03,581.70 L367.28,581.62 L367.53,581.53 L367.79,581.43 L368.04,581.31 L368.29,581.18 L368.55,581.04 L368.80,580.89 L369.05,580.71 L369.31,580.52 L369.56,580.30 L369.82,580.07 L370.07,579.81 L370.32,579.53 L370.58,579.22 L370.83,578.88 L371.08,578.51 L371.34,578.11 L371.59,577.67 L371.85,577.20 L372.10,576.70 L372.35,576.15 L372.61,575.57 L372.86,574.94 L373.11,574.28 L373.37,573.58 L373.62,572.83 L373.87,572.05 L374.13,571.22 L374.38,570.36 L374.64,569.47 L374.89,568.55 L375.14,567.60 L375.40,566.63 L375.65,565.65 L375.90,564.66 L376.16,563.68 L376.41,562.71 L376.66,561.78 L376.92,560.89 L377.17,560.07 L377.43,559.34 L377.68,558.74 L377.93,558.34 L378.19,558.53 L378.44,559.13 L378.69,559.92 L378.95,560.84 L379.20,561.84 L379.45,562.89 L379.71,563.99 L379.96,565.10 L380.22,566.20 L380.47,567.30 L380.72,568.37 L380.98,569.41 L381.23,570.42 L381.48,571.38 L381.74,572.30 L381.99,573.16 L382.25,573.98 L382.50,574.74 L382.75,575.46 L383.01,576.12 L383.26,576.73 L383.51,577.30 L383.77,577.81 L384.02,578.29 L384.27,578.72 L384.53,579.12 L384.78,579.47 L385.04,579.79 L385.29,580.09 L385.54,580.35 L385.80,580.58 L386.05,580.79 L386.30,580.98 L386.56,581.14 L386.81,581.29 L387.06,581.42 L387.32,581.53 L387.57,581.64 L387.83,581.72 L388.08,581.80 L388.33,581.87 L388.59,581.93 L388.84,581.98 L389.09,582.03 L389.35,582.07 L389.60,582.10 L389.86,582.13 L390.11,582.15 L390.36,582.18 L390.62,582.19 L390.87,582.21 L391.12,582.22 L391.38,582.24 L391.63,582.25 L391.88,582.25 L392.14,582.26 L392.39,582.27 L392.65,582.27 L392.90,582.28 L393.15,582.28 L393.41,582.28 L393.66,582.29 L393.91,582.29 L394.17,582.29 L394.42,582.29 L394.68,582.29 L394.93,582.29 L395.18,582.30 L395.44,582.30 L395.69,582.30 L395.94,582.30 L396.20,582.30 L396.45,582.30 L396.70,582.30 L396.96,582.30 L397.21,582.30 L397.47,582.30 L397.72,582.30 L397.97,582.30 L398.23,582.30 L398.48,582.30 L398.73,582.30 L398.99,582.30 L399.24,582.30 L399.49,582.30 L399.75,582.30 L400.00,582.30 L400.26,582.30 L400.51,582.30 L400.76,582.30 L401.02,582.30 L401.27,582.30 L401.52,582.30 L401.78,582.30 L402.03,582.30 L402.28,582.30 L402.54,582.30 L402.79,582.30 L403.05,582.30 L403.30,582.30 L403.55,582.30 L403.81,582.30 L404.06,582.30 L404.31,582.30 L404.57,582.30 L404.82,582.30 L405.08,582.30 L405.33,582.30 L405.58,582.30 L405.84,582.30 L406.09,582.30 L406.34,582.30 L406.60,582.30 L406.85,582.30 L407.10,582.30 L407.36,582.30 L407.61,582.30 L407.87,582.30 L408.12,582.30 L408.37,582.30 L408.63,582.30 L408.88,582.30 L409.13,582.30 L409.39,582.30 L409.64,582.30 L409.89,582.30 L410.15,582.30 L410.40,582.30 L410.66,582.30 L410.91,582.30 L411.16,582.30 L411.42,582.30 L411.67,582.30 L411.92,582.30 L412.18,582.30 L412.43,582.30 L412.69,582.30 L412.94,582.30 L413.19,582.30 L413.45,582.30 L413.70,582.30 L413.7,582.30 L337.6,582.30 Z" fill="#5d6aae" fill-opacity="0.72" stroke="none"/>
<path d="M337.60,582.30 L337.85,582.30 L338.11,582.30 L338.36,582.30 L338.61,582.30 L338.87,582.30 L339.12,582.30 L339.38,582.30 L339.63,582.30 L339.88,582.30 L340.14,582.30 L340.39,582.30 L340.64,582.30 L340.90,582.30 L341.15,582.30 L341.41,582.30 L341.66,582.30 L341.91,582.30 L342.17,582.30 L342.42,582.30 L342.67,582.30 L342.93,582.30 L343.18,582.30 L343.43,582.30 L343.69,582.30 L343.94,582.30 L344.20,582.30 L344.45,582.30 L344.70,582.30 L344.96,582.30 L345.21,582.30 L345.46,582.30 L345.72,582.30 L345.97,582.30 L346.22,582.30 L346.48,582.30 L346.73,582.30 L346.99,582.30 L347.24,582.30 L347.49,582.30 L347.75,582.30 L348.00,582.30 L348.25,582.30 L348.51,582.30 L348.76,582.30 L349.02,582.30 L349.27,582.30 L349.52,582.30 L349.78,582.30 L350.03,582.30 L350.28,582.30 L350.54,582.30 L350.79,582.30 L351.04,582.30 L351.30,582.30 L351.55,582.30 L351.81,582.30 L352.06,582.30 L352.31,582.30 L352.57,582.30 L352.82,582.30 L353.07,582.30 L353.33,582.30 L353.58,582.30 L353.83,582.30 L354.09,582.30 L354.34,582.30 L354.60,582.30 L354.85,582.30 L355.10,582.30 L355.36,582.30 L355.61,582.30 L355.86,582.30 L356.12,582.30 L356.37,582.30 L356.62,582.30 L356.88,582.30 L357.13,582.30 L357.39,582.30 L357.64,582.30 L357.89,582.30 L358.15,582.30 L358.40,582.30 L358.65,582.30 L358.91,582.29 L359.16,582.29 L359.42,582.29 L359.67,582.29 L359.92,582.29 L360.18,582.29 L360.43,582.29 L360.68,582.28 L360.94,582.28 L361.19,582.28 L361.44,582.27 L361.70,582.27 L361.95,582.26 L362.21,582.26 L362.46,582.25 L362.71,582.24 L362.97,582.24 L363.22,582.22 L363.47,582.21 L363.73,582.20 L363.98,582.18 L364.24,582.17 L364.49,582.14 L364.74,582.12 L365.00,582.09 L365.25,582.06 L365.50,582.03 L365.76,581.99 L366.01,581.94 L366.26,581.89 L366.52,581.84 L366.77,581.77 L367.03,581.70 L367.28,581.62 L367.53,581.53 L367.79,581.43 L368.04,581.31 L368.29,581.18 L368.55,581.04 L368.80,580.89 L369.05,580.71 L369.31,580.52 L369.56,580.30 L369.82,580.07 L370.07,579.81 L370.32,579.53 L370.58,579.22 L370.83,578.88 L371.08,578.51 L371.34,578.11 L371.59,577.67 L371.85,577.20 L372.10,576.70 L372.35,576.15 L372.61,575.57 L372.86,574.94 L373.11,574.28 L373.37,573.58 L373.62,572.83 L373.87,572.05 L374.13,571.22 L374.38,570.36 L374.64,569.47 L374.89,568.55 L375.14,567.60 L375.40,566.63 L375.65,565.65 L375.90,564.66 L376.16,563.68 L376.41,562.71 L376.66,561.78 L376.92,560.89 L377.17,560.07 L377.43,559.34 L377.68,558.74 L377.93,558.34 L378.19,558.53 L378.44,559.13 L378.69,559.92 L378.95,560.84 L379.20,561.84 L379.45,562.89 L379.71,563.99 L379.96,565.10 L380.22,566.20 L380.47,567.30 L380.72,568.37 L380.98,569.41 L381.23,570.42 L381.48,571.38 L381.74,572.30 L381.99,573.16 L382.25,573.98 L382.50,574.74 L382.75,575.46 L383.01,576.12 L383.26,576.73 L383.51,577.30 L383.77,577.81 L384.02,578.29 L384.27,578.72 L384.53,579.12 L384.78,579.47 L385.04,579.79 L385.29,580.09 L385.54,580.35 L385.80,580.58 L386.05,580.79 L386.30,580.98 L386.56,581.14 L386.81,581.29 L387.06,581.42 L387.32,581.53 L387.57,581.64 L387.83,581.72 L388.08,581.80 L388.33,581.87 L388.59,581.93 L388.84,581.98 L389.09,582.03 L389.35,582.07 L389.60,582.10 L389.86,582.13 L390.11,582.15 L390.36,582.18 L390.62,582.19 L390.87,582.21 L391.12,582.22 L391.38,582.24 L391.63,582.25 L391.88,582.25 L392.14,582.26 L392.39,582.27 L392.65,582.27 L392.90,582.28 L393.15,582.28 L393.41,582.28 L393.66,582.29 L393.91,582.29 L394.17,582.29 L394.42,582.29 L394.68,582.29 L394.93,582.29 L395.18,582.30 L395.44,582.30 L395.69,582.30 L395.94,582.30 L396.20,582.30 L396.45,582.30 L396.70,582.30 L396.96,582.30 L397.21,582.30 L397.47,582.30 L397.72,582.30 L397.97,582.30 L398.23,582.30 L398.48,582.30 L398.73,582.30 L398.99,582.30 L399.24,582.30 L399.49,582.30 L399.75,582.30 L400.00,582.30 L400.26,582.30 L400.51,582.30 L400.76,582.30 L401.02,582.30 L401.27,582.30 L401.52,582.30 L401.78,582.30 L402.03,582.30 L402.28,582.30 L402.54,582.30 L402.79,582.30 L403.05,582.30 L403.30,582.30 L403.55,582.30 L403.81,582.30 L404.06,582.30 L404.31,582.30 L404.57,582.30 L404.82,582.30 L405.08,582.30 L405.33,582.30 L405.58,582.30 L405.84,582.30 L406.09,582.30 L406.34,582.30 L406.60,582.30 L406.85,582.30 L407.10,582.30 L407.36,582.30 L407.61,582.30 L407.87,582.30 L408.12,582.30 L408.37,582.30 L408.63,582.30 L408.88,582.30 L409.13,582.30 L409.39,582.30 L409.64,582.30 L409.89,582.30 L410.15,582.30 L410.40,582.30 L410.66,582.30 L410.91,582.30 L411.16,582.30 L411.42,582.30 L411.67,582.30 L411.92,582.30 L412.18,582.30 L412.43,582.30 L412.69,582.30 L412.94,582.30 L413.19,582.30 L413.45,582.30 L413.70,582.30" fill="none" stroke="#4a5890" stroke-width="0.9"/>
<path d="M337.60,595.00 L337.85,595.00 L338.11,595.00 L338.36,595.00 L338.61,595.00 L338.87,595.00 L339.12,595.00 L339.38,595.00 L339.63,595.00 L339.88,595.00 L340.14,595.00 L340.39,595.00 L340.64,595.00 L340.90,595.00 L341.15,595.00 L341.41,595.00 L341.66,595.00 L341.91,595.00 L342.17,595.00 L342.42,595.00 L342.67,595.00 L342.93,595.00 L343.18,595.00 L343.43,595.00 L343.69,595.00 L343.94,595.00 L344.20,595.00 L344.45,595.00 L344.70,595.00 L344.96,595.00 L345.21,595.00 L345.46,595.00 L345.72,595.00 L345.97,595.00 L346.22,595.00 L346.48,595.00 L346.73,595.00 L346.99,595.00 L347.24,595.00 L347.49,595.00 L347.75,595.00 L348.00,595.00 L348.25,595.00 L348.51,595.00 L348.76,595.00 L349.02,595.00 L349.27,595.00 L349.52,595.00 L349.78,595.00 L350.03,595.00 L350.28,595.00 L350.54,595.00 L350.79,595.00 L351.04,595.00 L351.30,595.00 L351.55,595.00 L351.81,595.00 L352.06,595.00 L352.31,595.00 L352.57,595.00 L352.82,595.00 L353.07,595.00 L353.33,594.99 L353.58,594.99 L353.83,594.99 L354.09,594.99 L354.34,594.99 L354.60,594.99 L354.85,594.99 L355.10,594.98 L355.36,594.98 L355.61,594.98 L355.86,594.97 L356.12,594.97 L356.37,594.96 L356.62,594.96 L356.88,594.95 L357.13,594.94 L357.39,594.93 L357.64,594.92 L357.89,594.91 L358.15,594.90 L358.40,594.88 L358.65,594.86 L358.91,594.84 L359.16,594.82 L359.42,594.79 L359.67,594.76 L359.92,594.72 L360.18,594.68 L360.43,594.64 L360.68,594.59 L360.94,594.53 L361.19,594.46 L361.44,594.39 L361.70,594.31 L361.95,594.22 L362.21,594.11 L362.46,594.00 L362.71,593.87 L362.97,593.73 L363.22,593.57 L363.47,593.39 L363.73,593.20 L363.98,592.98 L364.24,592.75 L364.49,592.49 L364.74,592.21 L365.00,591.90 L365.25,591.56 L365.50,591.19 L365.76,590.79 L366.01,590.36 L366.26,589.89 L366.52,589.39 L366.77,588.85 L367.03,588.27 L367.28,587.66 L367.53,587.00 L367.79,586.31 L368.04,585.58 L368.29,584.81 L368.55,584.00 L368.80,583.16 L369.05,582.29 L369.31,581.40 L369.56,580.48 L369.82,579.54 L370.07,578.60 L370.32,577.65 L370.58,576.72 L370.83,575.80 L371.08,574.93 L371.34,574.10 L371.59,573.35 L371.85,572.71 L372.10,572.21 L372.35,572.03 L372.61,572.43 L372.86,573.04 L373.11,573.79 L373.37,574.64 L373.62,575.55 L373.87,576.51 L374.13,577.50 L374.38,578.50 L374.64,579.50 L374.89,580.49 L375.14,581.46 L375.40,582.41 L375.65,583.32 L375.90,584.20 L376.16,585.05 L376.41,585.85 L376.66,586.61 L376.92,587.32 L377.17,588.00 L377.43,588.62 L377.68,589.21 L377.93,589.75 L378.19,590.26 L378.44,590.72 L378.69,591.15 L378.95,591.54 L379.20,591.90 L379.45,592.23 L379.71,592.53 L379.96,592.80 L380.22,593.04 L380.47,593.26 L380.72,593.46 L380.98,593.64 L381.23,593.80 L381.48,593.94 L381.74,594.07 L381.99,594.18 L382.25,594.28 L382.50,594.37 L382.75,594.45 L383.01,594.52 L383.26,594.58 L383.51,594.64 L383.77,594.69 L384.02,594.73 L384.27,594.76 L384.53,594.80 L384.78,594.82 L385.04,594.85 L385.29,594.87 L385.54,594.89 L385.80,594.90 L386.05,594.92 L386.30,594.93 L386.56,594.94 L386.81,594.95 L387.06,594.96 L387.32,594.96 L387.57,594.97 L387.83,594.97 L388.08,594.98 L388.33,594.98 L388.59,594.98 L388.84,594.99 L389.09,594.99 L389.35,594.99 L389.60,594.99 L389.86,594.99 L390.11,594.99 L390.36,595.00 L390.62,595.00 L390.87,595.00 L391.12,595.00 L391.38,595.00 L391.63,595.00 L391.88,595.00 L392.14,595.00 L392.39,595.00 L392.65,595.00 L392.90,595.00 L393.15,595.00 L393.41,595.00 L393.66,595.00 L393.91,595.00 L394.17,595.00 L394.42,595.00 L394.68,595.00 L394.93,595.00 L395.18,595.00 L395.44,595.00 L395.69,595.00 L395.94,595.00 L396.20,595.00 L396.45,595.00 L396.70,595.00 L396.96,595.00 L397.21,595.00 L397.47,595.00 L397.72,595.00 L397.97,595.00 L398.23,595.00 L398.48,595.00 L398.73,595.00 L398.99,595.00 L399.24,595.00 L399.49,595.00 L399.75,595.00 L400.00,595.00 L400.26,595.00 L400.51,595.00 L400.76,595.00 L401.02,595.00 L401.27,595.00 L401.52,595.00 L401.78,595.00 L402.03,595.00 L402.28,595.00 L402.54,595.00 L402.79,595.00 L403.05,595.00 L403.30,595.00 L403.55,595.00 L403.81,595.00 L404.06,595.00 L404.31,595.00 L404.57,595.00 L404.82,595.00 L405.08,595.00 L405.33,595.00 L405.58,595.00 L405.84,595.00 L406.09,595.00 L406.34,595.00 L406.60,595.00 L406.85,595.00 L407.10,595.00 L407.36,595.00 L407.61,595.00 L407.87,595.00 L408.12,595.00 L408.37,595.00 L408.63,595.00 L408.88,595.00 L409.13,595.00 L409.39,595.00 L409.64,595.00 L409.89,595.00 L410.15,595.00 L410.40,595.00 L410.66,595.00 L410.91,595.00 L411.16,595.00 L411.42,595.00 L411.67,595.00 L411.92,595.00 L412.18,595.00 L412.43,595.00 L412.69,595.00 L412.94,595.00 L413.19,595.00 L413.45,595.00 L413.70,595.00 L413.7,595.00 L337.6,595.00 Z" fill="#f7c878" fill-opacity="0.72" stroke="none"/>
<path d="M337.60,595.00 L337.85,595.00 L338.11,595.00 L338.36,595.00 L338.61,595.00 L338.87,595.00 L339.12,595.00 L339.38,595.00 L339.63,595.00 L339.88,595.00 L340.14,595.00 L340.39,595.00 L340.64,595.00 L340.90,595.00 L341.15,595.00 L341.41,595.00 L341.66,595.00 L341.91,595.00 L342.17,595.00 L342.42,595.00 L342.67,595.00 L342.93,595.00 L343.18,595.00 L343.43,595.00 L343.69,595.00 L343.94,595.00 L344.20,595.00 L344.45,595.00 L344.70,595.00 L344.96,595.00 L345.21,595.00 L345.46,595.00 L345.72,595.00 L345.97,595.00 L346.22,595.00 L346.48,595.00 L346.73,595.00 L346.99,595.00 L347.24,595.00 L347.49,595.00 L347.75,595.00 L348.00,595.00 L348.25,595.00 L348.51,595.00 L348.76,595.00 L349.02,595.00 L349.27,595.00 L349.52,595.00 L349.78,595.00 L350.03,595.00 L350.28,595.00 L350.54,595.00 L350.79,595.00 L351.04,595.00 L351.30,595.00 L351.55,595.00 L351.81,595.00 L352.06,595.00 L352.31,595.00 L352.57,595.00 L352.82,595.00 L353.07,595.00 L353.33,594.99 L353.58,594.99 L353.83,594.99 L354.09,594.99 L354.34,594.99 L354.60,594.99 L354.85,594.99 L355.10,594.98 L355.36,594.98 L355.61,594.98 L355.86,594.97 L356.12,594.97 L356.37,594.96 L356.62,594.96 L356.88,594.95 L357.13,594.94 L357.39,594.93 L357.64,594.92 L357.89,594.91 L358.15,594.90 L358.40,594.88 L358.65,594.86 L358.91,594.84 L359.16,594.82 L359.42,594.79 L359.67,594.76 L359.92,594.72 L360.18,594.68 L360.43,594.64 L360.68,594.59 L360.94,594.53 L361.19,594.46 L361.44,594.39 L361.70,594.31 L361.95,594.22 L362.21,594.11 L362.46,594.00 L362.71,593.87 L362.97,593.73 L363.22,593.57 L363.47,593.39 L363.73,593.20 L363.98,592.98 L364.24,592.75 L364.49,592.49 L364.74,592.21 L365.00,591.90 L365.25,591.56 L365.50,591.19 L365.76,590.79 L366.01,590.36 L366.26,589.89 L366.52,589.39 L366.77,588.85 L367.03,588.27 L367.28,587.66 L367.53,587.00 L367.79,586.31 L368.04,585.58 L368.29,584.81 L368.55,584.00 L368.80,583.16 L369.05,582.29 L369.31,581.40 L369.56,580.48 L369.82,579.54 L370.07,578.60 L370.32,577.65 L370.58,576.72 L370.83,575.80 L371.08,574.93 L371.34,574.10 L371.59,573.35 L371.85,572.71 L372.10,572.21 L372.35,572.03 L372.61,572.43 L372.86,573.04 L373.11,573.79 L373.37,574.64 L373.62,575.55 L373.87,576.51 L374.13,577.50 L374.38,578.50 L374.64,579.50 L374.89,580.49 L375.14,581.46 L375.40,582.41 L375.65,583.32 L375.90,584.20 L376.16,585.05 L376.41,585.85 L376.66,586.61 L376.92,587.32 L377.17,588.00 L377.43,588.62 L377.68,589.21 L377.93,589.75 L378.19,590.26 L378.44,590.72 L378.69,591.15 L378.95,591.54 L379.20,591.90 L379.45,592.23 L379.71,592.53 L379.96,592.80 L380.22,593.04 L380.47,593.26 L380.72,593.46 L380.98,593.64 L381.23,593.80 L381.48,593.94 L381.74,594.07 L381.99,594.18 L382.25,594.28 L382.50,594.37 L382.75,594.45 L383.01,594.52 L383.26,594.58 L383.51,594.64 L383.77,594.69 L384.02,594.73 L384.27,594.76 L384.53,594.80 L384.78,594.82 L385.04,594.85 L385.29,594.87 L385.54,594.89 L385.80,594.90 L386.05,594.92 L386.30,594.93 L386.56,594.94 L386.81,594.95 L387.06,594.96 L387.32,594.96 L387.57,594.97 L387.83,594.97 L388.08,594.98 L388.33,594.98 L388.59,594.98 L388.84,594.99 L389.09,594.99 L389.35,594.99 L389.60,594.99 L389.86,594.99 L390.11,594.99 L390.36,595.00 L390.62,595.00 L390.87,595.00 L391.12,595.00 L391.38,595.00 L391.63,595.00 L391.88,595.00 L392.14,595.00 L392.39,595.00 L392.65,595.00 L392.90,595.00 L393.15,595.00 L393.41,595.00 L393.66,595.00 L393.91,595.00 L394.17,595.00 L394.42,595.00 L394.68,595.00 L394.93,595.00 L395.18,595.00 L395.44,595.00 L395.69,595.00 L395.94,595.00 L396.20,595.00 L396.45,595.00 L396.70,595.00 L396.96,595.00 L397.21,595.00 L397.47,595.00 L397.72,595.00 L397.97,595.00 L398.23,595.00 L398.48,595.00 L398.73,595.00 L398.99,595.00 L399.24,595.00 L399.49,595.00 L399.75,595.00 L400.00,595.00 L400.26,595.00 L400.51,595.00 L400.76,595.00 L401.02,595.00 L401.27,595.00 L401.52,595.00 L401.78,595.00 L402.03,595.00 L402.28,595.00 L402.54,595.00 L402.79,595.00 L403.05,595.00 L403.30,595.00 L403.55,595.00 L403.81,595.00 L404.06,595.00 L404.31,595.00 L404.57,595.00 L404.82,595.00 L405.08,595.00 L405.33,595.00 L405.58,595.00 L405.84,595.00 L406.09,595.00 L406.34,595.00 L406.60,595.00 L406.85,595.00 L407.10,595.00 L407.36,595.00 L407.61,595.00 L407.87,595.00 L408.12,595.00 L408.37,595.00 L408.63,595.00 L408.88,595.00 L409.13,595.00 L409.39,595.00 L409.64,595.00 L409.89,595.00 L410.15,595.00 L410.40,595.00 L410.66,595.00 L410.91,595.00 L411.16,595.00 L411.42,595.00 L411.67,595.00 L411.92,595.00 L412.18,595.00 L412.43,595.00 L412.69,595.00 L412.94,595.00 L413.19,595.00 L413.45,595.00 L413.70,595.00" fill="none" stroke="#f0bb58" stroke-width="0.9"/>
<path d="M337.60,607.90 L337.85,607.90 L338.11,607.90 L338.36,607.90 L338.61,607.90 L338.87,607.90 L339.12,607.90 L339.38,607.90 L339.63,607.90 L339.88,607.90 L340.14,607.90 L340.39,607.90 L340.64,607.90 L340.90,607.90 L341.15,607.90 L341.41,607.90 L341.66,607.90 L341.91,607.90 L342.17,607.90 L342.42,607.90 L342.67,607.90 L342.93,607.90 L343.18,607.90 L343.43,607.90 L343.69,607.90 L343.94,607.90 L344.20,607.90 L344.45,607.90 L344.70,607.90 L344.96,607.90 L345.21,607.90 L345.46,607.90 L345.72,607.90 L345.97,607.90 L346.22,607.90 L346.48,607.90 L346.73,607.90 L346.99,607.90 L347.24,607.90 L347.49,607.90 L347.75,607.90 L348.00,607.90 L348.25,607.90 L348.51,607.90 L348.76,607.90 L349.02,607.90 L349.27,607.90 L349.52,607.90 L349.78,607.90 L350.03,607.90 L350.28,607.90 L350.54,607.90 L350.79,607.90 L351.04,607.90 L351.30,607.90 L351.55,607.90 L351.81,607.90 L352.06,607.90 L352.31,607.90 L352.57,607.90 L352.82,607.90 L353.07,607.90 L353.33,607.90 L353.58,607.90 L353.83,607.90 L354.09,607.90 L354.34,607.90 L354.60,607.90 L354.85,607.90 L355.10,607.90 L355.36,607.90 L355.61,607.90 L355.86,607.89 L356.12,607.89 L356.37,607.89 L356.62,607.89 L356.88,607.89 L357.13,607.89 L357.39,607.88 L357.64,607.88 L357.89,607.88 L358.15,607.87 L358.40,607.87 L358.65,607.86 L358.91,607.85 L359.16,607.85 L359.42,607.84 L359.67,607.83 L359.92,607.81 L360.18,607.80 L360.43,607.78 L360.68,607.76 L360.94,607.74 L361.19,607.71 L361.44,607.68 L361.70,607.64 L361.95,607.60 L362.21,607.55 L362.46,607.50 L362.71,607.44 L362.97,607.37 L363.22,607.29 L363.47,607.20 L363.73,607.09 L363.98,606.98 L364.24,606.85 L364.49,606.70 L364.74,606.53 L365.00,606.35 L365.25,606.14 L365.50,605.91 L365.76,605.65 L366.01,605.37 L366.26,605.06 L366.52,604.71 L366.77,604.33 L367.03,603.91 L367.28,603.46 L367.53,602.96 L367.79,602.42 L368.04,601.84 L368.29,601.21 L368.55,600.54 L368.80,599.81 L369.05,599.04 L369.31,598.23 L369.56,597.37 L369.82,596.46 L370.07,595.51 L370.32,594.53 L370.58,593.52 L370.83,592.49 L371.08,591.44 L371.34,590.38 L371.59,589.34 L371.85,588.32 L372.10,587.34 L372.35,586.43 L372.61,585.61 L372.86,584.93 L373.11,584.47 L373.37,584.59 L373.62,585.16 L373.87,585.92 L374.13,586.81 L374.38,587.79 L374.64,588.82 L374.89,589.88 L375.14,590.97 L375.40,592.05 L375.65,593.13 L375.90,594.18 L376.16,595.21 L376.41,596.19 L376.66,597.14 L376.92,598.04 L377.17,598.89 L377.43,599.69 L377.68,600.44 L377.93,601.15 L378.19,601.80 L378.44,602.40 L378.69,602.96 L378.95,603.47 L379.20,603.94 L379.45,604.36 L379.71,604.75 L379.96,605.11 L380.22,605.42 L380.47,605.71 L380.72,605.97 L380.98,606.20 L381.23,606.41 L381.48,606.59 L381.74,606.75 L381.99,606.90 L382.25,607.03 L382.50,607.14 L382.75,607.24 L383.01,607.33 L383.26,607.41 L383.51,607.47 L383.77,607.53 L384.02,607.58 L384.27,607.63 L384.53,607.67 L384.78,607.70 L385.04,607.73 L385.29,607.76 L385.54,607.78 L385.80,607.80 L386.05,607.81 L386.30,607.82 L386.56,607.84 L386.81,607.85 L387.06,607.85 L387.32,607.86 L387.57,607.87 L387.83,607.87 L388.08,607.88 L388.33,607.88 L388.59,607.88 L388.84,607.89 L389.09,607.89 L389.35,607.89 L389.60,607.89 L389.86,607.89 L390.11,607.89 L390.36,607.90 L390.62,607.90 L390.87,607.90 L391.12,607.90 L391.38,607.90 L391.63,607.90 L391.88,607.90 L392.14,607.90 L392.39,607.90 L392.65,607.90 L392.90,607.90 L393.15,607.90 L393.41,607.90 L393.66,607.90 L393.91,607.90 L394.17,607.90 L394.42,607.90 L394.68,607.90 L394.93,607.90 L395.18,607.90 L395.44,607.90 L395.69,607.90 L395.94,607.90 L396.20,607.90 L396.45,607.90 L396.70,607.90 L396.96,607.90 L397.21,607.90 L397.47,607.90 L397.72,607.90 L397.97,607.90 L398.23,607.90 L398.48,607.90 L398.73,607.90 L398.99,607.90 L399.24,607.90 L399.49,607.90 L399.75,607.90 L400.00,607.90 L400.26,607.90 L400.51,607.90 L400.76,607.90 L401.02,607.90 L401.27,607.90 L401.52,607.90 L401.78,607.90 L402.03,607.90 L402.28,607.90 L402.54,607.90 L402.79,607.90 L403.05,607.90 L403.30,607.90 L403.55,607.90 L403.81,607.90 L404.06,607.90 L404.31,607.90 L404.57,607.90 L404.82,607.90 L405.08,607.90 L405.33,607.90 L405.58,607.90 L405.84,607.90 L406.09,607.90 L406.34,607.90 L406.60,607.90 L406.85,607.90 L407.10,607.90 L407.36,607.90 L407.61,607.90 L407.87,607.90 L408.12,607.90 L408.37,607.90 L408.63,607.90 L408.88,607.90 L409.13,607.90 L409.39,607.90 L409.64,607.90 L409.89,607.90 L410.15,607.90 L410.40,607.90 L410.66,607.90 L410.91,607.90 L411.16,607.90 L411.42,607.90 L411.67,607.90 L411.92,607.90 L412.18,607.90 L412.43,607.90 L412.69,607.90 L412.94,607.90 L413.19,607.90 L413.45,607.90 L413.70,607.90 L413.7,607.90 L337.6,607.90 Z" fill="#8090c0" fill-opacity="0.72" stroke="none"/>
<path d="M337.60,607.90 L337.85,607.90 L338.11,607.90 L338.36,607.90 L338.61,607.90 L338.87,607.90 L339.12,607.90 L339.38,607.90 L339.63,607.90 L339.88,607.90 L340.14,607.90 L340.39,607.90 L340.64,607.90 L340.90,607.90 L341.15,607.90 L341.41,607.90 L341.66,607.90 L341.91,607.90 L342.17,607.90 L342.42,607.90 L342.67,607.90 L342.93,607.90 L343.18,607.90 L343.43,607.90 L343.69,607.90 L343.94,607.90 L344.20,607.90 L344.45,607.90 L344.70,607.90 L344.96,607.90 L345.21,607.90 L345.46,607.90 L345.72,607.90 L345.97,607.90 L346.22,607.90 L346.48,607.90 L346.73,607.90 L346.99,607.90 L347.24,607.90 L347.49,607.90 L347.75,607.90 L348.00,607.90 L348.25,607.90 L348.51,607.90 L348.76,607.90 L349.02,607.90 L349.27,607.90 L349.52,607.90 L349.78,607.90 L350.03,607.90 L350.28,607.90 L350.54,607.90 L350.79,607.90 L351.04,607.90 L351.30,607.90 L351.55,607.90 L351.81,607.90 L352.06,607.90 L352.31,607.90 L352.57,607.90 L352.82,607.90 L353.07,607.90 L353.33,607.90 L353.58,607.90 L353.83,607.90 L354.09,607.90 L354.34,607.90 L354.60,607.90 L354.85,607.90 L355.10,607.90 L355.36,607.90 L355.61,607.90 L355.86,607.89 L356.12,607.89 L356.37,607.89 L356.62,607.89 L356.88,607.89 L357.13,607.89 L357.39,607.88 L357.64,607.88 L357.89,607.88 L358.15,607.87 L358.40,607.87 L358.65,607.86 L358.91,607.85 L359.16,607.85 L359.42,607.84 L359.67,607.83 L359.92,607.81 L360.18,607.80 L360.43,607.78 L360.68,607.76 L360.94,607.74 L361.19,607.71 L361.44,607.68 L361.70,607.64 L361.95,607.60 L362.21,607.55 L362.46,607.50 L362.71,607.44 L362.97,607.37 L363.22,607.29 L363.47,607.20 L363.73,607.09 L363.98,606.98 L364.24,606.85 L364.49,606.70 L364.74,606.53 L365.00,606.35 L365.25,606.14 L365.50,605.91 L365.76,605.65 L366.01,605.37 L366.26,605.06 L366.52,604.71 L366.77,604.33 L367.03,603.91 L367.28,603.46 L367.53,602.96 L367.79,602.42 L368.04,601.84 L368.29,601.21 L368.55,600.54 L368.80,599.81 L369.05,599.04 L369.31,598.23 L369.56,597.37 L369.82,596.46 L370.07,595.51 L370.32,594.53 L370.58,593.52 L370.83,592.49 L371.08,591.44 L371.34,590.38 L371.59,589.34 L371.85,588.32 L372.10,587.34 L372.35,586.43 L372.61,585.61 L372.86,584.93 L373.11,584.47 L373.37,584.59 L373.62,585.16 L373.87,585.92 L374.13,586.81 L374.38,587.79 L374.64,588.82 L374.89,589.88 L375.14,590.97 L375.40,592.05 L375.65,593.13 L375.90,594.18 L376.16,595.21 L376.41,596.19 L376.66,597.14 L376.92,598.04 L377.17,598.89 L377.43,599.69 L377.68,600.44 L377.93,601.15 L378.19,601.80 L378.44,602.40 L378.69,602.96 L378.95,603.47 L379.20,603.94 L379.45,604.36 L379.71,604.75 L379.96,605.11 L380.22,605.42 L380.47,605.71 L380.72,605.97 L380.98,606.20 L381.23,606.41 L381.48,606.59 L381.74,606.75 L381.99,606.90 L382.25,607.03 L382.50,607.14 L382.75,607.24 L383.01,607.33 L383.26,607.41 L383.51,607.47 L383.77,607.53 L384.02,607.58 L384.27,607.63 L384.53,607.67 L384.78,607.70 L385.04,607.73 L385.29,607.76 L385.54,607.78 L385.80,607.80 L386.05,607.81 L386.30,607.82 L386.56,607.84 L386.81,607.85 L387.06,607.85 L387.32,607.86 L387.57,607.87 L387.83,607.87 L388.08,607.88 L388.33,607.88 L388.59,607.88 L388.84,607.89 L389.09,607.89 L389.35,607.89 L389.60,607.89 L389.86,607.89 L390.11,607.89 L390.36,607.90 L390.62,607.90 L390.87,607.90 L391.12,607.90 L391.38,607.90 L391.63,607.90 L391.88,607.90 L392.14,607.90 L392.39,607.90 L392.65,607.90 L392.90,607.90 L393.15,607.90 L393.41,607.90 L393.66,607.90 L393.91,607.90 L394.17,607.90 L394.42,607.90 L394.68,607.90 L394.93,607.90 L395.18,607.90 L395.44,607.90 L395.69,607.90 L395.94,607.90 L396.20,607.90 L396.45,607.90 L396.70,607.90 L396.96,607.90 L397.21,607.90 L397.47,607.90 L397.72,607.90 L397.97,607.90 L398.23,607.90 L398.48,607.90 L398.73,607.90 L398.99,607.90 L399.24,607.90 L399.49,607.90 L399.75,607.90 L400.00,607.90 L400.26,607.90 L400.51,607.90 L400.76,607.90 L401.02,607.90 L401.27,607.90 L401.52,607.90 L401.78,607.90 L402.03,607.90 L402.28,607.90 L402.54,607.90 L402.79,607.90 L403.05,607.90 L403.30,607.90 L403.55,607.90 L403.81,607.90 L404.06,607.90 L404.31,607.90 L404.57,607.90 L404.82,607.90 L405.08,607.90 L405.33,607.90 L405.58,607.90 L405.84,607.90 L406.09,607.90 L406.34,607.90 L406.60,607.90 L406.85,607.90 L407.10,607.90 L407.36,607.90 L407.61,607.90 L407.87,607.90 L408.12,607.90 L408.37,607.90 L408.63,607.90 L408.88,607.90 L409.13,607.90 L409.39,607.90 L409.64,607.90 L409.89,607.90 L410.15,607.90 L410.40,607.90 L410.66,607.90 L410.91,607.90 L411.16,607.90 L411.42,607.90 L411.67,607.90 L411.92,607.90 L412.18,607.90 L412.43,607.90 L412.69,607.90 L412.94,607.90 L413.19,607.90 L413.45,607.90 L413.70,607.90" fill="none" stroke="#5a6a98" stroke-width="0.9"/>
<path d="M337.60,621.30 L337.85,621.30 L338.11,621.30 L338.36,621.30 L338.61,621.30 L338.87,621.30 L339.12,621.30 L339.38,621.30 L339.63,621.30 L339.88,621.30 L340.14,621.30 L340.39,621.30 L340.64,621.30 L340.90,621.30 L341.15,621.30 L341.41,621.30 L341.66,621.30 L341.91,621.30 L342.17,621.30 L342.42,621.30 L342.67,621.30 L342.93,621.30 L343.18,621.30 L343.43,621.30 L343.69,621.30 L343.94,621.30 L344.20,621.30 L344.45,621.30 L344.70,621.30 L344.96,621.30 L345.21,621.30 L345.46,621.30 L345.72,621.30 L345.97,621.30 L346.22,621.30 L346.48,621.30 L346.73,621.30 L346.99,621.30 L347.24,621.30 L347.49,621.30 L347.75,621.30 L348.00,621.30 L348.25,621.30 L348.51,621.30 L348.76,621.30 L349.02,621.30 L349.27,621.30 L349.52,621.30 L349.78,621.30 L350.03,621.30 L350.28,621.30 L350.54,621.30 L350.79,621.30 L351.04,621.30 L351.30,621.30 L351.55,621.30 L351.81,621.30 L352.06,621.30 L352.31,621.30 L352.57,621.30 L352.82,621.30 L353.07,621.30 L353.33,621.30 L353.58,621.30 L353.83,621.30 L354.09,621.30 L354.34,621.30 L354.60,621.30 L354.85,621.30 L355.10,621.30 L355.36,621.30 L355.61,621.30 L355.86,621.30 L356.12,621.30 L356.37,621.30 L356.62,621.30 L356.88,621.29 L357.13,621.29 L357.39,621.29 L357.64,621.29 L357.89,621.29 L358.15,621.29 L358.40,621.28 L358.65,621.28 L358.91,621.28 L359.16,621.27 L359.42,621.27 L359.67,621.26 L359.92,621.26 L360.18,621.25 L360.43,621.24 L360.68,621.23 L360.94,621.21 L361.19,621.20 L361.44,621.18 L361.70,621.16 L361.95,621.14 L362.21,621.11 L362.46,621.07 L362.71,621.04 L362.97,620.99 L363.22,620.94 L363.47,620.89 L363.73,620.82 L363.98,620.75 L364.24,620.66 L364.49,620.56 L364.74,620.45 L365.00,620.33 L365.25,620.19 L365.50,620.03 L365.76,619.85 L366.01,619.65 L366.26,619.42 L366.52,619.17 L366.77,618.89 L367.03,618.58 L367.28,618.24 L367.53,617.86 L367.79,617.44 L368.04,616.99 L368.29,616.49 L368.55,615.95 L368.80,615.36 L369.05,614.72 L369.31,614.04 L369.56,613.30 L369.82,612.52 L370.07,611.69 L370.32,610.81 L370.58,609.89 L370.83,608.92 L371.08,607.92 L371.34,606.89 L371.59,605.84 L371.85,604.78 L372.10,603.72 L372.35,602.67 L372.61,601.66 L372.86,600.70 L373.11,599.83 L373.37,599.08 L373.62,598.51 L373.87,598.35 L374.13,598.77 L374.38,599.40 L374.64,600.16 L374.89,601.02 L375.14,601.93 L375.40,602.90 L375.65,603.89 L375.90,604.89 L376.16,605.89 L376.41,606.87 L376.66,607.84 L376.92,608.79 L377.17,609.70 L377.43,610.58 L377.68,611.42 L377.93,612.22 L378.19,612.97 L378.44,613.68 L378.69,614.35 L378.95,614.98 L379.20,615.56 L379.45,616.10 L379.71,616.60 L379.96,617.06 L380.22,617.49 L380.47,617.88 L380.72,618.23 L380.98,618.56 L381.23,618.85 L381.48,619.12 L381.74,619.36 L381.99,619.58 L382.25,619.78 L382.50,619.95 L382.75,620.11 L383.01,620.25 L383.26,620.38 L383.51,620.49 L383.77,620.59 L384.02,620.68 L384.27,620.76 L384.53,620.83 L384.78,620.89 L385.04,620.94 L385.29,620.99 L385.54,621.03 L385.80,621.07 L386.05,621.10 L386.30,621.13 L386.56,621.15 L386.81,621.17 L387.06,621.19 L387.32,621.21 L387.57,621.22 L387.83,621.23 L388.08,621.24 L388.33,621.25 L388.59,621.26 L388.84,621.26 L389.09,621.27 L389.35,621.27 L389.60,621.28 L389.86,621.28 L390.11,621.28 L390.36,621.29 L390.62,621.29 L390.87,621.29 L391.12,621.29 L391.38,621.29 L391.63,621.29 L391.88,621.30 L392.14,621.30 L392.39,621.30 L392.65,621.30 L392.90,621.30 L393.15,621.30 L393.41,621.30 L393.66,621.30 L393.91,621.30 L394.17,621.30 L394.42,621.30 L394.68,621.30 L394.93,621.30 L395.18,621.30 L395.44,621.30 L395.69,621.30 L395.94,621.30 L396.20,621.30 L396.45,621.30 L396.70,621.30 L396.96,621.30 L397.21,621.30 L397.47,621.30 L397.72,621.30 L397.97,621.30 L398.23,621.30 L398.48,621.30 L398.73,621.30 L398.99,621.30 L399.24,621.30 L399.49,621.30 L399.75,621.30 L400.00,621.30 L400.26,621.30 L400.51,621.30 L400.76,621.30 L401.02,621.30 L401.27,621.30 L401.52,621.30 L401.78,621.30 L402.03,621.30 L402.28,621.30 L402.54,621.30 L402.79,621.30 L403.05,621.30 L403.30,621.30 L403.55,621.30 L403.81,621.30 L404.06,621.30 L404.31,621.30 L404.57,621.30 L404.82,621.30 L405.08,621.30 L405.33,621.30 L405.58,621.30 L405.84,621.30 L406.09,621.30 L406.34,621.30 L406.60,621.30 L406.85,621.30 L407.10,621.30 L407.36,621.30 L407.61,621.30 L407.87,621.30 L408.12,621.30 L408.37,621.30 L408.63,621.30 L408.88,621.30 L409.13,621.30 L409.39,621.30 L409.64,621.30 L409.89,621.30 L410.15,621.30 L410.40,621.30 L410.66,621.30 L410.91,621.30 L411.16,621.30 L411.42,621.30 L411.67,621.30 L411.92,621.30 L412.18,621.30 L412.43,621.30 L412.69,621.30 L412.94,621.30 L413.19,621.30 L413.45,621.30 L413.70,621.30 L413.7,621.30 L337.6,621.30 Z" fill="#8b6d4e" fill-opacity="0.72" stroke="none"/>
<path d="M337.60,621.30 L337.85,621.30 L338.11,621.30 L338.36,621.30 L338.61,621.30 L338.87,621.30 L339.12,621.30 L339.38,621.30 L339.63,621.30 L339.88,621.30 L340.14,621.30 L340.39,621.30 L340.64,621.30 L340.90,621.30 L341.15,621.30 L341.41,621.30 L341.66,621.30 L341.91,621.30 L342.17,621.30 L342.42,621.30 L342.67,621.30 L342.93,621.30 L343.18,621.30 L343.43,621.30 L343.69,621.30 L343.94,621.30 L344.20,621.30 L344.45,621.30 L344.70,621.30 L344.96,621.30 L345.21,621.30 L345.46,621.30 L345.72,621.30 L345.97,621.30 L346.22,621.30 L346.48,621.30 L346.73,621.30 L346.99,621.30 L347.24,621.30 L347.49,621.30 L347.75,621.30 L348.00,621.30 L348.25,621.30 L348.51,621.30 L348.76,621.30 L349.02,621.30 L349.27,621.30 L349.52,621.30 L349.78,621.30 L350.03,621.30 L350.28,621.30 L350.54,621.30 L350.79,621.30 L351.04,621.30 L351.30,621.30 L351.55,621.30 L351.81,621.30 L352.06,621.30 L352.31,621.30 L352.57,621.30 L352.82,621.30 L353.07,621.30 L353.33,621.30 L353.58,621.30 L353.83,621.30 L354.09,621.30 L354.34,621.30 L354.60,621.30 L354.85,621.30 L355.10,621.30 L355.36,621.30 L355.61,621.30 L355.86,621.30 L356.12,621.30 L356.37,621.30 L356.62,621.30 L356.88,621.29 L357.13,621.29 L357.39,621.29 L357.64,621.29 L357.89,621.29 L358.15,621.29 L358.40,621.28 L358.65,621.28 L358.91,621.28 L359.16,621.27 L359.42,621.27 L359.67,621.26 L359.92,621.26 L360.18,621.25 L360.43,621.24 L360.68,621.23 L360.94,621.21 L361.19,621.20 L361.44,621.18 L361.70,621.16 L361.95,621.14 L362.21,621.11 L362.46,621.07 L362.71,621.04 L362.97,620.99 L363.22,620.94 L363.47,620.89 L363.73,620.82 L363.98,620.75 L364.24,620.66 L364.49,620.56 L364.74,620.45 L365.00,620.33 L365.25,620.19 L365.50,620.03 L365.76,619.85 L366.01,619.65 L366.26,619.42 L366.52,619.17 L366.77,618.89 L367.03,618.58 L367.28,618.24 L367.53,617.86 L367.79,617.44 L368.04,616.99 L368.29,616.49 L368.55,615.95 L368.80,615.36 L369.05,614.72 L369.31,614.04 L369.56,613.30 L369.82,612.52 L370.07,611.69 L370.32,610.81 L370.58,609.89 L370.83,608.92 L371.08,607.92 L371.34,606.89 L371.59,605.84 L371.85,604.78 L372.10,603.72 L372.35,602.67 L372.61,601.66 L372.86,600.70 L373.11,599.83 L373.37,599.08 L373.62,598.51 L373.87,598.35 L374.13,598.77 L374.38,599.40 L374.64,600.16 L374.89,601.02 L375.14,601.93 L375.40,602.90 L375.65,603.89 L375.90,604.89 L376.16,605.89 L376.41,606.87 L376.66,607.84 L376.92,608.79 L377.17,609.70 L377.43,610.58 L377.68,611.42 L377.93,612.22 L378.19,612.97 L378.44,613.68 L378.69,614.35 L378.95,614.98 L379.20,615.56 L379.45,616.10 L379.71,616.60 L379.96,617.06 L380.22,617.49 L380.47,617.88 L380.72,618.23 L380.98,618.56 L381.23,618.85 L381.48,619.12 L381.74,619.36 L381.99,619.58 L382.25,619.78 L382.50,619.95 L382.75,620.11 L383.01,620.25 L383.26,620.38 L383.51,620.49 L383.77,620.59 L384.02,620.68 L384.27,620.76 L384.53,620.83 L384.78,620.89 L385.04,620.94 L385.29,620.99 L385.54,621.03 L385.80,621.07 L386.05,621.10 L386.30,621.13 L386.56,621.15 L386.81,621.17 L387.06,621.19 L387.32,621.21 L387.57,621.22 L387.83,621.23 L388.08,621.24 L388.33,621.25 L388.59,621.26 L388.84,621.26 L389.09,621.27 L389.35,621.27 L389.60,621.28 L389.86,621.28 L390.11,621.28 L390.36,621.29 L390.62,621.29 L390.87,621.29 L391.12,621.29 L391.38,621.29 L391.63,621.29 L391.88,621.30 L392.14,621.30 L392.39,621.30 L392.65,621.30 L392.90,621.30 L393.15,621.30 L393.41,621.30 L393.66,621.30 L393.91,621.30 L394.17,621.30 L394.42,621.30 L394.68,621.30 L394.93,621.30 L395.18,621.30 L395.44,621.30 L395.69,621.30 L395.94,621.30 L396.20,621.30 L396.45,621.30 L396.70,621.30 L396.96,621.30 L397.21,621.30 L397.47,621.30 L397.72,621.30 L397.97,621.30 L398.23,621.30 L398.48,621.30 L398.73,621.30 L398.99,621.30 L399.24,621.30 L399.49,621.30 L399.75,621.30 L400.00,621.30 L400.26,621.30 L400.51,621.30 L400.76,621.30 L401.02,621.30 L401.27,621.30 L401.52,621.30 L401.78,621.30 L402.03,621.30 L402.28,621.30 L402.54,621.30 L402.79,621.30 L403.05,621.30 L403.30,621.30 L403.55,621.30 L403.81,621.30 L404.06,621.30 L404.31,621.30 L404.57,621.30 L404.82,621.30 L405.08,621.30 L405.33,621.30 L405.58,621.30 L405.84,621.30 L406.09,621.30 L406.34,621.30 L406.60,621.30 L406.85,621.30 L407.10,621.30 L407.36,621.30 L407.61,621.30 L407.87,621.30 L408.12,621.30 L408.37,621.30 L408.63,621.30 L408.88,621.30 L409.13,621.30 L409.39,621.30 L409.64,621.30 L409.89,621.30 L410.15,621.30 L410.40,621.30 L410.66,621.30 L410.91,621.30 L411.16,621.30 L411.42,621.30 L411.67,621.30 L411.92,621.30 L412.18,621.30 L412.43,621.30 L412.69,621.30 L412.94,621.30 L413.19,621.30 L413.45,621.30 L413.70,621.30" fill="none" stroke="#5e4832" stroke-width="0.9"/>
<line x1="337.00" y1="517.70" x2="337.00" y2="621.90" stroke="#333" stroke-width="1.5"/>
<line x1="337.00" y1="621.30" x2="413.70" y2="621.30" stroke="#222" stroke-width="1.3"/>
<line x1="336.60" y1="621.30" x2="336.60" y2="623.50" stroke="#222" stroke-width="1.0"/>
<line x1="341.21" y1="621.30" x2="341.21" y2="622.70" stroke="#333" stroke-width="0.7"/>
<line x1="343.90" y1="621.30" x2="343.90" y2="622.70" stroke="#333" stroke-width="0.7"/>
<line x1="345.81" y1="621.30" x2="345.81" y2="622.70" stroke="#333" stroke-width="0.7"/>
<line x1="347.29" y1="621.30" x2="347.29" y2="622.70" stroke="#333" stroke-width="0.7"/>
<line x1="348.51" y1="621.30" x2="348.51" y2="622.70" stroke="#333" stroke-width="0.7"/>
<line x1="349.53" y1="621.30" x2="349.53" y2="622.70" stroke="#333" stroke-width="0.7"/>
<line x1="350.42" y1="621.30" x2="350.42" y2="622.70" stroke="#333" stroke-width="0.7"/>
<line x1="351.20" y1="621.30" x2="351.20" y2="622.70" stroke="#333" stroke-width="0.7"/>
<line x1="351.90" y1="621.30" x2="351.90" y2="623.50" stroke="#222" stroke-width="1.0"/>
<line x1="356.51" y1="621.30" x2="356.51" y2="622.70" stroke="#333" stroke-width="0.7"/>
<line x1="359.20" y1="621.30" x2="359.20" y2="622.70" stroke="#333" stroke-width="0.7"/>
<line x1="361.11" y1="621.30" x2="361.11" y2="622.70" stroke="#333" stroke-width="0.7"/>
<line x1="362.59" y1="621.30" x2="362.59" y2="622.70" stroke="#333" stroke-width="0.7"/>
<line x1="363.81" y1="621.30" x2="363.81" y2="622.70" stroke="#333" stroke-width="0.7"/>
<line x1="364.83" y1="621.30" x2="364.83" y2="622.70" stroke="#333" stroke-width="0.7"/>
<line x1="365.72" y1="621.30" x2="365.72" y2="622.70" stroke="#333" stroke-width="0.7"/>
<line x1="366.50" y1="621.30" x2="366.50" y2="622.70" stroke="#333" stroke-width="0.7"/>
<line x1="367.20" y1="621.30" x2="367.20" y2="623.50" stroke="#222" stroke-width="1.0"/>
<line x1="371.81" y1="621.30" x2="371.81" y2="622.70" stroke="#333" stroke-width="0.7"/>
<line x1="374.50" y1="621.30" x2="374.50" y2="622.70" stroke="#333" stroke-width="0.7"/>
<line x1="376.41" y1="621.30" x2="376.41" y2="622.70" stroke="#333" stroke-width="0.7"/>
<line x1="377.89" y1="621.30" x2="377.89" y2="622.70" stroke="#333" stroke-width="0.7"/>
<line x1="379.11" y1="621.30" x2="379.11" y2="622.70" stroke="#333" stroke-width="0.7"/>
<line x1="380.13" y1="621.30" x2="380.13" y2="622.70" stroke="#333" stroke-width="0.7"/>
<line x1="381.02" y1="621.30" x2="381.02" y2="622.70" stroke="#333" stroke-width="0.7"/>
<line x1="381.80" y1="621.30" x2="381.80" y2="622.70" stroke="#333" stroke-width="0.7"/>
<line x1="382.50" y1="621.30" x2="382.50" y2="623.50" stroke="#222" stroke-width="1.0"/>
<line x1="387.11" y1="621.30" x2="387.11" y2="622.70" stroke="#333" stroke-width="0.7"/>
<line x1="389.80" y1="621.30" x2="389.80" y2="622.70" stroke="#333" stroke-width="0.7"/>
<line x1="391.71" y1="621.30" x2="391.71" y2="622.70" stroke="#333" stroke-width="0.7"/>
<line x1="393.19" y1="621.30" x2="393.19" y2="622.70" stroke="#333" stroke-width="0.7"/>
<line x1="394.41" y1="621.30" x2="394.41" y2="622.70" stroke="#333" stroke-width="0.7"/>
<line x1="395.43" y1="621.30" x2="395.43" y2="622.70" stroke="#333" stroke-width="0.7"/>
<line x1="396.32" y1="621.30" x2="396.32" y2="622.70" stroke="#333" stroke-width="0.7"/>
<line x1="397.10" y1="621.30" x2="397.10" y2="622.70" stroke="#333" stroke-width="0.7"/>
<line x1="397.80" y1="621.30" x2="397.80" y2="623.50" stroke="#222" stroke-width="1.0"/>
<line x1="402.41" y1="621.30" x2="402.41" y2="622.70" stroke="#333" stroke-width="0.7"/>
<line x1="405.10" y1="621.30" x2="405.10" y2="622.70" stroke="#333" stroke-width="0.7"/>
<line x1="407.01" y1="621.30" x2="407.01" y2="622.70" stroke="#333" stroke-width="0.7"/>
<line x1="408.49" y1="621.30" x2="408.49" y2="622.70" stroke="#333" stroke-width="0.7"/>
<line x1="409.71" y1="621.30" x2="409.71" y2="622.70" stroke="#333" stroke-width="0.7"/>
<line x1="410.73" y1="621.30" x2="410.73" y2="622.70" stroke="#333" stroke-width="0.7"/>
<line x1="411.62" y1="621.30" x2="411.62" y2="622.70" stroke="#333" stroke-width="0.7"/>
<line x1="412.40" y1="621.30" x2="412.40" y2="622.70" stroke="#333" stroke-width="0.7"/>
<line x1="413.10" y1="621.30" x2="413.10" y2="623.50" stroke="#222" stroke-width="1.0"/>
<text x="331.70" y="633.80" font-size="8.5" fill="#262626">10<tspan font-size="5.8" dy="-3.4">0</tspan></text>
<text x="347.00" y="633.80" font-size="8.5" fill="#262626">10<tspan font-size="5.8" dy="-3.4">1</tspan></text>
<text x="362.30" y="633.80" font-size="8.5" fill="#262626">10<tspan font-size="5.8" dy="-3.4">2</tspan></text>
<text x="377.60" y="633.80" font-size="8.5" fill="#262626">10<tspan font-size="5.8" dy="-3.4">3</tspan></text>
<text x="392.90" y="633.80" font-size="8.5" fill="#262626">10<tspan font-size="5.8" dy="-3.4">4</tspan></text>
<text x="408.20" y="633.80" font-size="8.5" fill="#262626">10<tspan font-size="5.8" dy="-3.4">5</tspan></text>
<text transform="translate(375.6,648.10) scale(0.76,1)" font-size="8.5" font-weight="bold" text-anchor="middle" fill="#262626">PE CD206</text>
<text x="417.40" y="540.20" font-size="7.9" text-anchor="start" font-weight="normal" fill="#262626" >Isotype</text>
<text x="417.40" y="552.80" font-size="7.9" text-anchor="start" font-weight="normal" fill="#262626" >WT PEM</text>
<text x="417.40" y="566.00" font-size="7.9" text-anchor="start" font-weight="normal" fill="#262626" >WT PEM+rCCL3(100ng/ml)</text>
<text x="417.40" y="578.70" font-size="7.9" text-anchor="start" font-weight="normal" fill="#262626" >WT PEM+rCCL3(500ng/ml)</text>
<text x="417.40" y="591.30" font-size="7.9" text-anchor="start" font-weight="normal" fill="#262626" >CCR1-/- PEM</text>
<text x="417.40" y="604.50" font-size="7.9" text-anchor="start" font-weight="normal" fill="#262626" >CCR1-/- + rCCL3 (100ng/ml)</text>
<text x="417.40" y="616.70" font-size="7.9" text-anchor="start" font-weight="normal" fill="#262626" >CCR1-/- + rCCL3 (500ng/ml)</text>
</svg></body></html>
